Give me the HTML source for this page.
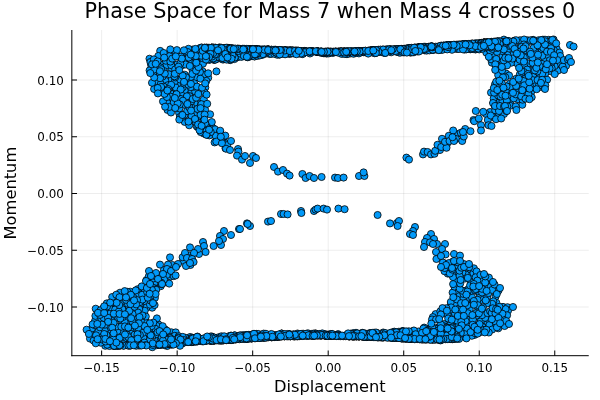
<!DOCTYPE html>
<html lang="en"><head><meta charset="utf-8"><title>Phase Space for Mass 7 when Mass 4 crosses 0</title>
<style>html,body{margin:0;padding:0;background:#fff;overflow:hidden}svg{display:block;will-change:transform;opacity:0.999}text{font-family:"DejaVu Sans","Liberation Sans",sans-serif;fill:#000}.t{font-size:11.90px}.g{font-size:16.28px}.h{font-size:20.75px}</style></head><body>
<svg width="600" height="400" viewBox="0 0 600 400">
<rect width="600" height="400" fill="#fff"/>
<g stroke="#000" stroke-opacity="0.1" stroke-width="0.7" fill="none"><line x1="101.64" y1="30.00" x2="101.64" y2="355.70"/><line x1="177.16" y1="30.00" x2="177.16" y2="355.70"/><line x1="252.68" y1="30.00" x2="252.68" y2="355.70"/><line x1="328.20" y1="30.00" x2="328.20" y2="355.70"/><line x1="403.72" y1="30.00" x2="403.72" y2="355.70"/><line x1="479.24" y1="30.00" x2="479.24" y2="355.70"/><line x1="554.76" y1="30.00" x2="554.76" y2="355.70"/><line x1="71.83" y1="307.00" x2="588.75" y2="307.00"/><line x1="71.83" y1="250.25" x2="588.75" y2="250.25"/><line x1="71.83" y1="193.50" x2="588.75" y2="193.50"/><line x1="71.83" y1="136.75" x2="588.75" y2="136.75"/><line x1="71.83" y1="80.00" x2="588.75" y2="80.00"/></g>
<g stroke="#000" stroke-width="1" fill="none"><line x1="71.83" y1="30.00" x2="71.83" y2="356.20"/><line x1="71.33" y1="355.70" x2="588.75" y2="355.70"/><line x1="101.64" y1="355.70" x2="101.64" y2="350.50"/><line x1="177.16" y1="355.70" x2="177.16" y2="350.50"/><line x1="252.68" y1="355.70" x2="252.68" y2="350.50"/><line x1="328.20" y1="355.70" x2="328.20" y2="350.50"/><line x1="403.72" y1="355.70" x2="403.72" y2="350.50"/><line x1="479.24" y1="355.70" x2="479.24" y2="350.50"/><line x1="554.76" y1="355.70" x2="554.76" y2="350.50"/><line x1="71.83" y1="307.00" x2="77.03" y2="307.00"/><line x1="71.83" y1="250.25" x2="77.03" y2="250.25"/><line x1="71.83" y1="193.50" x2="77.03" y2="193.50"/><line x1="71.83" y1="136.75" x2="77.03" y2="136.75"/><line x1="71.83" y1="80.00" x2="77.03" y2="80.00"/></g>
<g class="m" fill="#009AFA" stroke="#000" stroke-width="0.8">
<circle cx="451.9" cy="265.3" r="3.55"/>
<circle cx="380.0" cy="337.4" r="3.55"/>
<circle cx="327.1" cy="334.8" r="3.55"/>
<circle cx="215.3" cy="59.1" r="3.55"/>
<circle cx="454.4" cy="327.2" r="3.55"/>
<circle cx="366.9" cy="336.6" r="3.55"/>
<circle cx="208.0" cy="338.6" r="3.55"/>
<circle cx="451.0" cy="304.4" r="3.55"/>
<circle cx="553.3" cy="40.2" r="3.55"/>
<circle cx="438.4" cy="329.0" r="3.55"/>
<circle cx="389.9" cy="49.4" r="3.55"/>
<circle cx="218.7" cy="47.7" r="3.55"/>
<circle cx="252.0" cy="51.3" r="3.55"/>
<circle cx="492.3" cy="323.0" r="3.55"/>
<circle cx="238.7" cy="48.7" r="3.55"/>
<circle cx="309.4" cy="334.5" r="3.55"/>
<circle cx="274.2" cy="336.6" r="3.55"/>
<circle cx="319.9" cy="52.4" r="3.55"/>
<circle cx="229.7" cy="51.9" r="3.55"/>
<circle cx="359.3" cy="336.5" r="3.55"/>
<circle cx="205.5" cy="54.1" r="3.55"/>
<circle cx="455.4" cy="48.4" r="3.55"/>
<circle cx="458.9" cy="264.1" r="3.55"/>
<circle cx="461.2" cy="336.7" r="3.55"/>
<circle cx="338.4" cy="335.6" r="3.55"/>
<circle cx="130.0" cy="342.4" r="3.55"/>
<circle cx="141.9" cy="289.6" r="3.55"/>
<circle cx="483.3" cy="42.8" r="3.55"/>
<circle cx="249.4" cy="56.7" r="3.55"/>
<circle cx="286.7" cy="335.9" r="3.55"/>
<circle cx="248.7" cy="49.0" r="3.55"/>
<circle cx="423.5" cy="332.0" r="3.55"/>
<circle cx="408.4" cy="48.8" r="3.55"/>
<circle cx="464.8" cy="278.6" r="3.55"/>
<circle cx="525.4" cy="40.6" r="3.55"/>
<circle cx="175.9" cy="337.2" r="3.55"/>
<circle cx="220.2" cy="47.8" r="3.55"/>
<circle cx="175.8" cy="90.2" r="3.55"/>
<circle cx="146.5" cy="280.1" r="3.55"/>
<circle cx="297.5" cy="333.5" r="3.55"/>
<circle cx="214.3" cy="59.8" r="3.55"/>
<circle cx="402.0" cy="49.3" r="3.55"/>
<circle cx="353.1" cy="336.5" r="3.55"/>
<circle cx="258.4" cy="51.6" r="3.55"/>
<circle cx="403.2" cy="338.5" r="3.55"/>
<circle cx="446.1" cy="337.1" r="3.55"/>
<circle cx="491.9" cy="62.7" r="3.55"/>
<circle cx="125.6" cy="310.1" r="3.55"/>
<circle cx="344.3" cy="51.6" r="3.55"/>
<circle cx="421.9" cy="339.2" r="3.55"/>
<circle cx="232.3" cy="49.8" r="3.55"/>
<circle cx="231.7" cy="48.6" r="3.55"/>
<circle cx="468.4" cy="47.3" r="3.55"/>
<circle cx="385.3" cy="52.9" r="3.55"/>
<circle cx="494.1" cy="41.7" r="3.55"/>
<circle cx="455.8" cy="292.7" r="3.55"/>
<circle cx="486.3" cy="52.6" r="3.55"/>
<circle cx="187.5" cy="113.4" r="3.55"/>
<circle cx="370.5" cy="333.3" r="3.55"/>
<circle cx="196.3" cy="341.1" r="3.55"/>
<circle cx="144.3" cy="297.9" r="3.55"/>
<circle cx="528.5" cy="63.6" r="3.55"/>
<circle cx="339.9" cy="335.7" r="3.55"/>
<circle cx="138.9" cy="343.6" r="3.55"/>
<circle cx="414.9" cy="338.6" r="3.55"/>
<circle cx="226.2" cy="48.3" r="3.55"/>
<circle cx="479.3" cy="317.6" r="3.55"/>
<circle cx="163.5" cy="343.6" r="3.55"/>
<circle cx="472.5" cy="45.0" r="3.55"/>
<circle cx="251.3" cy="338.5" r="3.55"/>
<circle cx="236.0" cy="48.9" r="3.55"/>
<circle cx="258.9" cy="54.4" r="3.55"/>
<circle cx="275.3" cy="50.6" r="3.55"/>
<circle cx="480.1" cy="300.3" r="3.55"/>
<circle cx="191.3" cy="90.9" r="3.55"/>
<circle cx="211.8" cy="54.4" r="3.55"/>
<circle cx="171.5" cy="79.7" r="3.55"/>
<circle cx="146.3" cy="334.9" r="3.55"/>
<circle cx="402.9" cy="331.3" r="3.55"/>
<circle cx="355.5" cy="334.6" r="3.55"/>
<circle cx="407.2" cy="338.5" r="3.55"/>
<circle cx="221.1" cy="340.2" r="3.55"/>
<circle cx="298.6" cy="50.9" r="3.55"/>
<circle cx="330.8" cy="334.0" r="3.55"/>
<circle cx="223.0" cy="49.6" r="3.55"/>
<circle cx="462.6" cy="44.2" r="3.55"/>
<circle cx="204.1" cy="341.1" r="3.55"/>
<circle cx="527.7" cy="40.3" r="3.55"/>
<circle cx="474.9" cy="49.1" r="3.55"/>
<circle cx="405.1" cy="50.3" r="3.55"/>
<circle cx="443.5" cy="333.1" r="3.55"/>
<circle cx="362.3" cy="51.1" r="3.55"/>
<circle cx="265.2" cy="337.1" r="3.55"/>
<circle cx="438.6" cy="329.8" r="3.55"/>
<circle cx="242.8" cy="338.8" r="3.55"/>
<circle cx="289.4" cy="334.3" r="3.55"/>
<circle cx="213.9" cy="59.8" r="3.55"/>
<circle cx="402.4" cy="331.2" r="3.55"/>
<circle cx="316.2" cy="51.8" r="3.55"/>
<circle cx="264.3" cy="49.9" r="3.55"/>
<circle cx="401.6" cy="48.9" r="3.55"/>
<circle cx="182.6" cy="339.0" r="3.55"/>
<circle cx="470.2" cy="46.1" r="3.55"/>
<circle cx="273.1" cy="51.3" r="3.55"/>
<circle cx="321.8" cy="52.9" r="3.55"/>
<circle cx="205.5" cy="340.6" r="3.55"/>
<circle cx="171.0" cy="338.3" r="3.55"/>
<circle cx="477.3" cy="45.4" r="3.55"/>
<circle cx="511.2" cy="44.0" r="3.55"/>
<circle cx="227.5" cy="48.0" r="3.55"/>
<circle cx="187.6" cy="342.0" r="3.55"/>
<circle cx="451.9" cy="335.8" r="3.55"/>
<circle cx="184.7" cy="90.2" r="3.55"/>
<circle cx="487.0" cy="321.3" r="3.55"/>
<circle cx="163.4" cy="337.6" r="3.55"/>
<circle cx="285.2" cy="53.8" r="3.55"/>
<circle cx="409.2" cy="338.5" r="3.55"/>
<circle cx="383.4" cy="337.1" r="3.55"/>
<circle cx="419.3" cy="48.7" r="3.55"/>
<circle cx="318.3" cy="51.6" r="3.55"/>
<circle cx="471.4" cy="43.6" r="3.55"/>
<circle cx="218.2" cy="340.2" r="3.55"/>
<circle cx="289.4" cy="50.3" r="3.55"/>
<circle cx="498.5" cy="290.5" r="3.55"/>
<circle cx="159.0" cy="341.6" r="3.55"/>
<circle cx="270.5" cy="51.5" r="3.55"/>
<circle cx="414.5" cy="49.3" r="3.55"/>
<circle cx="346.5" cy="52.0" r="3.55"/>
<circle cx="194.9" cy="105.5" r="3.55"/>
<circle cx="449.7" cy="328.3" r="3.55"/>
<circle cx="223.3" cy="51.4" r="3.55"/>
<circle cx="122.4" cy="331.3" r="3.55"/>
<circle cx="296.5" cy="335.2" r="3.55"/>
<circle cx="458.6" cy="265.8" r="3.55"/>
<circle cx="417.2" cy="48.3" r="3.55"/>
<circle cx="177.5" cy="343.2" r="3.55"/>
<circle cx="156.0" cy="73.7" r="3.55"/>
<circle cx="373.3" cy="50.1" r="3.55"/>
<circle cx="465.3" cy="44.4" r="3.55"/>
<circle cx="453.5" cy="338.0" r="3.55"/>
<circle cx="265.5" cy="51.7" r="3.55"/>
<circle cx="216.2" cy="338.9" r="3.55"/>
<circle cx="382.6" cy="49.8" r="3.55"/>
<circle cx="171.2" cy="342.7" r="3.55"/>
<circle cx="355.1" cy="52.2" r="3.55"/>
<circle cx="498.3" cy="328.3" r="3.55"/>
<circle cx="378.8" cy="336.5" r="3.55"/>
<circle cx="402.5" cy="338.4" r="3.55"/>
<circle cx="329.2" cy="335.8" r="3.55"/>
<circle cx="480.7" cy="43.1" r="3.55"/>
<circle cx="164.6" cy="344.0" r="3.55"/>
<circle cx="211.1" cy="48.1" r="3.55"/>
<circle cx="164.8" cy="282.4" r="3.55"/>
<circle cx="236.3" cy="339.1" r="3.55"/>
<circle cx="231.9" cy="50.3" r="3.55"/>
<circle cx="457.3" cy="45.9" r="3.55"/>
<circle cx="316.4" cy="51.8" r="3.55"/>
<circle cx="383.5" cy="50.1" r="3.55"/>
<circle cx="518.0" cy="99.2" r="3.55"/>
<circle cx="346.2" cy="336.0" r="3.55"/>
<circle cx="548.8" cy="39.8" r="3.55"/>
<circle cx="133.3" cy="312.1" r="3.55"/>
<circle cx="294.6" cy="335.7" r="3.55"/>
<circle cx="448.6" cy="46.1" r="3.55"/>
<circle cx="117.2" cy="345.8" r="3.55"/>
<circle cx="442.3" cy="47.4" r="3.55"/>
<circle cx="539.3" cy="47.8" r="3.55"/>
<circle cx="332.8" cy="53.0" r="3.55"/>
<circle cx="544.5" cy="60.3" r="3.55"/>
<circle cx="224.6" cy="57.0" r="3.55"/>
<circle cx="203.8" cy="99.5" r="3.55"/>
<circle cx="449.7" cy="334.6" r="3.55"/>
<circle cx="168.9" cy="341.6" r="3.55"/>
<circle cx="560.0" cy="63.5" r="3.55"/>
<circle cx="468.3" cy="289.1" r="3.55"/>
<circle cx="144.7" cy="339.8" r="3.55"/>
<circle cx="401.3" cy="335.1" r="3.55"/>
<circle cx="138.5" cy="292.3" r="3.55"/>
<circle cx="430.7" cy="330.2" r="3.55"/>
<circle cx="445.1" cy="331.4" r="3.55"/>
<circle cx="403.2" cy="52.2" r="3.55"/>
<circle cx="376.6" cy="336.5" r="3.55"/>
<circle cx="278.5" cy="50.3" r="3.55"/>
<circle cx="443.0" cy="330.4" r="3.55"/>
<circle cx="160.9" cy="341.1" r="3.55"/>
<circle cx="407.5" cy="333.4" r="3.55"/>
<circle cx="218.0" cy="338.9" r="3.55"/>
<circle cx="520.8" cy="81.5" r="3.55"/>
<circle cx="169.4" cy="336.1" r="3.55"/>
<circle cx="498.3" cy="43.8" r="3.55"/>
<circle cx="531.2" cy="91.8" r="3.55"/>
<circle cx="348.4" cy="336.3" r="3.55"/>
<circle cx="436.0" cy="48.3" r="3.55"/>
<circle cx="110.8" cy="330.2" r="3.55"/>
<circle cx="484.3" cy="42.8" r="3.55"/>
<circle cx="251.8" cy="52.4" r="3.55"/>
<circle cx="200.1" cy="55.0" r="3.55"/>
<circle cx="459.5" cy="296.1" r="3.55"/>
<circle cx="214.2" cy="340.8" r="3.55"/>
<circle cx="325.8" cy="51.6" r="3.55"/>
<circle cx="435.0" cy="334.2" r="3.55"/>
<circle cx="384.8" cy="50.1" r="3.55"/>
<circle cx="465.8" cy="45.7" r="3.55"/>
<circle cx="222.5" cy="340.5" r="3.55"/>
<circle cx="450.2" cy="312.0" r="3.55"/>
<circle cx="493.8" cy="43.4" r="3.55"/>
<circle cx="249.2" cy="338.6" r="3.55"/>
<circle cx="368.1" cy="50.8" r="3.55"/>
<circle cx="406.7" cy="331.9" r="3.55"/>
<circle cx="468.8" cy="46.7" r="3.55"/>
<circle cx="465.0" cy="316.8" r="3.55"/>
<circle cx="209.6" cy="48.1" r="3.55"/>
<circle cx="449.0" cy="338.8" r="3.55"/>
<circle cx="282.7" cy="50.1" r="3.55"/>
<circle cx="446.7" cy="45.5" r="3.55"/>
<circle cx="202.5" cy="71.2" r="3.55"/>
<circle cx="325.5" cy="51.9" r="3.55"/>
<circle cx="287.3" cy="50.7" r="3.55"/>
<circle cx="276.1" cy="52.2" r="3.55"/>
<circle cx="454.0" cy="315.4" r="3.55"/>
<circle cx="242.0" cy="55.0" r="3.55"/>
<circle cx="415.2" cy="338.5" r="3.55"/>
<circle cx="298.5" cy="52.4" r="3.55"/>
<circle cx="274.9" cy="53.2" r="3.55"/>
<circle cx="399.7" cy="333.8" r="3.55"/>
<circle cx="315.1" cy="333.5" r="3.55"/>
<circle cx="261.8" cy="337.7" r="3.55"/>
<circle cx="216.7" cy="55.3" r="3.55"/>
<circle cx="275.2" cy="49.7" r="3.55"/>
<circle cx="433.8" cy="47.5" r="3.55"/>
<circle cx="451.2" cy="338.9" r="3.55"/>
<circle cx="519.8" cy="40.8" r="3.55"/>
<circle cx="451.5" cy="339.0" r="3.55"/>
<circle cx="370.2" cy="50.7" r="3.55"/>
<circle cx="189.8" cy="339.3" r="3.55"/>
<circle cx="468.7" cy="304.2" r="3.55"/>
<circle cx="232.0" cy="339.3" r="3.55"/>
<circle cx="334.7" cy="335.5" r="3.55"/>
<circle cx="176.7" cy="340.5" r="3.55"/>
<circle cx="474.6" cy="334.9" r="3.55"/>
<circle cx="402.9" cy="337.9" r="3.55"/>
<circle cx="304.8" cy="50.9" r="3.55"/>
<circle cx="374.4" cy="335.7" r="3.55"/>
<circle cx="406.4" cy="48.8" r="3.55"/>
<circle cx="480.4" cy="43.2" r="3.55"/>
<circle cx="175.4" cy="341.4" r="3.55"/>
<circle cx="505.6" cy="43.8" r="3.55"/>
<circle cx="476.9" cy="43.4" r="3.55"/>
<circle cx="455.5" cy="303.1" r="3.55"/>
<circle cx="322.0" cy="335.1" r="3.55"/>
<circle cx="480.8" cy="321.1" r="3.55"/>
<circle cx="344.5" cy="51.7" r="3.55"/>
<circle cx="201.0" cy="51.3" r="3.55"/>
<circle cx="365.2" cy="50.9" r="3.55"/>
<circle cx="377.1" cy="334.3" r="3.55"/>
<circle cx="148.0" cy="340.7" r="3.55"/>
<circle cx="481.6" cy="297.1" r="3.55"/>
<circle cx="396.4" cy="337.7" r="3.55"/>
<circle cx="167.5" cy="109.9" r="3.55"/>
<circle cx="419.0" cy="332.6" r="3.55"/>
<circle cx="273.3" cy="51.2" r="3.55"/>
<circle cx="480.7" cy="43.1" r="3.55"/>
<circle cx="166.5" cy="334.8" r="3.55"/>
<circle cx="285.1" cy="50.2" r="3.55"/>
<circle cx="522.3" cy="104.8" r="3.55"/>
<circle cx="363.1" cy="336.6" r="3.55"/>
<circle cx="476.9" cy="315.5" r="3.55"/>
<circle cx="106.1" cy="313.8" r="3.55"/>
<circle cx="192.7" cy="338.3" r="3.55"/>
<circle cx="227.9" cy="58.5" r="3.55"/>
<circle cx="356.0" cy="332.8" r="3.55"/>
<circle cx="189.9" cy="81.8" r="3.55"/>
<circle cx="366.3" cy="336.8" r="3.55"/>
<circle cx="240.1" cy="48.9" r="3.55"/>
<circle cx="218.3" cy="51.4" r="3.55"/>
<circle cx="506.0" cy="41.3" r="3.55"/>
<circle cx="250.2" cy="49.1" r="3.55"/>
<circle cx="272.5" cy="335.2" r="3.55"/>
<circle cx="450.4" cy="45.4" r="3.55"/>
<circle cx="402.8" cy="331.1" r="3.55"/>
<circle cx="471.6" cy="45.7" r="3.55"/>
<circle cx="483.8" cy="42.8" r="3.55"/>
<circle cx="363.9" cy="336.4" r="3.55"/>
<circle cx="270.7" cy="50.1" r="3.55"/>
<circle cx="301.8" cy="334.4" r="3.55"/>
<circle cx="162.8" cy="344.2" r="3.55"/>
<circle cx="217.4" cy="338.2" r="3.55"/>
<circle cx="203.3" cy="106.8" r="3.55"/>
<circle cx="250.1" cy="53.8" r="3.55"/>
<circle cx="304.4" cy="52.6" r="3.55"/>
<circle cx="115.6" cy="336.6" r="3.55"/>
<circle cx="203.6" cy="129.3" r="3.55"/>
<circle cx="256.5" cy="49.2" r="3.55"/>
<circle cx="396.0" cy="49.4" r="3.55"/>
<circle cx="424.7" cy="50.4" r="3.55"/>
<circle cx="94.3" cy="332.9" r="3.55"/>
<circle cx="538.7" cy="40.2" r="3.55"/>
<circle cx="457.3" cy="46.5" r="3.55"/>
<circle cx="332.0" cy="335.9" r="3.55"/>
<circle cx="221.2" cy="58.7" r="3.55"/>
<circle cx="149.2" cy="281.0" r="3.55"/>
<circle cx="319.6" cy="335.4" r="3.55"/>
<circle cx="398.8" cy="337.7" r="3.55"/>
<circle cx="431.3" cy="48.1" r="3.55"/>
<circle cx="478.7" cy="274.4" r="3.55"/>
<circle cx="383.1" cy="337.2" r="3.55"/>
<circle cx="205.0" cy="52.2" r="3.55"/>
<circle cx="387.7" cy="337.1" r="3.55"/>
<circle cx="105.3" cy="345.8" r="3.55"/>
<circle cx="513.5" cy="41.2" r="3.55"/>
<circle cx="340.4" cy="51.5" r="3.55"/>
<circle cx="497.7" cy="41.9" r="3.55"/>
<circle cx="229.8" cy="336.6" r="3.55"/>
<circle cx="216.5" cy="59.1" r="3.55"/>
<circle cx="307.9" cy="333.3" r="3.55"/>
<circle cx="153.2" cy="293.3" r="3.55"/>
<circle cx="419.7" cy="47.1" r="3.55"/>
<circle cx="268.8" cy="49.8" r="3.55"/>
<circle cx="431.4" cy="334.0" r="3.55"/>
<circle cx="430.1" cy="339.5" r="3.55"/>
<circle cx="455.3" cy="334.4" r="3.55"/>
<circle cx="127.7" cy="320.9" r="3.55"/>
<circle cx="230.4" cy="60.1" r="3.55"/>
<circle cx="251.2" cy="338.3" r="3.55"/>
<circle cx="158.1" cy="344.6" r="3.55"/>
<circle cx="496.9" cy="102.8" r="3.55"/>
<circle cx="372.2" cy="336.7" r="3.55"/>
<circle cx="523.3" cy="90.9" r="3.55"/>
<circle cx="434.4" cy="339.1" r="3.55"/>
<circle cx="473.0" cy="323.3" r="3.55"/>
<circle cx="196.8" cy="126.5" r="3.55"/>
<circle cx="332.4" cy="52.0" r="3.55"/>
<circle cx="185.5" cy="341.5" r="3.55"/>
<circle cx="112.5" cy="317.7" r="3.55"/>
<circle cx="470.4" cy="49.3" r="3.55"/>
<circle cx="192.7" cy="341.9" r="3.55"/>
<circle cx="449.3" cy="329.0" r="3.55"/>
<circle cx="422.5" cy="339.1" r="3.55"/>
<circle cx="234.5" cy="53.1" r="3.55"/>
<circle cx="445.7" cy="48.4" r="3.55"/>
<circle cx="244.2" cy="50.2" r="3.55"/>
<circle cx="503.0" cy="306.9" r="3.55"/>
<circle cx="118.1" cy="315.1" r="3.55"/>
<circle cx="226.9" cy="48.2" r="3.55"/>
<circle cx="227.2" cy="47.9" r="3.55"/>
<circle cx="163.3" cy="343.8" r="3.55"/>
<circle cx="218.9" cy="340.2" r="3.55"/>
<circle cx="206.4" cy="49.3" r="3.55"/>
<circle cx="228.7" cy="337.7" r="3.55"/>
<circle cx="327.2" cy="335.6" r="3.55"/>
<circle cx="185.9" cy="55.5" r="3.55"/>
<circle cx="481.3" cy="43.0" r="3.55"/>
<circle cx="108.8" cy="326.9" r="3.55"/>
<circle cx="541.3" cy="87.0" r="3.55"/>
<circle cx="180.8" cy="93.8" r="3.55"/>
<circle cx="444.2" cy="331.2" r="3.55"/>
<circle cx="383.5" cy="337.2" r="3.55"/>
<circle cx="479.3" cy="49.4" r="3.55"/>
<circle cx="296.5" cy="335.8" r="3.55"/>
<circle cx="257.3" cy="337.6" r="3.55"/>
<circle cx="350.2" cy="53.5" r="3.55"/>
<circle cx="211.5" cy="56.5" r="3.55"/>
<circle cx="447.3" cy="334.4" r="3.55"/>
<circle cx="254.6" cy="56.3" r="3.55"/>
<circle cx="215.5" cy="54.6" r="3.55"/>
<circle cx="444.1" cy="324.1" r="3.55"/>
<circle cx="157.0" cy="285.9" r="3.55"/>
<circle cx="363.3" cy="51.0" r="3.55"/>
<circle cx="514.5" cy="40.6" r="3.55"/>
<circle cx="173.8" cy="105.1" r="3.55"/>
<circle cx="262.1" cy="337.3" r="3.55"/>
<circle cx="290.3" cy="50.4" r="3.55"/>
<circle cx="173.0" cy="339.6" r="3.55"/>
<circle cx="201.2" cy="339.3" r="3.55"/>
<circle cx="426.2" cy="330.3" r="3.55"/>
<circle cx="405.6" cy="338.7" r="3.55"/>
<circle cx="535.9" cy="41.8" r="3.55"/>
<circle cx="445.5" cy="48.8" r="3.55"/>
<circle cx="169.4" cy="74.2" r="3.55"/>
<circle cx="533.3" cy="39.9" r="3.55"/>
<circle cx="100.2" cy="337.2" r="3.55"/>
<circle cx="227.6" cy="48.1" r="3.55"/>
<circle cx="233.9" cy="48.8" r="3.55"/>
<circle cx="139.0" cy="329.0" r="3.55"/>
<circle cx="466.7" cy="44.4" r="3.55"/>
<circle cx="141.0" cy="310.2" r="3.55"/>
<circle cx="164.0" cy="344.3" r="3.55"/>
<circle cx="233.5" cy="338.5" r="3.55"/>
<circle cx="250.3" cy="335.2" r="3.55"/>
<circle cx="225.8" cy="49.3" r="3.55"/>
<circle cx="171.1" cy="67.8" r="3.55"/>
<circle cx="496.3" cy="302.7" r="3.55"/>
<circle cx="302.1" cy="336.1" r="3.55"/>
<circle cx="297.8" cy="336.3" r="3.55"/>
<circle cx="398.4" cy="337.8" r="3.55"/>
<circle cx="444.7" cy="338.6" r="3.55"/>
<circle cx="550.9" cy="71.3" r="3.55"/>
<circle cx="185.7" cy="58.7" r="3.55"/>
<circle cx="112.6" cy="321.2" r="3.55"/>
<circle cx="394.1" cy="332.2" r="3.55"/>
<circle cx="414.9" cy="47.6" r="3.55"/>
<circle cx="432.9" cy="330.5" r="3.55"/>
<circle cx="367.6" cy="334.3" r="3.55"/>
<circle cx="422.3" cy="338.2" r="3.55"/>
<circle cx="432.4" cy="339.6" r="3.55"/>
<circle cx="476.2" cy="44.0" r="3.55"/>
<circle cx="524.5" cy="63.9" r="3.55"/>
<circle cx="518.3" cy="40.9" r="3.55"/>
<circle cx="271.7" cy="49.8" r="3.55"/>
<circle cx="349.2" cy="336.4" r="3.55"/>
<circle cx="363.3" cy="51.4" r="3.55"/>
<circle cx="208.2" cy="77.8" r="3.55"/>
<circle cx="327.7" cy="335.8" r="3.55"/>
<circle cx="428.8" cy="328.7" r="3.55"/>
<circle cx="251.5" cy="49.2" r="3.55"/>
<circle cx="93.5" cy="327.0" r="3.55"/>
<circle cx="439.5" cy="335.1" r="3.55"/>
<circle cx="493.7" cy="102.6" r="3.55"/>
<circle cx="223.6" cy="51.1" r="3.55"/>
<circle cx="212.5" cy="48.2" r="3.55"/>
<circle cx="231.7" cy="57.8" r="3.55"/>
<circle cx="140.6" cy="344.6" r="3.55"/>
<circle cx="314.0" cy="335.7" r="3.55"/>
<circle cx="437.1" cy="49.7" r="3.55"/>
<circle cx="435.9" cy="329.3" r="3.55"/>
<circle cx="437.1" cy="338.0" r="3.55"/>
<circle cx="145.2" cy="303.7" r="3.55"/>
<circle cx="364.6" cy="336.5" r="3.55"/>
<circle cx="261.5" cy="54.4" r="3.55"/>
<circle cx="383.8" cy="337.0" r="3.55"/>
<circle cx="254.5" cy="337.9" r="3.55"/>
<circle cx="163.5" cy="344.1" r="3.55"/>
<circle cx="171.3" cy="338.7" r="3.55"/>
<circle cx="205.6" cy="48.1" r="3.55"/>
<circle cx="201.2" cy="116.7" r="3.55"/>
<circle cx="168.7" cy="341.9" r="3.55"/>
<circle cx="347.9" cy="51.3" r="3.55"/>
<circle cx="268.0" cy="51.4" r="3.55"/>
<circle cx="266.6" cy="335.0" r="3.55"/>
<circle cx="184.6" cy="342.3" r="3.55"/>
<circle cx="248.7" cy="337.2" r="3.55"/>
<circle cx="446.3" cy="328.5" r="3.55"/>
<circle cx="277.1" cy="336.4" r="3.55"/>
<circle cx="176.7" cy="339.2" r="3.55"/>
<circle cx="381.7" cy="335.0" r="3.55"/>
<circle cx="439.8" cy="330.6" r="3.55"/>
<circle cx="289.0" cy="51.0" r="3.55"/>
<circle cx="454.0" cy="333.5" r="3.55"/>
<circle cx="479.6" cy="293.9" r="3.55"/>
<circle cx="264.0" cy="334.6" r="3.55"/>
<circle cx="198.4" cy="338.3" r="3.55"/>
<circle cx="190.1" cy="337.0" r="3.55"/>
<circle cx="137.7" cy="289.2" r="3.55"/>
<circle cx="483.3" cy="277.6" r="3.55"/>
<circle cx="200.5" cy="50.2" r="3.55"/>
<circle cx="526.2" cy="56.2" r="3.55"/>
<circle cx="212.9" cy="52.4" r="3.55"/>
<circle cx="463.7" cy="44.3" r="3.55"/>
<circle cx="234.3" cy="339.1" r="3.55"/>
<circle cx="442.4" cy="46.3" r="3.55"/>
<circle cx="285.3" cy="50.6" r="3.55"/>
<circle cx="400.2" cy="336.6" r="3.55"/>
<circle cx="411.7" cy="49.2" r="3.55"/>
<circle cx="460.3" cy="45.1" r="3.55"/>
<circle cx="224.1" cy="47.9" r="3.55"/>
<circle cx="207.2" cy="57.5" r="3.55"/>
<circle cx="440.4" cy="339.1" r="3.55"/>
<circle cx="313.0" cy="51.4" r="3.55"/>
<circle cx="539.8" cy="52.8" r="3.55"/>
<circle cx="435.0" cy="337.4" r="3.55"/>
<circle cx="229.7" cy="52.3" r="3.55"/>
<circle cx="182.8" cy="87.3" r="3.55"/>
<circle cx="218.2" cy="132.4" r="3.55"/>
<circle cx="118.3" cy="318.5" r="3.55"/>
<circle cx="225.5" cy="148.3" r="3.55"/>
<circle cx="211.6" cy="126.5" r="3.55"/>
<circle cx="261.4" cy="52.5" r="3.55"/>
<circle cx="286.7" cy="335.4" r="3.55"/>
<circle cx="418.9" cy="47.8" r="3.55"/>
<circle cx="358.6" cy="336.4" r="3.55"/>
<circle cx="153.6" cy="345.0" r="3.55"/>
<circle cx="437.8" cy="331.5" r="3.55"/>
<circle cx="237.2" cy="51.6" r="3.55"/>
<circle cx="177.9" cy="87.3" r="3.55"/>
<circle cx="374.4" cy="50.3" r="3.55"/>
<circle cx="191.7" cy="63.1" r="3.55"/>
<circle cx="429.0" cy="331.3" r="3.55"/>
<circle cx="368.5" cy="52.1" r="3.55"/>
<circle cx="428.9" cy="46.7" r="3.55"/>
<circle cx="508.8" cy="41.2" r="3.55"/>
<circle cx="455.6" cy="268.7" r="3.55"/>
<circle cx="481.6" cy="48.2" r="3.55"/>
<circle cx="491.0" cy="92.6" r="3.55"/>
<circle cx="374.6" cy="53.2" r="3.55"/>
<circle cx="481.1" cy="43.3" r="3.55"/>
<circle cx="547.9" cy="55.1" r="3.55"/>
<circle cx="526.4" cy="51.6" r="3.55"/>
<circle cx="331.9" cy="335.8" r="3.55"/>
<circle cx="267.8" cy="49.5" r="3.55"/>
<circle cx="412.2" cy="48.2" r="3.55"/>
<circle cx="459.4" cy="44.5" r="3.55"/>
<circle cx="217.3" cy="56.5" r="3.55"/>
<circle cx="293.5" cy="50.8" r="3.55"/>
<circle cx="242.1" cy="55.2" r="3.55"/>
<circle cx="129.4" cy="317.0" r="3.55"/>
<circle cx="212.3" cy="47.8" r="3.55"/>
<circle cx="363.1" cy="336.8" r="3.55"/>
<circle cx="220.3" cy="337.5" r="3.55"/>
<circle cx="465.6" cy="308.2" r="3.55"/>
<circle cx="222.3" cy="48.2" r="3.55"/>
<circle cx="276.8" cy="50.1" r="3.55"/>
<circle cx="240.2" cy="338.3" r="3.55"/>
<circle cx="225.1" cy="48.0" r="3.55"/>
<circle cx="133.1" cy="328.8" r="3.55"/>
<circle cx="336.8" cy="336.1" r="3.55"/>
<circle cx="343.4" cy="52.0" r="3.55"/>
<circle cx="215.3" cy="59.6" r="3.55"/>
<circle cx="123.1" cy="340.4" r="3.55"/>
<circle cx="467.8" cy="325.2" r="3.55"/>
<circle cx="401.9" cy="52.1" r="3.55"/>
<circle cx="457.0" cy="49.0" r="3.55"/>
<circle cx="130.8" cy="330.4" r="3.55"/>
<circle cx="182.2" cy="65.2" r="3.55"/>
<circle cx="304.1" cy="52.4" r="3.55"/>
<circle cx="312.6" cy="51.3" r="3.55"/>
<circle cx="424.4" cy="47.4" r="3.55"/>
<circle cx="462.1" cy="329.3" r="3.55"/>
<circle cx="450.8" cy="302.0" r="3.55"/>
<circle cx="448.3" cy="336.0" r="3.55"/>
<circle cx="485.0" cy="45.1" r="3.55"/>
<circle cx="248.3" cy="338.1" r="3.55"/>
<circle cx="477.7" cy="307.2" r="3.55"/>
<circle cx="213.1" cy="134.5" r="3.55"/>
<circle cx="220.4" cy="48.4" r="3.55"/>
<circle cx="495.5" cy="47.3" r="3.55"/>
<circle cx="213.2" cy="128.2" r="3.55"/>
<circle cx="286.4" cy="336.2" r="3.55"/>
<circle cx="356.8" cy="336.3" r="3.55"/>
<circle cx="193.7" cy="56.4" r="3.55"/>
<circle cx="479.2" cy="44.5" r="3.55"/>
<circle cx="468.2" cy="320.2" r="3.55"/>
<circle cx="197.1" cy="61.5" r="3.55"/>
<circle cx="220.6" cy="340.4" r="3.55"/>
<circle cx="427.0" cy="46.9" r="3.55"/>
<circle cx="438.5" cy="327.7" r="3.55"/>
<circle cx="159.0" cy="344.3" r="3.55"/>
<circle cx="366.8" cy="51.3" r="3.55"/>
<circle cx="338.1" cy="334.1" r="3.55"/>
<circle cx="349.4" cy="336.4" r="3.55"/>
<circle cx="179.0" cy="83.2" r="3.55"/>
<circle cx="293.5" cy="336.4" r="3.55"/>
<circle cx="216.3" cy="340.2" r="3.55"/>
<circle cx="540.3" cy="70.7" r="3.55"/>
<circle cx="139.1" cy="319.7" r="3.55"/>
<circle cx="247.1" cy="338.5" r="3.55"/>
<circle cx="338.9" cy="51.5" r="3.55"/>
<circle cx="280.7" cy="51.2" r="3.55"/>
<circle cx="135.1" cy="316.0" r="3.55"/>
<circle cx="410.9" cy="338.6" r="3.55"/>
<circle cx="393.9" cy="49.8" r="3.55"/>
<circle cx="201.2" cy="341.0" r="3.55"/>
<circle cx="207.0" cy="126.5" r="3.55"/>
<circle cx="239.6" cy="339.2" r="3.55"/>
<circle cx="297.6" cy="335.6" r="3.55"/>
<circle cx="122.1" cy="321.5" r="3.55"/>
<circle cx="167.7" cy="341.7" r="3.55"/>
<circle cx="437.1" cy="335.5" r="3.55"/>
<circle cx="447.8" cy="273.6" r="3.55"/>
<circle cx="161.7" cy="341.9" r="3.55"/>
<circle cx="423.7" cy="335.3" r="3.55"/>
<circle cx="407.1" cy="338.4" r="3.55"/>
<circle cx="461.6" cy="300.8" r="3.55"/>
<circle cx="247.7" cy="49.0" r="3.55"/>
<circle cx="205.2" cy="56.8" r="3.55"/>
<circle cx="229.8" cy="50.5" r="3.55"/>
<circle cx="174.5" cy="341.1" r="3.55"/>
<circle cx="207.5" cy="339.2" r="3.55"/>
<circle cx="470.0" cy="275.6" r="3.55"/>
<circle cx="444.5" cy="338.1" r="3.55"/>
<circle cx="305.8" cy="335.1" r="3.55"/>
<circle cx="347.3" cy="54.0" r="3.55"/>
<circle cx="553.5" cy="40.1" r="3.55"/>
<circle cx="159.7" cy="73.3" r="3.55"/>
<circle cx="470.0" cy="45.4" r="3.55"/>
<circle cx="137.1" cy="295.0" r="3.55"/>
<circle cx="238.6" cy="51.6" r="3.55"/>
<circle cx="298.9" cy="53.1" r="3.55"/>
<circle cx="338.9" cy="335.6" r="3.55"/>
<circle cx="497.5" cy="44.7" r="3.55"/>
<circle cx="487.9" cy="318.8" r="3.55"/>
<circle cx="456.8" cy="333.0" r="3.55"/>
<circle cx="252.5" cy="49.5" r="3.55"/>
<circle cx="208.6" cy="54.0" r="3.55"/>
<circle cx="99.7" cy="319.0" r="3.55"/>
<circle cx="267.9" cy="336.9" r="3.55"/>
<circle cx="495.6" cy="296.4" r="3.55"/>
<circle cx="503.9" cy="39.6" r="3.55"/>
<circle cx="210.2" cy="51.7" r="3.55"/>
<circle cx="496.9" cy="288.3" r="3.55"/>
<circle cx="407.8" cy="333.6" r="3.55"/>
<circle cx="130.1" cy="342.5" r="3.55"/>
<circle cx="309.9" cy="335.6" r="3.55"/>
<circle cx="424.3" cy="47.2" r="3.55"/>
<circle cx="525.6" cy="50.0" r="3.55"/>
<circle cx="405.3" cy="51.2" r="3.55"/>
<circle cx="338.4" cy="52.1" r="3.55"/>
<circle cx="178.5" cy="343.1" r="3.55"/>
<circle cx="112.3" cy="305.6" r="3.55"/>
<circle cx="437.2" cy="339.2" r="3.55"/>
<circle cx="556.7" cy="48.9" r="3.55"/>
<circle cx="366.1" cy="336.4" r="3.55"/>
<circle cx="363.8" cy="52.3" r="3.55"/>
<circle cx="362.3" cy="51.4" r="3.55"/>
<circle cx="265.4" cy="53.4" r="3.55"/>
<circle cx="206.2" cy="48.9" r="3.55"/>
<circle cx="167.7" cy="341.9" r="3.55"/>
<circle cx="100.9" cy="328.5" r="3.55"/>
<circle cx="215.0" cy="129.3" r="3.55"/>
<circle cx="163.3" cy="64.5" r="3.55"/>
<circle cx="128.7" cy="345.4" r="3.55"/>
<circle cx="203.8" cy="133.5" r="3.55"/>
<circle cx="168.9" cy="343.4" r="3.55"/>
<circle cx="485.1" cy="317.8" r="3.55"/>
<circle cx="543.3" cy="48.1" r="3.55"/>
<circle cx="363.4" cy="51.3" r="3.55"/>
<circle cx="450.9" cy="336.7" r="3.55"/>
<circle cx="308.0" cy="335.3" r="3.55"/>
<circle cx="495.8" cy="47.1" r="3.55"/>
<circle cx="345.0" cy="52.7" r="3.55"/>
<circle cx="487.1" cy="297.2" r="3.55"/>
<circle cx="127.1" cy="329.7" r="3.55"/>
<circle cx="213.2" cy="47.7" r="3.55"/>
<circle cx="499.3" cy="46.7" r="3.55"/>
<circle cx="515.3" cy="52.1" r="3.55"/>
<circle cx="497.4" cy="107.0" r="3.55"/>
<circle cx="374.0" cy="50.9" r="3.55"/>
<circle cx="261.5" cy="337.3" r="3.55"/>
<circle cx="95.2" cy="330.6" r="3.55"/>
<circle cx="311.3" cy="335.5" r="3.55"/>
<circle cx="511.8" cy="55.3" r="3.55"/>
<circle cx="328.3" cy="335.6" r="3.55"/>
<circle cx="289.2" cy="53.4" r="3.55"/>
<circle cx="458.8" cy="321.7" r="3.55"/>
<circle cx="414.1" cy="331.6" r="3.55"/>
<circle cx="418.1" cy="47.4" r="3.55"/>
<circle cx="193.6" cy="341.3" r="3.55"/>
<circle cx="198.9" cy="69.7" r="3.55"/>
<circle cx="209.4" cy="135.4" r="3.55"/>
<circle cx="219.8" cy="48.1" r="3.55"/>
<circle cx="304.0" cy="335.4" r="3.55"/>
<circle cx="351.2" cy="51.6" r="3.55"/>
<circle cx="333.5" cy="51.9" r="3.55"/>
<circle cx="179.0" cy="338.2" r="3.55"/>
<circle cx="152.2" cy="307.7" r="3.55"/>
<circle cx="388.5" cy="334.6" r="3.55"/>
<circle cx="126.8" cy="345.2" r="3.55"/>
<circle cx="557.9" cy="70.6" r="3.55"/>
<circle cx="493.8" cy="44.5" r="3.55"/>
<circle cx="423.5" cy="47.4" r="3.55"/>
<circle cx="424.1" cy="47.1" r="3.55"/>
<circle cx="185.5" cy="64.5" r="3.55"/>
<circle cx="239.5" cy="48.9" r="3.55"/>
<circle cx="426.7" cy="50.6" r="3.55"/>
<circle cx="160.2" cy="50.9" r="3.55"/>
<circle cx="205.2" cy="50.7" r="3.55"/>
<circle cx="455.3" cy="326.9" r="3.55"/>
<circle cx="276.1" cy="336.9" r="3.55"/>
<circle cx="411.0" cy="52.5" r="3.55"/>
<circle cx="196.1" cy="67.4" r="3.55"/>
<circle cx="223.0" cy="340.0" r="3.55"/>
<circle cx="422.9" cy="47.3" r="3.55"/>
<circle cx="532.9" cy="40.5" r="3.55"/>
<circle cx="475.0" cy="43.8" r="3.55"/>
<circle cx="149.5" cy="58.7" r="3.55"/>
<circle cx="221.9" cy="51.5" r="3.55"/>
<circle cx="323.4" cy="334.6" r="3.55"/>
<circle cx="391.2" cy="52.3" r="3.55"/>
<circle cx="146.6" cy="307.4" r="3.55"/>
<circle cx="184.3" cy="104.7" r="3.55"/>
<circle cx="330.9" cy="51.8" r="3.55"/>
<circle cx="196.5" cy="338.5" r="3.55"/>
<circle cx="448.5" cy="45.7" r="3.55"/>
<circle cx="118.0" cy="299.4" r="3.55"/>
<circle cx="209.6" cy="59.6" r="3.55"/>
<circle cx="507.4" cy="92.7" r="3.55"/>
<circle cx="407.4" cy="49.5" r="3.55"/>
<circle cx="305.5" cy="51.4" r="3.55"/>
<circle cx="109.6" cy="336.6" r="3.55"/>
<circle cx="405.9" cy="49.0" r="3.55"/>
<circle cx="443.4" cy="45.7" r="3.55"/>
<circle cx="257.3" cy="337.7" r="3.55"/>
<circle cx="440.6" cy="339.2" r="3.55"/>
<circle cx="326.0" cy="335.6" r="3.55"/>
<circle cx="502.5" cy="101.3" r="3.55"/>
<circle cx="164.4" cy="336.7" r="3.55"/>
<circle cx="193.2" cy="79.3" r="3.55"/>
<circle cx="488.8" cy="47.0" r="3.55"/>
<circle cx="378.6" cy="49.9" r="3.55"/>
<circle cx="517.1" cy="88.2" r="3.55"/>
<circle cx="228.1" cy="58.6" r="3.55"/>
<circle cx="324.9" cy="51.8" r="3.55"/>
<circle cx="471.8" cy="335.8" r="3.55"/>
<circle cx="480.9" cy="43.4" r="3.55"/>
<circle cx="281.3" cy="334.4" r="3.55"/>
<circle cx="116.5" cy="335.5" r="3.55"/>
<circle cx="187.0" cy="338.6" r="3.55"/>
<circle cx="326.7" cy="53.6" r="3.55"/>
<circle cx="464.2" cy="47.8" r="3.55"/>
<circle cx="242.7" cy="49.3" r="3.55"/>
<circle cx="431.0" cy="46.8" r="3.55"/>
<circle cx="476.1" cy="313.1" r="3.55"/>
<circle cx="390.3" cy="334.0" r="3.55"/>
<circle cx="471.2" cy="48.9" r="3.55"/>
<circle cx="206.1" cy="56.2" r="3.55"/>
<circle cx="131.9" cy="344.5" r="3.55"/>
<circle cx="200.7" cy="341.0" r="3.55"/>
<circle cx="344.3" cy="51.9" r="3.55"/>
<circle cx="447.6" cy="337.3" r="3.55"/>
<circle cx="466.6" cy="49.2" r="3.55"/>
<circle cx="408.0" cy="51.3" r="3.55"/>
<circle cx="355.6" cy="335.3" r="3.55"/>
<circle cx="438.8" cy="333.4" r="3.55"/>
<circle cx="446.8" cy="339.0" r="3.55"/>
<circle cx="184.7" cy="121.9" r="3.55"/>
<circle cx="131.2" cy="333.9" r="3.55"/>
<circle cx="253.2" cy="337.6" r="3.55"/>
<circle cx="109.6" cy="307.8" r="3.55"/>
<circle cx="508.4" cy="49.0" r="3.55"/>
<circle cx="109.4" cy="314.0" r="3.55"/>
<circle cx="205.2" cy="59.7" r="3.55"/>
<circle cx="444.7" cy="330.5" r="3.55"/>
<circle cx="423.1" cy="332.8" r="3.55"/>
<circle cx="309.7" cy="51.2" r="3.55"/>
<circle cx="318.7" cy="335.4" r="3.55"/>
<circle cx="522.5" cy="99.7" r="3.55"/>
<circle cx="217.2" cy="48.2" r="3.55"/>
<circle cx="419.9" cy="339.0" r="3.55"/>
<circle cx="235.5" cy="339.3" r="3.55"/>
<circle cx="325.4" cy="334.4" r="3.55"/>
<circle cx="273.8" cy="50.3" r="3.55"/>
<circle cx="244.8" cy="339.0" r="3.55"/>
<circle cx="449.3" cy="329.4" r="3.55"/>
<circle cx="227.5" cy="339.7" r="3.55"/>
<circle cx="203.3" cy="50.3" r="3.55"/>
<circle cx="533.5" cy="61.7" r="3.55"/>
<circle cx="493.3" cy="301.3" r="3.55"/>
<circle cx="302.7" cy="53.6" r="3.55"/>
<circle cx="527.1" cy="42.5" r="3.55"/>
<circle cx="281.8" cy="335.8" r="3.55"/>
<circle cx="298.3" cy="50.9" r="3.55"/>
<circle cx="210.2" cy="51.0" r="3.55"/>
<circle cx="399.9" cy="337.0" r="3.55"/>
<circle cx="231.2" cy="51.8" r="3.55"/>
<circle cx="475.1" cy="43.4" r="3.55"/>
<circle cx="255.0" cy="49.1" r="3.55"/>
<circle cx="359.1" cy="51.2" r="3.55"/>
<circle cx="156.1" cy="83.3" r="3.55"/>
<circle cx="322.9" cy="335.0" r="3.55"/>
<circle cx="426.2" cy="332.2" r="3.55"/>
<circle cx="90.2" cy="331.9" r="3.55"/>
<circle cx="171.6" cy="343.5" r="3.55"/>
<circle cx="438.1" cy="339.0" r="3.55"/>
<circle cx="158.9" cy="339.3" r="3.55"/>
<circle cx="477.5" cy="299.8" r="3.55"/>
<circle cx="390.4" cy="337.3" r="3.55"/>
<circle cx="252.5" cy="56.0" r="3.55"/>
<circle cx="203.6" cy="74.7" r="3.55"/>
<circle cx="377.5" cy="337.2" r="3.55"/>
<circle cx="204.1" cy="341.0" r="3.55"/>
<circle cx="398.6" cy="334.3" r="3.55"/>
<circle cx="256.0" cy="50.1" r="3.55"/>
<circle cx="240.3" cy="49.2" r="3.55"/>
<circle cx="205.5" cy="55.4" r="3.55"/>
<circle cx="304.0" cy="335.1" r="3.55"/>
<circle cx="208.5" cy="52.5" r="3.55"/>
<circle cx="406.5" cy="48.8" r="3.55"/>
<circle cx="394.0" cy="337.7" r="3.55"/>
<circle cx="138.7" cy="345.4" r="3.55"/>
<circle cx="494.5" cy="57.3" r="3.55"/>
<circle cx="177.3" cy="64.4" r="3.55"/>
<circle cx="189.2" cy="125.3" r="3.55"/>
<circle cx="191.9" cy="119.4" r="3.55"/>
<circle cx="148.0" cy="284.5" r="3.55"/>
<circle cx="498.9" cy="45.8" r="3.55"/>
<circle cx="290.8" cy="336.2" r="3.55"/>
<circle cx="484.7" cy="42.6" r="3.55"/>
<circle cx="447.7" cy="338.6" r="3.55"/>
<circle cx="234.3" cy="52.5" r="3.55"/>
<circle cx="361.0" cy="335.7" r="3.55"/>
<circle cx="413.8" cy="49.7" r="3.55"/>
<circle cx="177.5" cy="343.1" r="3.55"/>
<circle cx="222.8" cy="337.2" r="3.55"/>
<circle cx="365.2" cy="333.5" r="3.55"/>
<circle cx="239.2" cy="52.5" r="3.55"/>
<circle cx="293.7" cy="334.5" r="3.55"/>
<circle cx="331.2" cy="335.9" r="3.55"/>
<circle cx="217.3" cy="52.0" r="3.55"/>
<circle cx="134.6" cy="334.7" r="3.55"/>
<circle cx="431.4" cy="327.0" r="3.55"/>
<circle cx="197.5" cy="102.8" r="3.55"/>
<circle cx="256.3" cy="333.9" r="3.55"/>
<circle cx="153.0" cy="286.0" r="3.55"/>
<circle cx="339.7" cy="335.8" r="3.55"/>
<circle cx="174.0" cy="337.7" r="3.55"/>
<circle cx="463.9" cy="44.3" r="3.55"/>
<circle cx="378.2" cy="337.3" r="3.55"/>
<circle cx="189.4" cy="96.1" r="3.55"/>
<circle cx="194.9" cy="341.1" r="3.55"/>
<circle cx="538.4" cy="76.6" r="3.55"/>
<circle cx="523.8" cy="80.7" r="3.55"/>
<circle cx="327.4" cy="335.2" r="3.55"/>
<circle cx="448.8" cy="332.3" r="3.55"/>
<circle cx="456.6" cy="332.6" r="3.55"/>
<circle cx="218.4" cy="55.4" r="3.55"/>
<circle cx="440.3" cy="339.5" r="3.55"/>
<circle cx="451.3" cy="331.0" r="3.55"/>
<circle cx="171.4" cy="332.3" r="3.55"/>
<circle cx="423.9" cy="338.4" r="3.55"/>
<circle cx="479.8" cy="332.3" r="3.55"/>
<circle cx="469.7" cy="309.2" r="3.55"/>
<circle cx="170.7" cy="339.1" r="3.55"/>
<circle cx="566.1" cy="65.8" r="3.55"/>
<circle cx="130.1" cy="301.3" r="3.55"/>
<circle cx="209.7" cy="58.4" r="3.55"/>
<circle cx="322.3" cy="333.4" r="3.55"/>
<circle cx="170.5" cy="276.5" r="3.55"/>
<circle cx="410.2" cy="52.5" r="3.55"/>
<circle cx="270.3" cy="49.9" r="3.55"/>
<circle cx="279.1" cy="50.0" r="3.55"/>
<circle cx="452.5" cy="332.7" r="3.55"/>
<circle cx="296.7" cy="50.6" r="3.55"/>
<circle cx="325.0" cy="335.6" r="3.55"/>
<circle cx="252.9" cy="51.2" r="3.55"/>
<circle cx="374.0" cy="337.2" r="3.55"/>
<circle cx="346.8" cy="54.1" r="3.55"/>
<circle cx="306.6" cy="335.5" r="3.55"/>
<circle cx="257.4" cy="335.0" r="3.55"/>
<circle cx="426.9" cy="333.7" r="3.55"/>
<circle cx="244.6" cy="50.3" r="3.55"/>
<circle cx="431.2" cy="46.4" r="3.55"/>
<circle cx="277.7" cy="336.9" r="3.55"/>
<circle cx="383.7" cy="337.1" r="3.55"/>
<circle cx="231.5" cy="337.3" r="3.55"/>
<circle cx="445.6" cy="339.2" r="3.55"/>
<circle cx="544.0" cy="76.0" r="3.55"/>
<circle cx="395.6" cy="337.8" r="3.55"/>
<circle cx="223.0" cy="59.6" r="3.55"/>
<circle cx="212.9" cy="53.0" r="3.55"/>
<circle cx="451.1" cy="307.4" r="3.55"/>
<circle cx="349.0" cy="336.1" r="3.55"/>
<circle cx="182.8" cy="338.7" r="3.55"/>
<circle cx="386.1" cy="337.2" r="3.55"/>
<circle cx="140.0" cy="304.1" r="3.55"/>
<circle cx="215.2" cy="47.7" r="3.55"/>
<circle cx="243.7" cy="49.6" r="3.55"/>
<circle cx="204.8" cy="47.8" r="3.55"/>
<circle cx="424.0" cy="339.4" r="3.55"/>
<circle cx="533.1" cy="86.1" r="3.55"/>
<circle cx="455.7" cy="281.2" r="3.55"/>
<circle cx="167.7" cy="341.4" r="3.55"/>
<circle cx="170.6" cy="93.5" r="3.55"/>
<circle cx="413.9" cy="52.3" r="3.55"/>
<circle cx="421.4" cy="333.3" r="3.55"/>
<circle cx="228.8" cy="50.9" r="3.55"/>
<circle cx="500.4" cy="91.9" r="3.55"/>
<circle cx="297.5" cy="336.1" r="3.55"/>
<circle cx="120.9" cy="341.6" r="3.55"/>
<circle cx="252.5" cy="338.1" r="3.55"/>
<circle cx="399.6" cy="337.7" r="3.55"/>
<circle cx="491.4" cy="41.8" r="3.55"/>
<circle cx="536.3" cy="83.8" r="3.55"/>
<circle cx="277.2" cy="50.2" r="3.55"/>
<circle cx="174.9" cy="81.3" r="3.55"/>
<circle cx="483.6" cy="42.6" r="3.55"/>
<circle cx="151.7" cy="330.9" r="3.55"/>
<circle cx="145.7" cy="321.6" r="3.55"/>
<circle cx="266.2" cy="336.7" r="3.55"/>
<circle cx="318.1" cy="335.5" r="3.55"/>
<circle cx="482.1" cy="315.1" r="3.55"/>
<circle cx="395.0" cy="337.6" r="3.55"/>
<circle cx="341.4" cy="51.5" r="3.55"/>
<circle cx="507.0" cy="103.7" r="3.55"/>
<circle cx="482.6" cy="48.7" r="3.55"/>
<circle cx="402.9" cy="338.0" r="3.55"/>
<circle cx="309.2" cy="335.6" r="3.55"/>
<circle cx="328.1" cy="334.6" r="3.55"/>
<circle cx="374.1" cy="50.4" r="3.55"/>
<circle cx="203.4" cy="48.6" r="3.55"/>
<circle cx="371.4" cy="335.0" r="3.55"/>
<circle cx="375.9" cy="336.9" r="3.55"/>
<circle cx="533.2" cy="41.4" r="3.55"/>
<circle cx="489.6" cy="281.2" r="3.55"/>
<circle cx="390.9" cy="337.2" r="3.55"/>
<circle cx="513.6" cy="90.9" r="3.55"/>
<circle cx="491.1" cy="59.3" r="3.55"/>
<circle cx="218.9" cy="47.9" r="3.55"/>
<circle cx="493.7" cy="98.4" r="3.55"/>
<circle cx="229.3" cy="59.8" r="3.55"/>
<circle cx="213.1" cy="47.9" r="3.55"/>
<circle cx="401.5" cy="338.4" r="3.55"/>
<circle cx="429.4" cy="50.4" r="3.55"/>
<circle cx="368.0" cy="51.0" r="3.55"/>
<circle cx="288.7" cy="52.1" r="3.55"/>
<circle cx="509.4" cy="97.0" r="3.55"/>
<circle cx="365.2" cy="51.1" r="3.55"/>
<circle cx="430.0" cy="46.9" r="3.55"/>
<circle cx="228.1" cy="338.1" r="3.55"/>
<circle cx="194.5" cy="102.8" r="3.55"/>
<circle cx="397.4" cy="337.5" r="3.55"/>
<circle cx="242.4" cy="53.7" r="3.55"/>
<circle cx="525.3" cy="74.6" r="3.55"/>
<circle cx="180.9" cy="56.6" r="3.55"/>
<circle cx="112.6" cy="302.6" r="3.55"/>
<circle cx="176.8" cy="342.8" r="3.55"/>
<circle cx="158.5" cy="340.7" r="3.55"/>
<circle cx="207.1" cy="340.3" r="3.55"/>
<circle cx="212.0" cy="340.4" r="3.55"/>
<circle cx="415.4" cy="48.0" r="3.55"/>
<circle cx="141.7" cy="286.4" r="3.55"/>
<circle cx="482.3" cy="43.2" r="3.55"/>
<circle cx="344.3" cy="51.4" r="3.55"/>
<circle cx="343.6" cy="336.2" r="3.55"/>
<circle cx="421.6" cy="47.6" r="3.55"/>
<circle cx="301.2" cy="333.9" r="3.55"/>
<circle cx="553.9" cy="50.2" r="3.55"/>
<circle cx="330.7" cy="51.7" r="3.55"/>
<circle cx="353.7" cy="336.5" r="3.55"/>
<circle cx="263.9" cy="337.6" r="3.55"/>
<circle cx="459.1" cy="45.5" r="3.55"/>
<circle cx="482.0" cy="280.8" r="3.55"/>
<circle cx="202.9" cy="49.7" r="3.55"/>
<circle cx="446.3" cy="45.8" r="3.55"/>
<circle cx="421.3" cy="339.2" r="3.55"/>
<circle cx="460.9" cy="44.8" r="3.55"/>
<circle cx="258.5" cy="334.0" r="3.55"/>
<circle cx="389.8" cy="51.3" r="3.55"/>
<circle cx="464.6" cy="49.6" r="3.55"/>
<circle cx="244.3" cy="49.2" r="3.55"/>
<circle cx="416.2" cy="336.8" r="3.55"/>
<circle cx="260.7" cy="337.3" r="3.55"/>
<circle cx="248.0" cy="338.3" r="3.55"/>
<circle cx="271.7" cy="336.6" r="3.55"/>
<circle cx="136.5" cy="328.0" r="3.55"/>
<circle cx="254.2" cy="334.1" r="3.55"/>
<circle cx="215.4" cy="47.9" r="3.55"/>
<circle cx="498.1" cy="95.5" r="3.55"/>
<circle cx="394.1" cy="335.4" r="3.55"/>
<circle cx="324.6" cy="334.7" r="3.55"/>
<circle cx="346.0" cy="51.8" r="3.55"/>
<circle cx="312.5" cy="335.5" r="3.55"/>
<circle cx="297.4" cy="336.0" r="3.55"/>
<circle cx="438.0" cy="327.5" r="3.55"/>
<circle cx="210.1" cy="114.3" r="3.55"/>
<circle cx="109.5" cy="346.0" r="3.55"/>
<circle cx="351.7" cy="51.7" r="3.55"/>
<circle cx="249.6" cy="49.3" r="3.55"/>
<circle cx="403.8" cy="50.1" r="3.55"/>
<circle cx="191.0" cy="106.4" r="3.55"/>
<circle cx="517.2" cy="49.0" r="3.55"/>
<circle cx="235.8" cy="52.9" r="3.55"/>
<circle cx="394.2" cy="331.9" r="3.55"/>
<circle cx="188.3" cy="341.9" r="3.55"/>
<circle cx="493.4" cy="49.0" r="3.55"/>
<circle cx="536.1" cy="72.0" r="3.55"/>
<circle cx="335.8" cy="51.9" r="3.55"/>
<circle cx="165.5" cy="343.9" r="3.55"/>
<circle cx="217.7" cy="340.3" r="3.55"/>
<circle cx="165.5" cy="344.0" r="3.55"/>
<circle cx="425.3" cy="46.9" r="3.55"/>
<circle cx="452.6" cy="339.1" r="3.55"/>
<circle cx="311.6" cy="51.6" r="3.55"/>
<circle cx="398.1" cy="51.8" r="3.55"/>
<circle cx="248.4" cy="49.5" r="3.55"/>
<circle cx="223.2" cy="140.0" r="3.55"/>
<circle cx="335.9" cy="51.5" r="3.55"/>
<circle cx="484.5" cy="42.6" r="3.55"/>
<circle cx="516.3" cy="78.7" r="3.55"/>
<circle cx="278.4" cy="335.7" r="3.55"/>
<circle cx="489.4" cy="325.0" r="3.55"/>
<circle cx="323.6" cy="53.2" r="3.55"/>
<circle cx="126.9" cy="334.5" r="3.55"/>
<circle cx="313.1" cy="335.7" r="3.55"/>
<circle cx="229.5" cy="338.4" r="3.55"/>
<circle cx="348.3" cy="336.0" r="3.55"/>
<circle cx="245.8" cy="55.4" r="3.55"/>
<circle cx="398.9" cy="335.5" r="3.55"/>
<circle cx="160.7" cy="286.2" r="3.55"/>
<circle cx="291.0" cy="51.8" r="3.55"/>
<circle cx="442.7" cy="328.6" r="3.55"/>
<circle cx="201.4" cy="104.2" r="3.55"/>
<circle cx="227.1" cy="338.2" r="3.55"/>
<circle cx="543.2" cy="39.8" r="3.55"/>
<circle cx="438.7" cy="335.8" r="3.55"/>
<circle cx="436.8" cy="330.6" r="3.55"/>
<circle cx="492.3" cy="303.9" r="3.55"/>
<circle cx="470.8" cy="329.4" r="3.55"/>
<circle cx="330.8" cy="52.3" r="3.55"/>
<circle cx="444.0" cy="333.4" r="3.55"/>
<circle cx="435.4" cy="338.9" r="3.55"/>
<circle cx="300.4" cy="51.4" r="3.55"/>
<circle cx="394.4" cy="337.9" r="3.55"/>
<circle cx="315.7" cy="333.5" r="3.55"/>
<circle cx="355.1" cy="51.8" r="3.55"/>
<circle cx="255.7" cy="49.6" r="3.55"/>
<circle cx="406.4" cy="338.1" r="3.55"/>
<circle cx="159.0" cy="339.5" r="3.55"/>
<circle cx="164.7" cy="343.6" r="3.55"/>
<circle cx="374.6" cy="51.0" r="3.55"/>
<circle cx="400.2" cy="50.8" r="3.55"/>
<circle cx="183.7" cy="342.3" r="3.55"/>
<circle cx="440.5" cy="340.4" r="3.55"/>
<circle cx="403.9" cy="49.6" r="3.55"/>
<circle cx="173.1" cy="343.0" r="3.55"/>
<circle cx="198.4" cy="114.4" r="3.55"/>
<circle cx="467.1" cy="328.6" r="3.55"/>
<circle cx="459.6" cy="317.4" r="3.55"/>
<circle cx="469.3" cy="49.0" r="3.55"/>
<circle cx="501.4" cy="310.0" r="3.55"/>
<circle cx="158.4" cy="324.4" r="3.55"/>
<circle cx="423.2" cy="47.3" r="3.55"/>
<circle cx="344.1" cy="51.7" r="3.55"/>
<circle cx="224.1" cy="54.1" r="3.55"/>
<circle cx="322.5" cy="51.9" r="3.55"/>
<circle cx="303.2" cy="53.4" r="3.55"/>
<circle cx="487.4" cy="42.7" r="3.55"/>
<circle cx="372.8" cy="334.8" r="3.55"/>
<circle cx="253.2" cy="337.9" r="3.55"/>
<circle cx="264.8" cy="52.1" r="3.55"/>
<circle cx="184.8" cy="74.7" r="3.55"/>
<circle cx="410.6" cy="51.8" r="3.55"/>
<circle cx="545.2" cy="73.7" r="3.55"/>
<circle cx="117.4" cy="331.0" r="3.55"/>
<circle cx="205.8" cy="340.9" r="3.55"/>
<circle cx="377.5" cy="337.1" r="3.55"/>
<circle cx="398.2" cy="49.7" r="3.55"/>
<circle cx="300.8" cy="51.0" r="3.55"/>
<circle cx="353.2" cy="333.1" r="3.55"/>
<circle cx="182.7" cy="116.8" r="3.55"/>
<circle cx="298.6" cy="335.9" r="3.55"/>
<circle cx="412.6" cy="338.0" r="3.55"/>
<circle cx="465.1" cy="334.3" r="3.55"/>
<circle cx="299.2" cy="336.2" r="3.55"/>
<circle cx="237.4" cy="49.1" r="3.55"/>
<circle cx="240.2" cy="49.3" r="3.55"/>
<circle cx="194.2" cy="52.5" r="3.55"/>
<circle cx="205.3" cy="87.5" r="3.55"/>
<circle cx="264.5" cy="337.2" r="3.55"/>
<circle cx="198.4" cy="127.6" r="3.55"/>
<circle cx="153.4" cy="345.2" r="3.55"/>
<circle cx="516.1" cy="62.1" r="3.55"/>
<circle cx="409.8" cy="48.4" r="3.55"/>
<circle cx="290.1" cy="335.9" r="3.55"/>
<circle cx="144.7" cy="310.8" r="3.55"/>
<circle cx="236.2" cy="55.8" r="3.55"/>
<circle cx="443.5" cy="45.9" r="3.55"/>
<circle cx="289.6" cy="54.0" r="3.55"/>
<circle cx="505.8" cy="90.4" r="3.55"/>
<circle cx="507.5" cy="307.2" r="3.55"/>
<circle cx="247.5" cy="338.8" r="3.55"/>
<circle cx="434.1" cy="328.6" r="3.55"/>
<circle cx="443.6" cy="263.6" r="3.55"/>
<circle cx="275.6" cy="335.4" r="3.55"/>
<circle cx="202.0" cy="59.2" r="3.55"/>
<circle cx="195.9" cy="77.2" r="3.55"/>
<circle cx="195.2" cy="91.4" r="3.55"/>
<circle cx="435.0" cy="331.1" r="3.55"/>
<circle cx="226.4" cy="340.1" r="3.55"/>
<circle cx="414.1" cy="335.3" r="3.55"/>
<circle cx="542.2" cy="73.8" r="3.55"/>
<circle cx="179.1" cy="112.9" r="3.55"/>
<circle cx="194.1" cy="114.8" r="3.55"/>
<circle cx="130.2" cy="291.7" r="3.55"/>
<circle cx="420.1" cy="49.8" r="3.55"/>
<circle cx="430.3" cy="334.3" r="3.55"/>
<circle cx="417.8" cy="332.8" r="3.55"/>
<circle cx="156.9" cy="81.2" r="3.55"/>
<circle cx="272.7" cy="335.2" r="3.55"/>
<circle cx="411.3" cy="49.5" r="3.55"/>
<circle cx="381.1" cy="337.3" r="3.55"/>
<circle cx="228.3" cy="339.5" r="3.55"/>
<circle cx="404.6" cy="48.8" r="3.55"/>
<circle cx="457.0" cy="317.9" r="3.55"/>
<circle cx="547.1" cy="79.7" r="3.55"/>
<circle cx="367.2" cy="336.8" r="3.55"/>
<circle cx="213.8" cy="340.1" r="3.55"/>
<circle cx="451.9" cy="331.9" r="3.55"/>
<circle cx="249.3" cy="51.4" r="3.55"/>
<circle cx="112.7" cy="337.1" r="3.55"/>
<circle cx="229.7" cy="51.5" r="3.55"/>
<circle cx="186.4" cy="339.0" r="3.55"/>
<circle cx="398.9" cy="52.4" r="3.55"/>
<circle cx="107.2" cy="344.7" r="3.55"/>
<circle cx="450.2" cy="339.1" r="3.55"/>
<circle cx="387.1" cy="50.0" r="3.55"/>
<circle cx="452.6" cy="47.2" r="3.55"/>
<circle cx="211.5" cy="47.8" r="3.55"/>
<circle cx="200.7" cy="48.1" r="3.55"/>
<circle cx="127.3" cy="291.8" r="3.55"/>
<circle cx="249.1" cy="337.8" r="3.55"/>
<circle cx="151.1" cy="64.9" r="3.55"/>
<circle cx="195.3" cy="62.1" r="3.55"/>
<circle cx="177.3" cy="343.0" r="3.55"/>
<circle cx="164.1" cy="344.0" r="3.55"/>
<circle cx="248.2" cy="335.6" r="3.55"/>
<circle cx="251.0" cy="338.0" r="3.55"/>
<circle cx="161.6" cy="344.6" r="3.55"/>
<circle cx="346.1" cy="51.7" r="3.55"/>
<circle cx="421.2" cy="338.0" r="3.55"/>
<circle cx="139.2" cy="309.1" r="3.55"/>
<circle cx="372.1" cy="52.4" r="3.55"/>
<circle cx="90.0" cy="338.6" r="3.55"/>
<circle cx="542.4" cy="39.8" r="3.55"/>
<circle cx="432.8" cy="332.1" r="3.55"/>
<circle cx="483.6" cy="45.1" r="3.55"/>
<circle cx="174.9" cy="339.0" r="3.55"/>
<circle cx="170.6" cy="337.2" r="3.55"/>
<circle cx="175.7" cy="332.4" r="3.55"/>
<circle cx="217.8" cy="54.0" r="3.55"/>
<circle cx="93.6" cy="340.6" r="3.55"/>
<circle cx="170.7" cy="336.8" r="3.55"/>
<circle cx="468.2" cy="269.2" r="3.55"/>
<circle cx="244.3" cy="49.0" r="3.55"/>
<circle cx="207.8" cy="339.8" r="3.55"/>
<circle cx="114.0" cy="346.1" r="3.55"/>
<circle cx="219.3" cy="50.6" r="3.55"/>
<circle cx="259.2" cy="52.5" r="3.55"/>
<circle cx="395.1" cy="337.8" r="3.55"/>
<circle cx="436.5" cy="339.1" r="3.55"/>
<circle cx="520.2" cy="40.3" r="3.55"/>
<circle cx="469.8" cy="44.3" r="3.55"/>
<circle cx="200.7" cy="132.1" r="3.55"/>
<circle cx="184.7" cy="114.8" r="3.55"/>
<circle cx="95.7" cy="308.7" r="3.55"/>
<circle cx="346.7" cy="52.0" r="3.55"/>
<circle cx="467.8" cy="297.9" r="3.55"/>
<circle cx="360.6" cy="51.5" r="3.55"/>
<circle cx="480.9" cy="43.9" r="3.55"/>
<circle cx="463.1" cy="299.4" r="3.55"/>
<circle cx="290.5" cy="336.1" r="3.55"/>
<circle cx="254.4" cy="54.1" r="3.55"/>
<circle cx="471.9" cy="297.2" r="3.55"/>
<circle cx="126.2" cy="317.4" r="3.55"/>
<circle cx="220.4" cy="47.9" r="3.55"/>
<circle cx="470.9" cy="282.4" r="3.55"/>
<circle cx="406.8" cy="50.0" r="3.55"/>
<circle cx="356.6" cy="336.1" r="3.55"/>
<circle cx="208.8" cy="48.0" r="3.55"/>
<circle cx="524.6" cy="91.3" r="3.55"/>
<circle cx="339.2" cy="335.6" r="3.55"/>
<circle cx="279.4" cy="54.6" r="3.55"/>
<circle cx="194.0" cy="86.7" r="3.55"/>
<circle cx="412.5" cy="48.2" r="3.55"/>
<circle cx="288.2" cy="336.3" r="3.55"/>
<circle cx="461.0" cy="47.2" r="3.55"/>
<circle cx="495.0" cy="84.4" r="3.55"/>
<circle cx="285.4" cy="50.4" r="3.55"/>
<circle cx="212.3" cy="338.9" r="3.55"/>
<circle cx="171.0" cy="112.5" r="3.55"/>
<circle cx="506.1" cy="73.6" r="3.55"/>
<circle cx="211.3" cy="47.9" r="3.55"/>
<circle cx="463.8" cy="44.2" r="3.55"/>
<circle cx="400.1" cy="333.4" r="3.55"/>
<circle cx="214.5" cy="52.2" r="3.55"/>
<circle cx="214.1" cy="340.4" r="3.55"/>
<circle cx="339.9" cy="336.1" r="3.55"/>
<circle cx="277.8" cy="336.4" r="3.55"/>
<circle cx="268.5" cy="337.2" r="3.55"/>
<circle cx="263.6" cy="337.8" r="3.55"/>
<circle cx="356.3" cy="336.1" r="3.55"/>
<circle cx="401.3" cy="49.8" r="3.55"/>
<circle cx="165.3" cy="80.8" r="3.55"/>
<circle cx="435.6" cy="332.0" r="3.55"/>
<circle cx="104.6" cy="330.6" r="3.55"/>
<circle cx="418.4" cy="338.9" r="3.55"/>
<circle cx="383.2" cy="332.5" r="3.55"/>
<circle cx="256.8" cy="49.1" r="3.55"/>
<circle cx="158.0" cy="278.9" r="3.55"/>
<circle cx="191.3" cy="101.3" r="3.55"/>
<circle cx="422.4" cy="338.8" r="3.55"/>
<circle cx="497.9" cy="41.6" r="3.55"/>
<circle cx="280.3" cy="335.1" r="3.55"/>
<circle cx="404.9" cy="49.1" r="3.55"/>
<circle cx="448.8" cy="45.1" r="3.55"/>
<circle cx="416.5" cy="338.6" r="3.55"/>
<circle cx="514.2" cy="58.5" r="3.55"/>
<circle cx="365.0" cy="51.9" r="3.55"/>
<circle cx="218.3" cy="50.8" r="3.55"/>
<circle cx="500.4" cy="43.7" r="3.55"/>
<circle cx="534.4" cy="65.0" r="3.55"/>
<circle cx="489.5" cy="49.5" r="3.55"/>
<circle cx="324.3" cy="53.2" r="3.55"/>
<circle cx="420.2" cy="335.0" r="3.55"/>
<circle cx="487.0" cy="303.4" r="3.55"/>
<circle cx="268.2" cy="49.5" r="3.55"/>
<circle cx="190.8" cy="87.1" r="3.55"/>
<circle cx="200.6" cy="114.8" r="3.55"/>
<circle cx="230.7" cy="340.0" r="3.55"/>
<circle cx="165.0" cy="329.4" r="3.55"/>
<circle cx="149.6" cy="70.4" r="3.55"/>
<circle cx="295.2" cy="336.1" r="3.55"/>
<circle cx="421.7" cy="331.2" r="3.55"/>
<circle cx="384.0" cy="337.3" r="3.55"/>
<circle cx="210.6" cy="340.8" r="3.55"/>
<circle cx="509.1" cy="75.5" r="3.55"/>
<circle cx="281.1" cy="335.5" r="3.55"/>
<circle cx="371.4" cy="50.3" r="3.55"/>
<circle cx="140.4" cy="326.0" r="3.55"/>
<circle cx="233.0" cy="339.1" r="3.55"/>
<circle cx="247.3" cy="338.3" r="3.55"/>
<circle cx="237.9" cy="50.9" r="3.55"/>
<circle cx="349.9" cy="336.0" r="3.55"/>
<circle cx="444.5" cy="47.9" r="3.55"/>
<circle cx="256.7" cy="337.7" r="3.55"/>
<circle cx="180.8" cy="342.6" r="3.55"/>
<circle cx="258.8" cy="54.0" r="3.55"/>
<circle cx="159.8" cy="329.8" r="3.55"/>
<circle cx="219.6" cy="138.6" r="3.55"/>
<circle cx="432.1" cy="339.5" r="3.55"/>
<circle cx="463.8" cy="312.2" r="3.55"/>
<circle cx="418.7" cy="47.5" r="3.55"/>
<circle cx="256.0" cy="337.9" r="3.55"/>
<circle cx="435.8" cy="334.2" r="3.55"/>
<circle cx="356.7" cy="336.1" r="3.55"/>
<circle cx="177.9" cy="340.8" r="3.55"/>
<circle cx="508.1" cy="310.6" r="3.55"/>
<circle cx="437.0" cy="339.2" r="3.55"/>
<circle cx="402.0" cy="50.4" r="3.55"/>
<circle cx="204.0" cy="50.9" r="3.55"/>
<circle cx="284.1" cy="336.1" r="3.55"/>
<circle cx="156.5" cy="325.8" r="3.55"/>
<circle cx="324.8" cy="52.8" r="3.55"/>
<circle cx="192.5" cy="49.6" r="3.55"/>
<circle cx="499.7" cy="41.6" r="3.55"/>
<circle cx="342.1" cy="52.0" r="3.55"/>
<circle cx="426.0" cy="47.2" r="3.55"/>
<circle cx="215.5" cy="48.1" r="3.55"/>
<circle cx="287.6" cy="336.2" r="3.55"/>
<circle cx="394.2" cy="331.7" r="3.55"/>
<circle cx="366.7" cy="337.0" r="3.55"/>
<circle cx="494.8" cy="317.1" r="3.55"/>
<circle cx="370.7" cy="50.9" r="3.55"/>
<circle cx="123.0" cy="304.5" r="3.55"/>
<circle cx="275.9" cy="49.9" r="3.55"/>
<circle cx="463.8" cy="290.9" r="3.55"/>
<circle cx="266.9" cy="49.9" r="3.55"/>
<circle cx="414.0" cy="50.4" r="3.55"/>
<circle cx="338.4" cy="336.0" r="3.55"/>
<circle cx="313.4" cy="333.6" r="3.55"/>
<circle cx="472.9" cy="302.8" r="3.55"/>
<circle cx="482.5" cy="327.0" r="3.55"/>
<circle cx="235.8" cy="339.4" r="3.55"/>
<circle cx="200.4" cy="58.4" r="3.55"/>
<circle cx="343.1" cy="51.5" r="3.55"/>
<circle cx="418.5" cy="338.1" r="3.55"/>
<circle cx="239.3" cy="337.6" r="3.55"/>
<circle cx="231.0" cy="338.9" r="3.55"/>
<circle cx="402.0" cy="336.4" r="3.55"/>
<circle cx="114.6" cy="345.8" r="3.55"/>
<circle cx="204.5" cy="92.4" r="3.55"/>
<circle cx="175.4" cy="53.1" r="3.55"/>
<circle cx="135.7" cy="290.4" r="3.55"/>
<circle cx="184.0" cy="83.7" r="3.55"/>
<circle cx="191.2" cy="342.1" r="3.55"/>
<circle cx="533.3" cy="74.4" r="3.55"/>
<circle cx="156.2" cy="289.8" r="3.55"/>
<circle cx="376.5" cy="337.0" r="3.55"/>
<circle cx="478.9" cy="313.4" r="3.55"/>
<circle cx="504.6" cy="326.0" r="3.55"/>
<circle cx="201.3" cy="51.9" r="3.55"/>
<circle cx="431.1" cy="46.4" r="3.55"/>
<circle cx="217.3" cy="48.3" r="3.55"/>
<circle cx="435.6" cy="314.1" r="3.55"/>
<circle cx="187.6" cy="340.0" r="3.55"/>
<circle cx="372.4" cy="50.2" r="3.55"/>
<circle cx="444.5" cy="326.4" r="3.55"/>
<circle cx="297.4" cy="50.7" r="3.55"/>
<circle cx="409.3" cy="338.6" r="3.55"/>
<circle cx="208.1" cy="52.2" r="3.55"/>
<circle cx="281.6" cy="336.5" r="3.55"/>
<circle cx="281.8" cy="333.6" r="3.55"/>
<circle cx="248.2" cy="51.0" r="3.55"/>
<circle cx="303.1" cy="333.7" r="3.55"/>
<circle cx="237.8" cy="48.8" r="3.55"/>
<circle cx="446.5" cy="335.4" r="3.55"/>
<circle cx="400.8" cy="338.1" r="3.55"/>
<circle cx="268.9" cy="49.7" r="3.55"/>
<circle cx="297.0" cy="52.0" r="3.55"/>
<circle cx="454.3" cy="44.8" r="3.55"/>
<circle cx="284.4" cy="336.4" r="3.55"/>
<circle cx="531.7" cy="97.2" r="3.55"/>
<circle cx="369.6" cy="51.0" r="3.55"/>
<circle cx="465.6" cy="321.1" r="3.55"/>
<circle cx="126.7" cy="295.4" r="3.55"/>
<circle cx="199.4" cy="340.9" r="3.55"/>
<circle cx="415.5" cy="338.6" r="3.55"/>
<circle cx="442.9" cy="46.4" r="3.55"/>
<circle cx="136.1" cy="319.0" r="3.55"/>
<circle cx="395.6" cy="49.5" r="3.55"/>
<circle cx="277.2" cy="336.3" r="3.55"/>
<circle cx="360.7" cy="51.7" r="3.55"/>
<circle cx="312.4" cy="51.3" r="3.55"/>
<circle cx="201.6" cy="47.6" r="3.55"/>
<circle cx="458.6" cy="325.5" r="3.55"/>
<circle cx="204.0" cy="61.2" r="3.55"/>
<circle cx="480.4" cy="47.4" r="3.55"/>
<circle cx="398.9" cy="331.7" r="3.55"/>
<circle cx="353.7" cy="334.0" r="3.55"/>
<circle cx="259.5" cy="49.7" r="3.55"/>
<circle cx="213.0" cy="51.0" r="3.55"/>
<circle cx="465.4" cy="45.6" r="3.55"/>
<circle cx="194.7" cy="341.6" r="3.55"/>
<circle cx="446.3" cy="45.8" r="3.55"/>
<circle cx="294.5" cy="335.9" r="3.55"/>
<circle cx="443.5" cy="337.6" r="3.55"/>
<circle cx="539.0" cy="85.4" r="3.55"/>
<circle cx="199.9" cy="72.0" r="3.55"/>
<circle cx="241.7" cy="55.2" r="3.55"/>
<circle cx="457.2" cy="338.7" r="3.55"/>
<circle cx="195.8" cy="121.9" r="3.55"/>
<circle cx="211.8" cy="122.1" r="3.55"/>
<circle cx="298.3" cy="334.1" r="3.55"/>
<circle cx="156.5" cy="345.2" r="3.55"/>
<circle cx="456.9" cy="333.3" r="3.55"/>
<circle cx="317.3" cy="51.8" r="3.55"/>
<circle cx="321.3" cy="335.5" r="3.55"/>
<circle cx="197.4" cy="108.9" r="3.55"/>
<circle cx="317.6" cy="51.6" r="3.55"/>
<circle cx="259.9" cy="50.7" r="3.55"/>
<circle cx="169.5" cy="99.6" r="3.55"/>
<circle cx="176.7" cy="336.8" r="3.55"/>
<circle cx="150.4" cy="62.0" r="3.55"/>
<circle cx="523.2" cy="95.5" r="3.55"/>
<circle cx="127.7" cy="345.3" r="3.55"/>
<circle cx="483.0" cy="307.3" r="3.55"/>
<circle cx="329.9" cy="335.4" r="3.55"/>
<circle cx="211.4" cy="340.7" r="3.55"/>
<circle cx="440.3" cy="331.2" r="3.55"/>
<circle cx="252.4" cy="50.9" r="3.55"/>
<circle cx="296.5" cy="52.0" r="3.55"/>
<circle cx="329.0" cy="335.3" r="3.55"/>
<circle cx="417.2" cy="339.1" r="3.55"/>
<circle cx="188.5" cy="84.7" r="3.55"/>
<circle cx="268.4" cy="50.3" r="3.55"/>
<circle cx="203.4" cy="56.9" r="3.55"/>
<circle cx="432.9" cy="317.1" r="3.55"/>
<circle cx="460.8" cy="333.0" r="3.55"/>
<circle cx="215.4" cy="56.4" r="3.55"/>
<circle cx="330.1" cy="52.3" r="3.55"/>
<circle cx="554.6" cy="66.1" r="3.55"/>
<circle cx="121.1" cy="301.7" r="3.55"/>
<circle cx="409.3" cy="338.9" r="3.55"/>
<circle cx="275.1" cy="53.1" r="3.55"/>
<circle cx="166.1" cy="65.7" r="3.55"/>
<circle cx="481.4" cy="42.9" r="3.55"/>
<circle cx="387.1" cy="49.4" r="3.55"/>
<circle cx="447.6" cy="339.1" r="3.55"/>
<circle cx="285.9" cy="50.2" r="3.55"/>
<circle cx="388.9" cy="337.5" r="3.55"/>
<circle cx="192.1" cy="337.7" r="3.55"/>
<circle cx="282.8" cy="52.3" r="3.55"/>
<circle cx="424.1" cy="47.4" r="3.55"/>
<circle cx="120.0" cy="292.7" r="3.55"/>
<circle cx="419.7" cy="337.0" r="3.55"/>
<circle cx="473.4" cy="273.1" r="3.55"/>
<circle cx="172.8" cy="337.8" r="3.55"/>
<circle cx="245.5" cy="50.3" r="3.55"/>
<circle cx="290.4" cy="336.3" r="3.55"/>
<circle cx="373.3" cy="337.0" r="3.55"/>
<circle cx="150.0" cy="304.7" r="3.55"/>
<circle cx="154.3" cy="333.3" r="3.55"/>
<circle cx="477.7" cy="291.3" r="3.55"/>
<circle cx="488.5" cy="286.0" r="3.55"/>
<circle cx="383.9" cy="49.6" r="3.55"/>
<circle cx="226.8" cy="339.8" r="3.55"/>
<circle cx="310.1" cy="334.7" r="3.55"/>
<circle cx="116.8" cy="326.4" r="3.55"/>
<circle cx="405.8" cy="50.1" r="3.55"/>
<circle cx="313.1" cy="335.7" r="3.55"/>
<circle cx="425.8" cy="337.0" r="3.55"/>
<circle cx="348.0" cy="51.9" r="3.55"/>
<circle cx="499.4" cy="60.7" r="3.55"/>
<circle cx="280.1" cy="52.7" r="3.55"/>
<circle cx="211.9" cy="47.7" r="3.55"/>
<circle cx="181.9" cy="342.5" r="3.55"/>
<circle cx="241.8" cy="338.7" r="3.55"/>
<circle cx="486.1" cy="43.8" r="3.55"/>
<circle cx="403.1" cy="48.9" r="3.55"/>
<circle cx="223.6" cy="52.3" r="3.55"/>
<circle cx="265.9" cy="53.5" r="3.55"/>
<circle cx="95.0" cy="321.0" r="3.55"/>
<circle cx="171.2" cy="65.2" r="3.55"/>
<circle cx="138.0" cy="312.5" r="3.55"/>
<circle cx="217.5" cy="48.2" r="3.55"/>
<circle cx="442.8" cy="338.9" r="3.55"/>
<circle cx="496.8" cy="45.1" r="3.55"/>
<circle cx="422.8" cy="339.3" r="3.55"/>
<circle cx="266.9" cy="337.4" r="3.55"/>
<circle cx="408.1" cy="336.1" r="3.55"/>
<circle cx="244.2" cy="336.5" r="3.55"/>
<circle cx="495.3" cy="321.3" r="3.55"/>
<circle cx="169.2" cy="283.6" r="3.55"/>
<circle cx="174.8" cy="339.1" r="3.55"/>
<circle cx="255.3" cy="50.3" r="3.55"/>
<circle cx="158.3" cy="56.0" r="3.55"/>
<circle cx="403.3" cy="338.2" r="3.55"/>
<circle cx="197.6" cy="341.2" r="3.55"/>
<circle cx="215.4" cy="338.1" r="3.55"/>
<circle cx="465.8" cy="267.9" r="3.55"/>
<circle cx="377.0" cy="333.0" r="3.55"/>
<circle cx="535.6" cy="52.7" r="3.55"/>
<circle cx="118.3" cy="345.6" r="3.55"/>
<circle cx="307.0" cy="335.5" r="3.55"/>
<circle cx="369.9" cy="333.0" r="3.55"/>
<circle cx="149.7" cy="343.8" r="3.55"/>
<circle cx="261.1" cy="51.1" r="3.55"/>
<circle cx="398.6" cy="333.0" r="3.55"/>
<circle cx="169.8" cy="337.4" r="3.55"/>
<circle cx="206.2" cy="47.7" r="3.55"/>
<circle cx="262.2" cy="335.4" r="3.55"/>
<circle cx="340.1" cy="336.1" r="3.55"/>
<circle cx="358.0" cy="336.0" r="3.55"/>
<circle cx="323.6" cy="52.6" r="3.55"/>
<circle cx="519.9" cy="74.3" r="3.55"/>
<circle cx="444.9" cy="339.1" r="3.55"/>
<circle cx="434.6" cy="328.5" r="3.55"/>
<circle cx="479.1" cy="43.3" r="3.55"/>
<circle cx="213.0" cy="339.6" r="3.55"/>
<circle cx="245.7" cy="335.3" r="3.55"/>
<circle cx="448.9" cy="316.5" r="3.55"/>
<circle cx="421.0" cy="331.6" r="3.55"/>
<circle cx="246.2" cy="53.3" r="3.55"/>
<circle cx="287.0" cy="53.4" r="3.55"/>
<circle cx="438.7" cy="335.5" r="3.55"/>
<circle cx="352.3" cy="336.2" r="3.55"/>
<circle cx="141.5" cy="329.2" r="3.55"/>
<circle cx="417.1" cy="338.5" r="3.55"/>
<circle cx="331.1" cy="51.7" r="3.55"/>
<circle cx="201.0" cy="58.6" r="3.55"/>
<circle cx="405.5" cy="338.5" r="3.55"/>
<circle cx="409.0" cy="48.6" r="3.55"/>
<circle cx="457.2" cy="320.6" r="3.55"/>
<circle cx="319.5" cy="334.6" r="3.55"/>
<circle cx="105.5" cy="320.1" r="3.55"/>
<circle cx="411.9" cy="336.3" r="3.55"/>
<circle cx="532.7" cy="80.1" r="3.55"/>
<circle cx="424.7" cy="331.1" r="3.55"/>
<circle cx="491.9" cy="46.3" r="3.55"/>
<circle cx="473.9" cy="268.3" r="3.55"/>
<circle cx="371.4" cy="50.4" r="3.55"/>
<circle cx="204.5" cy="47.9" r="3.55"/>
<circle cx="466.7" cy="49.2" r="3.55"/>
<circle cx="267.9" cy="336.9" r="3.55"/>
<circle cx="386.1" cy="337.0" r="3.55"/>
<circle cx="154.6" cy="305.0" r="3.55"/>
<circle cx="259.2" cy="337.5" r="3.55"/>
<circle cx="264.0" cy="49.8" r="3.55"/>
<circle cx="562.6" cy="66.6" r="3.55"/>
<circle cx="205.1" cy="109.7" r="3.55"/>
<circle cx="447.8" cy="330.9" r="3.55"/>
<circle cx="275.8" cy="335.3" r="3.55"/>
<circle cx="213.7" cy="340.4" r="3.55"/>
<circle cx="136.2" cy="345.8" r="3.55"/>
<circle cx="373.1" cy="50.5" r="3.55"/>
<circle cx="333.8" cy="335.5" r="3.55"/>
<circle cx="369.9" cy="336.7" r="3.55"/>
<circle cx="352.1" cy="336.3" r="3.55"/>
<circle cx="246.8" cy="335.0" r="3.55"/>
<circle cx="468.5" cy="44.4" r="3.55"/>
<circle cx="486.7" cy="47.3" r="3.55"/>
<circle cx="173.4" cy="341.2" r="3.55"/>
<circle cx="162.7" cy="339.3" r="3.55"/>
<circle cx="459.5" cy="308.2" r="3.55"/>
<circle cx="148.0" cy="332.9" r="3.55"/>
<circle cx="205.8" cy="52.6" r="3.55"/>
<circle cx="447.6" cy="332.4" r="3.55"/>
<circle cx="103.7" cy="317.9" r="3.55"/>
<circle cx="553.5" cy="39.5" r="3.55"/>
<circle cx="423.8" cy="47.0" r="3.55"/>
<circle cx="403.6" cy="49.0" r="3.55"/>
<circle cx="269.6" cy="54.0" r="3.55"/>
<circle cx="489.8" cy="44.0" r="3.55"/>
<circle cx="416.2" cy="338.9" r="3.55"/>
<circle cx="470.4" cy="291.2" r="3.55"/>
<circle cx="241.5" cy="56.0" r="3.55"/>
<circle cx="413.2" cy="331.0" r="3.55"/>
<circle cx="202.2" cy="51.8" r="3.55"/>
<circle cx="113.6" cy="322.9" r="3.55"/>
<circle cx="174.8" cy="335.8" r="3.55"/>
<circle cx="214.6" cy="142.4" r="3.55"/>
<circle cx="364.8" cy="51.2" r="3.55"/>
<circle cx="124.6" cy="322.0" r="3.55"/>
<circle cx="123.6" cy="345.5" r="3.55"/>
<circle cx="447.4" cy="332.9" r="3.55"/>
<circle cx="297.5" cy="52.4" r="3.55"/>
<circle cx="345.1" cy="52.0" r="3.55"/>
<circle cx="474.7" cy="44.0" r="3.55"/>
<circle cx="364.4" cy="335.6" r="3.55"/>
<circle cx="475.7" cy="49.4" r="3.55"/>
<circle cx="220.6" cy="49.9" r="3.55"/>
<circle cx="426.3" cy="336.7" r="3.55"/>
<circle cx="448.2" cy="268.0" r="3.55"/>
<circle cx="419.7" cy="334.2" r="3.55"/>
<circle cx="370.0" cy="333.9" r="3.55"/>
<circle cx="232.6" cy="339.3" r="3.55"/>
<circle cx="236.1" cy="54.6" r="3.55"/>
<circle cx="530.2" cy="71.0" r="3.55"/>
<circle cx="336.1" cy="335.4" r="3.55"/>
<circle cx="317.8" cy="51.5" r="3.55"/>
<circle cx="440.3" cy="311.4" r="3.55"/>
<circle cx="416.3" cy="47.7" r="3.55"/>
<circle cx="210.8" cy="50.6" r="3.55"/>
<circle cx="248.8" cy="336.3" r="3.55"/>
<circle cx="289.5" cy="334.1" r="3.55"/>
<circle cx="174.3" cy="342.9" r="3.55"/>
<circle cx="243.3" cy="335.1" r="3.55"/>
<circle cx="466.4" cy="338.4" r="3.55"/>
<circle cx="232.3" cy="339.9" r="3.55"/>
<circle cx="551.0" cy="63.6" r="3.55"/>
<circle cx="120.1" cy="307.9" r="3.55"/>
<circle cx="98.2" cy="331.5" r="3.55"/>
<circle cx="153.8" cy="59.4" r="3.55"/>
<circle cx="417.7" cy="51.4" r="3.55"/>
<circle cx="162.6" cy="76.5" r="3.55"/>
<circle cx="427.2" cy="337.7" r="3.55"/>
<circle cx="549.9" cy="60.3" r="3.55"/>
<circle cx="438.3" cy="334.0" r="3.55"/>
<circle cx="452.6" cy="292.6" r="3.55"/>
<circle cx="463.5" cy="294.0" r="3.55"/>
<circle cx="453.3" cy="330.7" r="3.55"/>
<circle cx="382.6" cy="49.8" r="3.55"/>
<circle cx="167.2" cy="102.7" r="3.55"/>
<circle cx="230.2" cy="49.1" r="3.55"/>
<circle cx="371.0" cy="50.7" r="3.55"/>
<circle cx="228.6" cy="339.8" r="3.55"/>
<circle cx="352.5" cy="335.5" r="3.55"/>
<circle cx="321.4" cy="51.6" r="3.55"/>
<circle cx="243.4" cy="48.9" r="3.55"/>
<circle cx="264.5" cy="50.1" r="3.55"/>
<circle cx="157.6" cy="61.4" r="3.55"/>
<circle cx="373.7" cy="336.8" r="3.55"/>
<circle cx="498.0" cy="87.7" r="3.55"/>
<circle cx="467.3" cy="44.3" r="3.55"/>
<circle cx="221.3" cy="47.7" r="3.55"/>
<circle cx="398.3" cy="332.7" r="3.55"/>
<circle cx="342.9" cy="336.1" r="3.55"/>
<circle cx="203.4" cy="338.7" r="3.55"/>
<circle cx="502.2" cy="41.7" r="3.55"/>
<circle cx="414.1" cy="47.9" r="3.55"/>
<circle cx="507.5" cy="55.1" r="3.55"/>
<circle cx="461.3" cy="321.6" r="3.55"/>
<circle cx="223.6" cy="340.1" r="3.55"/>
<circle cx="191.0" cy="76.9" r="3.55"/>
<circle cx="191.6" cy="116.1" r="3.55"/>
<circle cx="428.2" cy="47.0" r="3.55"/>
<circle cx="251.8" cy="337.9" r="3.55"/>
<circle cx="414.1" cy="337.8" r="3.55"/>
<circle cx="356.0" cy="51.3" r="3.55"/>
<circle cx="139.7" cy="302.2" r="3.55"/>
<circle cx="439.0" cy="334.4" r="3.55"/>
<circle cx="456.8" cy="299.4" r="3.55"/>
<circle cx="143.3" cy="337.5" r="3.55"/>
<circle cx="487.1" cy="43.0" r="3.55"/>
<circle cx="151.9" cy="289.8" r="3.55"/>
<circle cx="320.0" cy="335.1" r="3.55"/>
<circle cx="201.4" cy="48.1" r="3.55"/>
<circle cx="161.3" cy="340.2" r="3.55"/>
<circle cx="276.0" cy="50.3" r="3.55"/>
<circle cx="509.9" cy="83.7" r="3.55"/>
<circle cx="138.4" cy="327.9" r="3.55"/>
<circle cx="524.1" cy="39.5" r="3.55"/>
<circle cx="179.5" cy="342.7" r="3.55"/>
<circle cx="228.8" cy="53.0" r="3.55"/>
<circle cx="430.1" cy="333.2" r="3.55"/>
<circle cx="106.5" cy="335.0" r="3.55"/>
<circle cx="510.2" cy="86.8" r="3.55"/>
<circle cx="454.8" cy="332.3" r="3.55"/>
<circle cx="218.5" cy="337.3" r="3.55"/>
<circle cx="122.3" cy="309.2" r="3.55"/>
<circle cx="160.5" cy="343.9" r="3.55"/>
<circle cx="380.3" cy="50.1" r="3.55"/>
<circle cx="432.1" cy="330.0" r="3.55"/>
<circle cx="206.2" cy="47.8" r="3.55"/>
<circle cx="391.4" cy="337.2" r="3.55"/>
<circle cx="142.8" cy="332.9" r="3.55"/>
<circle cx="192.4" cy="341.8" r="3.55"/>
<circle cx="513.7" cy="45.1" r="3.55"/>
<circle cx="203.7" cy="120.7" r="3.55"/>
<circle cx="462.2" cy="290.7" r="3.55"/>
<circle cx="502.5" cy="56.2" r="3.55"/>
<circle cx="359.3" cy="334.1" r="3.55"/>
<circle cx="487.7" cy="44.0" r="3.55"/>
<circle cx="220.0" cy="131.9" r="3.55"/>
<circle cx="396.5" cy="50.1" r="3.55"/>
<circle cx="214.0" cy="53.1" r="3.55"/>
<circle cx="391.9" cy="337.6" r="3.55"/>
<circle cx="202.2" cy="341.3" r="3.55"/>
<circle cx="528.4" cy="94.3" r="3.55"/>
<circle cx="391.5" cy="332.6" r="3.55"/>
<circle cx="289.6" cy="53.0" r="3.55"/>
<circle cx="365.2" cy="50.9" r="3.55"/>
<circle cx="279.4" cy="336.6" r="3.55"/>
<circle cx="270.7" cy="336.8" r="3.55"/>
<circle cx="159.5" cy="339.8" r="3.55"/>
<circle cx="333.2" cy="51.7" r="3.55"/>
<circle cx="274.6" cy="50.1" r="3.55"/>
<circle cx="441.2" cy="339.2" r="3.55"/>
<circle cx="320.4" cy="334.6" r="3.55"/>
<circle cx="487.5" cy="313.1" r="3.55"/>
<circle cx="542.3" cy="55.8" r="3.55"/>
<circle cx="246.5" cy="338.2" r="3.55"/>
<circle cx="272.4" cy="50.2" r="3.55"/>
<circle cx="537.3" cy="71.5" r="3.55"/>
<circle cx="409.4" cy="336.4" r="3.55"/>
<circle cx="213.5" cy="47.7" r="3.55"/>
<circle cx="170.4" cy="343.7" r="3.55"/>
<circle cx="180.1" cy="79.5" r="3.55"/>
<circle cx="287.5" cy="50.7" r="3.55"/>
<circle cx="291.0" cy="50.5" r="3.55"/>
<circle cx="174.6" cy="343.2" r="3.55"/>
<circle cx="489.8" cy="45.0" r="3.55"/>
<circle cx="165.8" cy="60.7" r="3.55"/>
<circle cx="472.2" cy="47.8" r="3.55"/>
<circle cx="332.2" cy="335.8" r="3.55"/>
<circle cx="461.7" cy="325.3" r="3.55"/>
<circle cx="455.4" cy="273.1" r="3.55"/>
<circle cx="532.7" cy="62.9" r="3.55"/>
<circle cx="493.4" cy="44.7" r="3.55"/>
<circle cx="429.9" cy="334.0" r="3.55"/>
<circle cx="278.6" cy="336.5" r="3.55"/>
<circle cx="426.0" cy="334.7" r="3.55"/>
<circle cx="273.6" cy="336.9" r="3.55"/>
<circle cx="383.7" cy="333.1" r="3.55"/>
<circle cx="448.0" cy="331.4" r="3.55"/>
<circle cx="467.8" cy="313.2" r="3.55"/>
<circle cx="527.1" cy="69.6" r="3.55"/>
<circle cx="288.4" cy="50.6" r="3.55"/>
<circle cx="180.0" cy="117.0" r="3.55"/>
<circle cx="128.7" cy="306.3" r="3.55"/>
<circle cx="430.3" cy="337.8" r="3.55"/>
<circle cx="362.6" cy="335.0" r="3.55"/>
<circle cx="158.0" cy="344.4" r="3.55"/>
<circle cx="373.2" cy="336.9" r="3.55"/>
<circle cx="457.9" cy="44.6" r="3.55"/>
<circle cx="505.6" cy="309.1" r="3.55"/>
<circle cx="374.0" cy="335.2" r="3.55"/>
<circle cx="447.0" cy="336.2" r="3.55"/>
<circle cx="482.9" cy="43.2" r="3.55"/>
<circle cx="153.2" cy="72.6" r="3.55"/>
<circle cx="493.2" cy="54.3" r="3.55"/>
<circle cx="312.6" cy="335.7" r="3.55"/>
<circle cx="255.0" cy="338.2" r="3.55"/>
<circle cx="418.5" cy="331.5" r="3.55"/>
<circle cx="391.2" cy="337.6" r="3.55"/>
<circle cx="475.3" cy="43.9" r="3.55"/>
<circle cx="211.7" cy="47.7" r="3.55"/>
<circle cx="246.0" cy="49.0" r="3.55"/>
<circle cx="269.7" cy="51.2" r="3.55"/>
<circle cx="318.1" cy="52.1" r="3.55"/>
<circle cx="435.0" cy="339.5" r="3.55"/>
<circle cx="423.1" cy="338.7" r="3.55"/>
<circle cx="341.8" cy="51.5" r="3.55"/>
<circle cx="223.7" cy="340.3" r="3.55"/>
<circle cx="117.2" cy="345.8" r="3.55"/>
<circle cx="222.0" cy="57.8" r="3.55"/>
<circle cx="417.2" cy="51.0" r="3.55"/>
<circle cx="242.6" cy="52.5" r="3.55"/>
<circle cx="480.2" cy="43.9" r="3.55"/>
<circle cx="192.5" cy="70.0" r="3.55"/>
<circle cx="231.0" cy="339.6" r="3.55"/>
<circle cx="345.5" cy="335.3" r="3.55"/>
<circle cx="206.6" cy="94.6" r="3.55"/>
<circle cx="396.7" cy="50.2" r="3.55"/>
<circle cx="162.5" cy="340.3" r="3.55"/>
<circle cx="510.9" cy="46.6" r="3.55"/>
<circle cx="389.3" cy="336.3" r="3.55"/>
<circle cx="494.9" cy="44.4" r="3.55"/>
<circle cx="281.5" cy="333.6" r="3.55"/>
<circle cx="112.2" cy="327.7" r="3.55"/>
<circle cx="430.3" cy="332.3" r="3.55"/>
<circle cx="440.9" cy="46.2" r="3.55"/>
<circle cx="551.7" cy="68.3" r="3.55"/>
<circle cx="454.6" cy="338.6" r="3.55"/>
<circle cx="259.5" cy="337.1" r="3.55"/>
<circle cx="455.5" cy="338.8" r="3.55"/>
<circle cx="152.3" cy="347.2" r="3.55"/>
<circle cx="414.3" cy="47.9" r="3.55"/>
<circle cx="398.1" cy="49.3" r="3.55"/>
<circle cx="169.3" cy="341.3" r="3.55"/>
<circle cx="432.3" cy="337.3" r="3.55"/>
<circle cx="188.1" cy="342.1" r="3.55"/>
<circle cx="164.0" cy="275.2" r="3.55"/>
<circle cx="319.1" cy="51.9" r="3.55"/>
<circle cx="349.3" cy="335.8" r="3.55"/>
<circle cx="385.6" cy="334.7" r="3.55"/>
<circle cx="447.6" cy="314.9" r="3.55"/>
<circle cx="500.5" cy="96.5" r="3.55"/>
<circle cx="476.6" cy="271.4" r="3.55"/>
<circle cx="226.6" cy="48.2" r="3.55"/>
<circle cx="490.5" cy="51.4" r="3.55"/>
<circle cx="475.6" cy="277.3" r="3.55"/>
<circle cx="422.4" cy="47.4" r="3.55"/>
<circle cx="186.9" cy="96.3" r="3.55"/>
<circle cx="202.2" cy="57.1" r="3.55"/>
<circle cx="213.9" cy="52.5" r="3.55"/>
<circle cx="181.2" cy="340.5" r="3.55"/>
<circle cx="490.8" cy="286.6" r="3.55"/>
<circle cx="103.0" cy="308.5" r="3.55"/>
<circle cx="92.0" cy="328.4" r="3.55"/>
<circle cx="389.3" cy="337.1" r="3.55"/>
<circle cx="447.9" cy="45.2" r="3.55"/>
<circle cx="484.0" cy="329.9" r="3.55"/>
<circle cx="349.9" cy="336.0" r="3.55"/>
<circle cx="169.1" cy="55.1" r="3.55"/>
<circle cx="171.5" cy="340.3" r="3.55"/>
<circle cx="183.4" cy="338.1" r="3.55"/>
<circle cx="209.9" cy="339.7" r="3.55"/>
<circle cx="498.2" cy="42.2" r="3.55"/>
<circle cx="271.5" cy="336.7" r="3.55"/>
<circle cx="282.6" cy="336.0" r="3.55"/>
<circle cx="501.6" cy="62.6" r="3.55"/>
<circle cx="281.5" cy="333.6" r="3.55"/>
<circle cx="365.3" cy="336.7" r="3.55"/>
<circle cx="272.0" cy="336.9" r="3.55"/>
<circle cx="170.8" cy="96.7" r="3.55"/>
<circle cx="299.3" cy="53.6" r="3.55"/>
<circle cx="382.0" cy="50.6" r="3.55"/>
<circle cx="488.8" cy="56.8" r="3.55"/>
<circle cx="386.7" cy="336.8" r="3.55"/>
<circle cx="274.2" cy="337.1" r="3.55"/>
<circle cx="279.9" cy="336.4" r="3.55"/>
<circle cx="424.3" cy="338.7" r="3.55"/>
<circle cx="158.8" cy="91.3" r="3.55"/>
<circle cx="475.1" cy="333.2" r="3.55"/>
<circle cx="533.6" cy="47.9" r="3.55"/>
<circle cx="523.7" cy="72.0" r="3.55"/>
<circle cx="516.1" cy="40.2" r="3.55"/>
<circle cx="200.5" cy="108.1" r="3.55"/>
<circle cx="224.8" cy="142.9" r="3.55"/>
<circle cx="390.4" cy="334.2" r="3.55"/>
<circle cx="205.4" cy="49.6" r="3.55"/>
<circle cx="128.6" cy="296.4" r="3.55"/>
<circle cx="159.2" cy="340.9" r="3.55"/>
<circle cx="496.2" cy="81.7" r="3.55"/>
<circle cx="412.6" cy="52.2" r="3.55"/>
<circle cx="365.1" cy="336.6" r="3.55"/>
<circle cx="422.9" cy="339.4" r="3.55"/>
<circle cx="183.8" cy="342.3" r="3.55"/>
<circle cx="467.6" cy="291.4" r="3.55"/>
<circle cx="204.0" cy="340.7" r="3.55"/>
<circle cx="292.1" cy="50.5" r="3.55"/>
<circle cx="163.0" cy="101.4" r="3.55"/>
<circle cx="449.6" cy="330.8" r="3.55"/>
<circle cx="492.2" cy="329.5" r="3.55"/>
<circle cx="210.4" cy="338.9" r="3.55"/>
<circle cx="432.0" cy="319.5" r="3.55"/>
<circle cx="397.5" cy="49.5" r="3.55"/>
<circle cx="233.4" cy="48.9" r="3.55"/>
<circle cx="394.1" cy="49.7" r="3.55"/>
<circle cx="277.3" cy="54.8" r="3.55"/>
<circle cx="173.9" cy="342.4" r="3.55"/>
<circle cx="436.1" cy="319.4" r="3.55"/>
<circle cx="377.0" cy="337.0" r="3.55"/>
<circle cx="445.4" cy="339.0" r="3.55"/>
<circle cx="207.8" cy="128.6" r="3.55"/>
<circle cx="339.0" cy="52.0" r="3.55"/>
<circle cx="191.8" cy="341.7" r="3.55"/>
<circle cx="382.0" cy="337.4" r="3.55"/>
<circle cx="294.6" cy="50.8" r="3.55"/>
<circle cx="271.5" cy="337.3" r="3.55"/>
<circle cx="259.4" cy="49.3" r="3.55"/>
<circle cx="402.6" cy="50.7" r="3.55"/>
<circle cx="272.3" cy="336.6" r="3.55"/>
<circle cx="454.4" cy="286.6" r="3.55"/>
<circle cx="254.4" cy="49.7" r="3.55"/>
<circle cx="378.1" cy="49.9" r="3.55"/>
<circle cx="308.4" cy="51.4" r="3.55"/>
<circle cx="424.1" cy="338.9" r="3.55"/>
<circle cx="326.7" cy="335.3" r="3.55"/>
<circle cx="169.4" cy="56.1" r="3.55"/>
<circle cx="364.2" cy="336.4" r="3.55"/>
<circle cx="112.2" cy="297.0" r="3.55"/>
<circle cx="403.9" cy="338.3" r="3.55"/>
<circle cx="559.5" cy="52.6" r="3.55"/>
<circle cx="250.9" cy="49.2" r="3.55"/>
<circle cx="300.3" cy="335.8" r="3.55"/>
<circle cx="277.0" cy="335.3" r="3.55"/>
<circle cx="545.0" cy="39.7" r="3.55"/>
<circle cx="320.6" cy="335.2" r="3.55"/>
<circle cx="326.4" cy="334.9" r="3.55"/>
<circle cx="427.1" cy="332.2" r="3.55"/>
<circle cx="228.4" cy="57.8" r="3.55"/>
<circle cx="259.8" cy="52.8" r="3.55"/>
<circle cx="375.8" cy="52.9" r="3.55"/>
<circle cx="473.0" cy="45.1" r="3.55"/>
<circle cx="226.8" cy="58.0" r="3.55"/>
<circle cx="256.1" cy="337.1" r="3.55"/>
<circle cx="523.8" cy="57.3" r="3.55"/>
<circle cx="493.2" cy="44.3" r="3.55"/>
<circle cx="394.1" cy="49.8" r="3.55"/>
<circle cx="400.2" cy="49.0" r="3.55"/>
<circle cx="210.0" cy="340.8" r="3.55"/>
<circle cx="424.7" cy="328.4" r="3.55"/>
<circle cx="135.0" cy="339.3" r="3.55"/>
<circle cx="212.2" cy="48.4" r="3.55"/>
<circle cx="204.5" cy="51.2" r="3.55"/>
<circle cx="432.9" cy="339.1" r="3.55"/>
<circle cx="390.6" cy="49.3" r="3.55"/>
<circle cx="206.3" cy="80.9" r="3.55"/>
<circle cx="237.2" cy="57.4" r="3.55"/>
<circle cx="317.2" cy="335.2" r="3.55"/>
<circle cx="469.9" cy="45.6" r="3.55"/>
<circle cx="527.9" cy="74.0" r="3.55"/>
<circle cx="86.6" cy="329.7" r="3.55"/>
<circle cx="263.3" cy="335.9" r="3.55"/>
<circle cx="352.4" cy="334.7" r="3.55"/>
<circle cx="255.9" cy="49.4" r="3.55"/>
<circle cx="239.0" cy="54.2" r="3.55"/>
<circle cx="243.8" cy="336.0" r="3.55"/>
<circle cx="133.4" cy="297.7" r="3.55"/>
<circle cx="433.4" cy="334.3" r="3.55"/>
<circle cx="437.3" cy="334.0" r="3.55"/>
<circle cx="209.7" cy="59.7" r="3.55"/>
<circle cx="450.5" cy="48.2" r="3.55"/>
<circle cx="214.9" cy="47.8" r="3.55"/>
<circle cx="171.5" cy="344.8" r="3.55"/>
<circle cx="290.6" cy="335.0" r="3.55"/>
<circle cx="226.6" cy="340.1" r="3.55"/>
<circle cx="158.3" cy="344.4" r="3.55"/>
<circle cx="259.2" cy="337.9" r="3.55"/>
<circle cx="156.9" cy="318.4" r="3.55"/>
<circle cx="350.6" cy="51.5" r="3.55"/>
<circle cx="363.6" cy="51.0" r="3.55"/>
<circle cx="120.0" cy="345.3" r="3.55"/>
<circle cx="254.5" cy="56.5" r="3.55"/>
<circle cx="222.2" cy="138.7" r="3.55"/>
<circle cx="353.5" cy="53.8" r="3.55"/>
<circle cx="354.3" cy="336.3" r="3.55"/>
<circle cx="262.2" cy="54.9" r="3.55"/>
<circle cx="424.1" cy="334.5" r="3.55"/>
<circle cx="429.3" cy="330.0" r="3.55"/>
<circle cx="477.7" cy="305.1" r="3.55"/>
<circle cx="285.8" cy="50.8" r="3.55"/>
<circle cx="163.9" cy="71.0" r="3.55"/>
<circle cx="451.7" cy="332.9" r="3.55"/>
<circle cx="460.6" cy="309.7" r="3.55"/>
<circle cx="268.8" cy="49.5" r="3.55"/>
<circle cx="166.1" cy="343.5" r="3.55"/>
<circle cx="450.2" cy="324.9" r="3.55"/>
<circle cx="253.5" cy="54.0" r="3.55"/>
<circle cx="360.2" cy="51.2" r="3.55"/>
<circle cx="154.1" cy="89.0" r="3.55"/>
<circle cx="454.5" cy="45.3" r="3.55"/>
<circle cx="381.0" cy="49.8" r="3.55"/>
<circle cx="254.4" cy="49.7" r="3.55"/>
<circle cx="488.5" cy="293.1" r="3.55"/>
<circle cx="166.9" cy="274.9" r="3.55"/>
<circle cx="405.1" cy="49.1" r="3.55"/>
<circle cx="402.3" cy="338.0" r="3.55"/>
<circle cx="176.1" cy="343.2" r="3.55"/>
<circle cx="328.7" cy="51.5" r="3.55"/>
<circle cx="328.0" cy="51.9" r="3.55"/>
<circle cx="243.6" cy="52.3" r="3.55"/>
<circle cx="517.2" cy="91.0" r="3.55"/>
<circle cx="371.5" cy="334.0" r="3.55"/>
<circle cx="152.9" cy="335.3" r="3.55"/>
<circle cx="383.7" cy="50.1" r="3.55"/>
<circle cx="485.7" cy="300.4" r="3.55"/>
<circle cx="505.1" cy="41.5" r="3.55"/>
<circle cx="187.1" cy="111.1" r="3.55"/>
<circle cx="213.8" cy="340.3" r="3.55"/>
<circle cx="551.0" cy="49.4" r="3.55"/>
<circle cx="451.0" cy="330.7" r="3.55"/>
<circle cx="372.1" cy="50.4" r="3.55"/>
<circle cx="244.8" cy="338.7" r="3.55"/>
<circle cx="369.5" cy="50.8" r="3.55"/>
<circle cx="470.1" cy="285.4" r="3.55"/>
<circle cx="431.6" cy="327.8" r="3.55"/>
<circle cx="256.0" cy="335.6" r="3.55"/>
<circle cx="262.0" cy="334.7" r="3.55"/>
<circle cx="491.6" cy="42.1" r="3.55"/>
<circle cx="472.7" cy="43.7" r="3.55"/>
<circle cx="207.5" cy="52.5" r="3.55"/>
<circle cx="438.3" cy="46.5" r="3.55"/>
<circle cx="321.1" cy="51.7" r="3.55"/>
<circle cx="455.3" cy="309.6" r="3.55"/>
<circle cx="330.7" cy="334.3" r="3.55"/>
<circle cx="201.4" cy="57.3" r="3.55"/>
<circle cx="448.2" cy="328.2" r="3.55"/>
<circle cx="206.0" cy="125.8" r="3.55"/>
<circle cx="439.7" cy="337.1" r="3.55"/>
<circle cx="153.1" cy="283.2" r="3.55"/>
<circle cx="444.9" cy="45.4" r="3.55"/>
<circle cx="159.5" cy="275.4" r="3.55"/>
<circle cx="221.5" cy="140.8" r="3.55"/>
<circle cx="353.1" cy="51.5" r="3.55"/>
<circle cx="244.9" cy="49.4" r="3.55"/>
<circle cx="329.0" cy="335.5" r="3.55"/>
<circle cx="119.6" cy="345.8" r="3.55"/>
<circle cx="453.0" cy="47.4" r="3.55"/>
<circle cx="442.6" cy="339.1" r="3.55"/>
<circle cx="173.7" cy="276.1" r="3.55"/>
<circle cx="175.2" cy="69.4" r="3.55"/>
<circle cx="385.3" cy="337.1" r="3.55"/>
<circle cx="510.2" cy="101.4" r="3.55"/>
<circle cx="257.0" cy="49.6" r="3.55"/>
<circle cx="422.7" cy="47.2" r="3.55"/>
<circle cx="251.8" cy="338.4" r="3.55"/>
<circle cx="382.3" cy="337.4" r="3.55"/>
<circle cx="167.2" cy="346.0" r="3.55"/>
<circle cx="248.5" cy="54.1" r="3.55"/>
<circle cx="463.4" cy="44.5" r="3.55"/>
<circle cx="408.0" cy="333.3" r="3.55"/>
<circle cx="287.4" cy="334.0" r="3.55"/>
<circle cx="457.1" cy="45.1" r="3.55"/>
<circle cx="537.6" cy="80.1" r="3.55"/>
<circle cx="160.8" cy="84.0" r="3.55"/>
<circle cx="257.4" cy="337.9" r="3.55"/>
<circle cx="235.3" cy="339.1" r="3.55"/>
<circle cx="450.4" cy="338.7" r="3.55"/>
<circle cx="207.8" cy="59.6" r="3.55"/>
<circle cx="433.1" cy="47.5" r="3.55"/>
<circle cx="359.8" cy="336.0" r="3.55"/>
<circle cx="441.3" cy="329.8" r="3.55"/>
<circle cx="211.6" cy="340.6" r="3.55"/>
<circle cx="452.9" cy="47.5" r="3.55"/>
<circle cx="230.7" cy="52.3" r="3.55"/>
<circle cx="116.3" cy="294.7" r="3.55"/>
<circle cx="142.1" cy="294.8" r="3.55"/>
<circle cx="188.5" cy="121.6" r="3.55"/>
<circle cx="451.0" cy="338.1" r="3.55"/>
<circle cx="200.3" cy="340.9" r="3.55"/>
<circle cx="245.8" cy="55.3" r="3.55"/>
<circle cx="330.3" cy="335.7" r="3.55"/>
<circle cx="407.1" cy="338.2" r="3.55"/>
<circle cx="462.0" cy="44.6" r="3.55"/>
<circle cx="338.5" cy="51.6" r="3.55"/>
<circle cx="240.9" cy="335.4" r="3.55"/>
<circle cx="211.9" cy="336.5" r="3.55"/>
<circle cx="549.5" cy="68.4" r="3.55"/>
<circle cx="541.9" cy="63.9" r="3.55"/>
<circle cx="523.9" cy="44.5" r="3.55"/>
<circle cx="245.7" cy="335.4" r="3.55"/>
<circle cx="487.5" cy="42.5" r="3.55"/>
<circle cx="192.3" cy="73.9" r="3.55"/>
<circle cx="178.5" cy="98.6" r="3.55"/>
<circle cx="511.4" cy="62.7" r="3.55"/>
<circle cx="123.3" cy="344.2" r="3.55"/>
<circle cx="132.6" cy="314.1" r="3.55"/>
<circle cx="167.9" cy="344.0" r="3.55"/>
<circle cx="194.2" cy="83.3" r="3.55"/>
<circle cx="453.2" cy="334.3" r="3.55"/>
<circle cx="154.4" cy="69.4" r="3.55"/>
<circle cx="225.7" cy="340.0" r="3.55"/>
<circle cx="469.4" cy="44.0" r="3.55"/>
<circle cx="212.3" cy="47.7" r="3.55"/>
<circle cx="180.9" cy="99.0" r="3.55"/>
<circle cx="303.0" cy="51.2" r="3.55"/>
<circle cx="162.5" cy="339.3" r="3.55"/>
<circle cx="390.8" cy="333.5" r="3.55"/>
<circle cx="178.6" cy="343.4" r="3.55"/>
<circle cx="373.1" cy="334.4" r="3.55"/>
<circle cx="530.0" cy="51.6" r="3.55"/>
<circle cx="104.2" cy="334.0" r="3.55"/>
<circle cx="179.4" cy="108.4" r="3.55"/>
<circle cx="302.5" cy="54.1" r="3.55"/>
<circle cx="383.1" cy="337.1" r="3.55"/>
<circle cx="116.6" cy="306.6" r="3.55"/>
<circle cx="104.7" cy="309.3" r="3.55"/>
<circle cx="195.2" cy="340.0" r="3.55"/>
<circle cx="365.6" cy="336.7" r="3.55"/>
<circle cx="424.2" cy="327.6" r="3.55"/>
<circle cx="100.7" cy="342.7" r="3.55"/>
<circle cx="506.5" cy="86.4" r="3.55"/>
<circle cx="211.7" cy="53.3" r="3.55"/>
<circle cx="368.5" cy="50.6" r="3.55"/>
<circle cx="507.1" cy="315.3" r="3.55"/>
<circle cx="151.2" cy="275.0" r="3.55"/>
<circle cx="312.5" cy="51.2" r="3.55"/>
<circle cx="446.8" cy="332.9" r="3.55"/>
<circle cx="337.7" cy="335.0" r="3.55"/>
<circle cx="497.1" cy="47.1" r="3.55"/>
<circle cx="263.4" cy="50.4" r="3.55"/>
<circle cx="327.4" cy="51.8" r="3.55"/>
<circle cx="550.4" cy="45.7" r="3.55"/>
<circle cx="455.2" cy="45.2" r="3.55"/>
<circle cx="234.4" cy="335.4" r="3.55"/>
<circle cx="227.9" cy="52.0" r="3.55"/>
<circle cx="371.4" cy="336.9" r="3.55"/>
<circle cx="175.2" cy="77.4" r="3.55"/>
<circle cx="449.6" cy="338.5" r="3.55"/>
<circle cx="314.3" cy="335.3" r="3.55"/>
<circle cx="328.4" cy="52.9" r="3.55"/>
<circle cx="432.5" cy="332.2" r="3.55"/>
<circle cx="442.1" cy="49.5" r="3.55"/>
<circle cx="297.7" cy="335.9" r="3.55"/>
<circle cx="492.2" cy="289.9" r="3.55"/>
<circle cx="246.6" cy="56.8" r="3.55"/>
<circle cx="188.5" cy="48.8" r="3.55"/>
<circle cx="488.8" cy="332.5" r="3.55"/>
<circle cx="439.3" cy="333.6" r="3.55"/>
<circle cx="178.8" cy="336.2" r="3.55"/>
<circle cx="445.7" cy="338.3" r="3.55"/>
<circle cx="281.1" cy="335.9" r="3.55"/>
<circle cx="230.9" cy="335.6" r="3.55"/>
<circle cx="354.6" cy="336.4" r="3.55"/>
<circle cx="446.4" cy="308.2" r="3.55"/>
<circle cx="350.9" cy="51.3" r="3.55"/>
<circle cx="164.0" cy="279.5" r="3.55"/>
<circle cx="477.1" cy="43.6" r="3.55"/>
<circle cx="228.4" cy="58.9" r="3.55"/>
<circle cx="415.2" cy="50.3" r="3.55"/>
<circle cx="456.2" cy="333.6" r="3.55"/>
<circle cx="326.5" cy="52.5" r="3.55"/>
<circle cx="355.7" cy="53.0" r="3.55"/>
<circle cx="179.6" cy="342.8" r="3.55"/>
<circle cx="268.2" cy="337.1" r="3.55"/>
<circle cx="521.3" cy="71.1" r="3.55"/>
<circle cx="490.1" cy="311.2" r="3.55"/>
<circle cx="472.9" cy="44.0" r="3.55"/>
<circle cx="412.3" cy="48.2" r="3.55"/>
<circle cx="423.9" cy="332.9" r="3.55"/>
<circle cx="300.4" cy="51.3" r="3.55"/>
<circle cx="353.3" cy="336.3" r="3.55"/>
<circle cx="359.3" cy="51.1" r="3.55"/>
<circle cx="466.4" cy="294.7" r="3.55"/>
<circle cx="233.5" cy="53.7" r="3.55"/>
<circle cx="441.6" cy="336.6" r="3.55"/>
<circle cx="249.8" cy="51.8" r="3.55"/>
<circle cx="160.0" cy="78.2" r="3.55"/>
<circle cx="424.4" cy="47.4" r="3.55"/>
<circle cx="280.5" cy="335.3" r="3.55"/>
<circle cx="148.6" cy="325.7" r="3.55"/>
<circle cx="426.4" cy="339.3" r="3.55"/>
<circle cx="356.8" cy="51.7" r="3.55"/>
<circle cx="465.8" cy="274.5" r="3.55"/>
<circle cx="244.7" cy="51.2" r="3.55"/>
<circle cx="169.4" cy="343.8" r="3.55"/>
<circle cx="207.8" cy="54.5" r="3.55"/>
<circle cx="221.7" cy="340.4" r="3.55"/>
<circle cx="397.9" cy="49.4" r="3.55"/>
<circle cx="218.3" cy="136.3" r="3.55"/>
<circle cx="263.7" cy="333.6" r="3.55"/>
<circle cx="392.9" cy="337.8" r="3.55"/>
<circle cx="371.2" cy="336.8" r="3.55"/>
<circle cx="200.3" cy="47.9" r="3.55"/>
<circle cx="456.2" cy="44.7" r="3.55"/>
<circle cx="494.1" cy="92.7" r="3.55"/>
<circle cx="208.2" cy="73.3" r="3.55"/>
<circle cx="409.2" cy="48.1" r="3.55"/>
<circle cx="235.2" cy="338.5" r="3.55"/>
<circle cx="506.9" cy="100.9" r="3.55"/>
<circle cx="196.1" cy="70.6" r="3.55"/>
<circle cx="255.4" cy="54.3" r="3.55"/>
<circle cx="300.2" cy="335.7" r="3.55"/>
<circle cx="498.6" cy="71.4" r="3.55"/>
<circle cx="361.6" cy="336.3" r="3.55"/>
<circle cx="407.7" cy="48.8" r="3.55"/>
<circle cx="430.0" cy="47.8" r="3.55"/>
<circle cx="370.1" cy="50.6" r="3.55"/>
<circle cx="221.3" cy="339.9" r="3.55"/>
<circle cx="345.7" cy="336.2" r="3.55"/>
<circle cx="293.7" cy="335.2" r="3.55"/>
<circle cx="275.3" cy="50.3" r="3.55"/>
<circle cx="245.5" cy="338.9" r="3.55"/>
<circle cx="494.6" cy="43.4" r="3.55"/>
<circle cx="211.2" cy="47.9" r="3.55"/>
<circle cx="383.2" cy="51.0" r="3.55"/>
<circle cx="171.0" cy="343.3" r="3.55"/>
<circle cx="495.6" cy="41.6" r="3.55"/>
<circle cx="208.4" cy="338.9" r="3.55"/>
<circle cx="164.7" cy="345.2" r="3.55"/>
<circle cx="418.6" cy="47.6" r="3.55"/>
<circle cx="520.4" cy="87.0" r="3.55"/>
<circle cx="381.0" cy="336.9" r="3.55"/>
<circle cx="207.1" cy="47.7" r="3.55"/>
<circle cx="452.4" cy="339.1" r="3.55"/>
<circle cx="171.6" cy="342.9" r="3.55"/>
<circle cx="328.8" cy="53.4" r="3.55"/>
<circle cx="383.4" cy="51.7" r="3.55"/>
<circle cx="147.2" cy="292.2" r="3.55"/>
<circle cx="170.4" cy="61.6" r="3.55"/>
<circle cx="474.3" cy="48.2" r="3.55"/>
<circle cx="398.3" cy="49.1" r="3.55"/>
<circle cx="442.2" cy="46.3" r="3.55"/>
<circle cx="254.2" cy="335.4" r="3.55"/>
<circle cx="213.3" cy="337.2" r="3.55"/>
<circle cx="507.0" cy="65.4" r="3.55"/>
<circle cx="424.7" cy="333.4" r="3.55"/>
<circle cx="475.2" cy="49.3" r="3.55"/>
<circle cx="505.3" cy="77.2" r="3.55"/>
<circle cx="154.9" cy="297.9" r="3.55"/>
<circle cx="215.7" cy="135.9" r="3.55"/>
<circle cx="219.8" cy="47.8" r="3.55"/>
<circle cx="377.5" cy="336.9" r="3.55"/>
<circle cx="158.1" cy="334.8" r="3.55"/>
<circle cx="149.9" cy="340.1" r="3.55"/>
<circle cx="251.9" cy="49.6" r="3.55"/>
<circle cx="337.0" cy="52.1" r="3.55"/>
<circle cx="139.9" cy="335.0" r="3.55"/>
<circle cx="398.2" cy="337.5" r="3.55"/>
<circle cx="510.1" cy="105.8" r="3.55"/>
<circle cx="181.6" cy="342.4" r="3.55"/>
<circle cx="386.9" cy="50.8" r="3.55"/>
<circle cx="465.9" cy="44.0" r="3.55"/>
<circle cx="320.7" cy="335.2" r="3.55"/>
<circle cx="279.1" cy="53.7" r="3.55"/>
<circle cx="202.9" cy="63.7" r="3.55"/>
<circle cx="330.5" cy="335.7" r="3.55"/>
<circle cx="95.8" cy="343.3" r="3.55"/>
<circle cx="167.9" cy="85.2" r="3.55"/>
<circle cx="498.2" cy="75.1" r="3.55"/>
<circle cx="218.6" cy="51.8" r="3.55"/>
<circle cx="405.6" cy="333.6" r="3.55"/>
<circle cx="473.3" cy="49.1" r="3.55"/>
<circle cx="394.4" cy="337.9" r="3.55"/>
<circle cx="491.7" cy="313.0" r="3.55"/>
<circle cx="436.3" cy="332.8" r="3.55"/>
<circle cx="453.3" cy="297.2" r="3.55"/>
<circle cx="311.8" cy="333.9" r="3.55"/>
<circle cx="536.6" cy="89.2" r="3.55"/>
<circle cx="259.8" cy="337.9" r="3.55"/>
<circle cx="517.6" cy="63.8" r="3.55"/>
<circle cx="378.8" cy="51.9" r="3.55"/>
<circle cx="478.3" cy="48.6" r="3.55"/>
<circle cx="175.9" cy="87.6" r="3.55"/>
<circle cx="99.8" cy="327.3" r="3.55"/>
<circle cx="271.9" cy="337.3" r="3.55"/>
<circle cx="408.3" cy="48.4" r="3.55"/>
<circle cx="303.7" cy="51.5" r="3.55"/>
<circle cx="482.1" cy="292.5" r="3.55"/>
<circle cx="200.4" cy="78.7" r="3.55"/>
<circle cx="328.5" cy="51.7" r="3.55"/>
<circle cx="418.3" cy="338.8" r="3.55"/>
<circle cx="142.5" cy="299.6" r="3.55"/>
<circle cx="228.5" cy="48.0" r="3.55"/>
<circle cx="494.0" cy="46.5" r="3.55"/>
<circle cx="271.6" cy="50.5" r="3.55"/>
<circle cx="170.0" cy="343.7" r="3.55"/>
<circle cx="487.1" cy="42.3" r="3.55"/>
<circle cx="171.2" cy="84.8" r="3.55"/>
<circle cx="296.1" cy="335.5" r="3.55"/>
<circle cx="349.2" cy="336.1" r="3.55"/>
<circle cx="246.9" cy="338.3" r="3.55"/>
<circle cx="377.3" cy="50.2" r="3.55"/>
<circle cx="435.3" cy="334.8" r="3.55"/>
<circle cx="192.6" cy="340.4" r="3.55"/>
<circle cx="365.2" cy="51.0" r="3.55"/>
<circle cx="174.5" cy="76.3" r="3.55"/>
<circle cx="340.2" cy="336.1" r="3.55"/>
<circle cx="219.1" cy="48.0" r="3.55"/>
<circle cx="452.2" cy="327.4" r="3.55"/>
<circle cx="430.8" cy="331.2" r="3.55"/>
<circle cx="340.3" cy="336.1" r="3.55"/>
<circle cx="513.4" cy="41.5" r="3.55"/>
<circle cx="220.7" cy="51.2" r="3.55"/>
<circle cx="295.2" cy="50.7" r="3.55"/>
<circle cx="516.1" cy="86.0" r="3.55"/>
<circle cx="213.3" cy="340.2" r="3.55"/>
<circle cx="164.8" cy="73.6" r="3.55"/>
<circle cx="352.3" cy="51.3" r="3.55"/>
<circle cx="483.7" cy="42.8" r="3.55"/>
<circle cx="205.8" cy="58.5" r="3.55"/>
<circle cx="337.9" cy="51.8" r="3.55"/>
<circle cx="444.5" cy="271.2" r="3.55"/>
<circle cx="453.0" cy="338.5" r="3.55"/>
<circle cx="123.6" cy="345.8" r="3.55"/>
<circle cx="430.3" cy="329.6" r="3.55"/>
<circle cx="385.5" cy="333.1" r="3.55"/>
<circle cx="262.1" cy="49.4" r="3.55"/>
<circle cx="467.4" cy="44.2" r="3.55"/>
<circle cx="197.0" cy="86.6" r="3.55"/>
<circle cx="375.6" cy="333.3" r="3.55"/>
<circle cx="152.9" cy="345.0" r="3.55"/>
<circle cx="243.9" cy="336.3" r="3.55"/>
<circle cx="160.1" cy="344.1" r="3.55"/>
<circle cx="202.1" cy="87.7" r="3.55"/>
<circle cx="170.3" cy="338.1" r="3.55"/>
<circle cx="275.0" cy="337.0" r="3.55"/>
<circle cx="104.9" cy="324.7" r="3.55"/>
<circle cx="340.5" cy="51.4" r="3.55"/>
<circle cx="400.1" cy="52.7" r="3.55"/>
<circle cx="413.8" cy="338.7" r="3.55"/>
<circle cx="108.0" cy="317.8" r="3.55"/>
<circle cx="155.1" cy="328.6" r="3.55"/>
<circle cx="447.6" cy="334.8" r="3.55"/>
<circle cx="436.4" cy="331.5" r="3.55"/>
<circle cx="452.7" cy="261.7" r="3.55"/>
<circle cx="391.0" cy="49.6" r="3.55"/>
<circle cx="545.1" cy="41.3" r="3.55"/>
<circle cx="464.0" cy="264.1" r="3.55"/>
<circle cx="112.5" cy="343.0" r="3.55"/>
<circle cx="281.1" cy="50.5" r="3.55"/>
<circle cx="486.3" cy="329.7" r="3.55"/>
<circle cx="129.4" cy="310.7" r="3.55"/>
<circle cx="227.7" cy="52.5" r="3.55"/>
<circle cx="484.3" cy="45.0" r="3.55"/>
<circle cx="560.2" cy="56.0" r="3.55"/>
<circle cx="294.7" cy="336.3" r="3.55"/>
<circle cx="130.8" cy="294.8" r="3.55"/>
<circle cx="497.1" cy="43.4" r="3.55"/>
<circle cx="213.2" cy="339.5" r="3.55"/>
<circle cx="416.1" cy="338.4" r="3.55"/>
<circle cx="539.6" cy="66.1" r="3.55"/>
<circle cx="150.6" cy="300.6" r="3.55"/>
<circle cx="493.9" cy="42.1" r="3.55"/>
<circle cx="121.3" cy="326.7" r="3.55"/>
<circle cx="551.4" cy="40.6" r="3.55"/>
<circle cx="496.4" cy="49.0" r="3.55"/>
<circle cx="343.3" cy="51.8" r="3.55"/>
<circle cx="433.0" cy="339.4" r="3.55"/>
<circle cx="214.7" cy="48.1" r="3.55"/>
<circle cx="439.7" cy="339.6" r="3.55"/>
<circle cx="464.8" cy="44.1" r="3.55"/>
<circle cx="351.3" cy="334.1" r="3.55"/>
<circle cx="524.2" cy="85.3" r="3.55"/>
<circle cx="456.5" cy="46.4" r="3.55"/>
<circle cx="183.4" cy="342.7" r="3.55"/>
<circle cx="233.4" cy="339.5" r="3.55"/>
<circle cx="459.1" cy="338.9" r="3.55"/>
<circle cx="207.9" cy="55.9" r="3.55"/>
<circle cx="442.5" cy="308.1" r="3.55"/>
<circle cx="459.0" cy="49.0" r="3.55"/>
<circle cx="182.1" cy="342.3" r="3.55"/>
<circle cx="355.5" cy="51.8" r="3.55"/>
<circle cx="454.8" cy="338.7" r="3.55"/>
<circle cx="391.7" cy="337.3" r="3.55"/>
<circle cx="271.0" cy="336.9" r="3.55"/>
<circle cx="161.2" cy="339.7" r="3.55"/>
<circle cx="241.4" cy="337.5" r="3.55"/>
<circle cx="472.6" cy="43.6" r="3.55"/>
<circle cx="410.4" cy="338.9" r="3.55"/>
<circle cx="324.5" cy="335.5" r="3.55"/>
<circle cx="448.2" cy="318.5" r="3.55"/>
<circle cx="276.0" cy="53.1" r="3.55"/>
<circle cx="291.3" cy="53.3" r="3.55"/>
<circle cx="449.3" cy="45.5" r="3.55"/>
<circle cx="441.5" cy="47.4" r="3.55"/>
<circle cx="140.9" cy="320.6" r="3.55"/>
<circle cx="229.3" cy="48.2" r="3.55"/>
<circle cx="396.5" cy="51.8" r="3.55"/>
<circle cx="422.7" cy="337.2" r="3.55"/>
<circle cx="377.4" cy="52.2" r="3.55"/>
<circle cx="267.0" cy="337.3" r="3.55"/>
<circle cx="406.1" cy="48.6" r="3.55"/>
<circle cx="260.3" cy="49.9" r="3.55"/>
<circle cx="436.4" cy="47.9" r="3.55"/>
<circle cx="317.6" cy="51.6" r="3.55"/>
<circle cx="512.1" cy="45.9" r="3.55"/>
<circle cx="259.8" cy="49.8" r="3.55"/>
<circle cx="344.7" cy="51.8" r="3.55"/>
<circle cx="282.8" cy="334.7" r="3.55"/>
<circle cx="356.8" cy="51.6" r="3.55"/>
<circle cx="347.6" cy="51.7" r="3.55"/>
<circle cx="201.6" cy="339.8" r="3.55"/>
<circle cx="454.4" cy="329.9" r="3.55"/>
<circle cx="321.0" cy="335.7" r="3.55"/>
<circle cx="216.3" cy="52.7" r="3.55"/>
<circle cx="513.8" cy="98.4" r="3.55"/>
<circle cx="251.2" cy="54.0" r="3.55"/>
<circle cx="502.0" cy="51.0" r="3.55"/>
<circle cx="182.9" cy="100.7" r="3.55"/>
<circle cx="491.1" cy="46.3" r="3.55"/>
<circle cx="309.3" cy="334.9" r="3.55"/>
<circle cx="210.0" cy="48.2" r="3.55"/>
<circle cx="255.6" cy="54.9" r="3.55"/>
<circle cx="247.9" cy="338.3" r="3.55"/>
<circle cx="346.3" cy="335.7" r="3.55"/>
<circle cx="270.3" cy="334.8" r="3.55"/>
<circle cx="438.2" cy="330.4" r="3.55"/>
<circle cx="321.1" cy="52.3" r="3.55"/>
<circle cx="172.2" cy="58.6" r="3.55"/>
<circle cx="214.5" cy="340.2" r="3.55"/>
<circle cx="542.1" cy="42.3" r="3.55"/>
<circle cx="384.9" cy="50.1" r="3.55"/>
<circle cx="503.8" cy="60.4" r="3.55"/>
<circle cx="420.0" cy="338.8" r="3.55"/>
<circle cx="459.0" cy="273.7" r="3.55"/>
<circle cx="279.0" cy="336.3" r="3.55"/>
<circle cx="322.3" cy="52.3" r="3.55"/>
<circle cx="233.9" cy="339.1" r="3.55"/>
<circle cx="176.9" cy="50.1" r="3.55"/>
<circle cx="178.4" cy="337.6" r="3.55"/>
<circle cx="88.9" cy="333.9" r="3.55"/>
<circle cx="452.9" cy="338.5" r="3.55"/>
<circle cx="515.8" cy="106.4" r="3.55"/>
<circle cx="134.6" cy="306.8" r="3.55"/>
<circle cx="364.6" cy="335.6" r="3.55"/>
<circle cx="537.1" cy="57.1" r="3.55"/>
<circle cx="249.1" cy="52.9" r="3.55"/>
<circle cx="124.9" cy="326.4" r="3.55"/>
<circle cx="352.6" cy="335.9" r="3.55"/>
<circle cx="460.9" cy="44.7" r="3.55"/>
<circle cx="296.3" cy="52.0" r="3.55"/>
<circle cx="480.5" cy="274.9" r="3.55"/>
<circle cx="297.0" cy="51.2" r="3.55"/>
<circle cx="545.0" cy="44.6" r="3.55"/>
<circle cx="248.2" cy="50.5" r="3.55"/>
<circle cx="359.8" cy="51.5" r="3.55"/>
<circle cx="227.2" cy="56.3" r="3.55"/>
<circle cx="424.4" cy="47.9" r="3.55"/>
<circle cx="244.3" cy="337.4" r="3.55"/>
<circle cx="260.6" cy="53.4" r="3.55"/>
<circle cx="299.6" cy="335.6" r="3.55"/>
<circle cx="329.7" cy="51.9" r="3.55"/>
<circle cx="192.7" cy="99.0" r="3.55"/>
<circle cx="219.9" cy="52.5" r="3.55"/>
<circle cx="424.6" cy="46.8" r="3.55"/>
<circle cx="227.4" cy="48.0" r="3.55"/>
<circle cx="185.3" cy="337.8" r="3.55"/>
<circle cx="162.7" cy="326.2" r="3.55"/>
<circle cx="234.4" cy="59.1" r="3.55"/>
<circle cx="222.8" cy="49.7" r="3.55"/>
<circle cx="234.9" cy="335.4" r="3.55"/>
<circle cx="156.3" cy="281.7" r="3.55"/>
<circle cx="267.3" cy="336.3" r="3.55"/>
<circle cx="494.5" cy="105.5" r="3.55"/>
<circle cx="278.4" cy="50.6" r="3.55"/>
<circle cx="117.7" cy="344.5" r="3.55"/>
<circle cx="349.9" cy="336.3" r="3.55"/>
<circle cx="135.3" cy="343.4" r="3.55"/>
<circle cx="137.0" cy="300.1" r="3.55"/>
<circle cx="347.5" cy="335.8" r="3.55"/>
<circle cx="317.2" cy="335.4" r="3.55"/>
<circle cx="414.3" cy="49.1" r="3.55"/>
<circle cx="236.4" cy="51.4" r="3.55"/>
<circle cx="439.5" cy="337.0" r="3.55"/>
<circle cx="443.8" cy="48.4" r="3.55"/>
<circle cx="171.0" cy="343.5" r="3.55"/>
<circle cx="215.4" cy="57.5" r="3.55"/>
<circle cx="530.8" cy="40.2" r="3.55"/>
<circle cx="217.7" cy="56.7" r="3.55"/>
<circle cx="178.0" cy="342.9" r="3.55"/>
<circle cx="140.0" cy="345.5" r="3.55"/>
<circle cx="122.3" cy="297.4" r="3.55"/>
<circle cx="115.2" cy="309.5" r="3.55"/>
<circle cx="463.0" cy="44.4" r="3.55"/>
<circle cx="442.1" cy="48.1" r="3.55"/>
<circle cx="477.7" cy="333.6" r="3.55"/>
<circle cx="159.1" cy="341.4" r="3.55"/>
<circle cx="132.4" cy="321.4" r="3.55"/>
<circle cx="187.6" cy="52.0" r="3.55"/>
<circle cx="452.8" cy="331.5" r="3.55"/>
<circle cx="169.9" cy="341.9" r="3.55"/>
<circle cx="188.7" cy="57.6" r="3.55"/>
<circle cx="294.5" cy="336.3" r="3.55"/>
<circle cx="393.0" cy="337.6" r="3.55"/>
<circle cx="332.1" cy="333.9" r="3.55"/>
<circle cx="413.9" cy="330.5" r="3.55"/>
<circle cx="354.0" cy="334.7" r="3.55"/>
<circle cx="429.8" cy="334.7" r="3.55"/>
<circle cx="227.1" cy="51.3" r="3.55"/>
<circle cx="453.9" cy="45.0" r="3.55"/>
<circle cx="388.1" cy="49.9" r="3.55"/>
<circle cx="195.0" cy="119.0" r="3.55"/>
<circle cx="235.6" cy="55.8" r="3.55"/>
<circle cx="545.8" cy="69.3" r="3.55"/>
<circle cx="432.1" cy="327.5" r="3.55"/>
<circle cx="267.1" cy="49.7" r="3.55"/>
<circle cx="167.0" cy="330.7" r="3.55"/>
<circle cx="423.4" cy="328.6" r="3.55"/>
<circle cx="409.4" cy="48.4" r="3.55"/>
<circle cx="191.6" cy="339.2" r="3.55"/>
<circle cx="462.4" cy="272.5" r="3.55"/>
<circle cx="165.8" cy="338.5" r="3.55"/>
<circle cx="242.4" cy="49.3" r="3.55"/>
<circle cx="202.8" cy="58.2" r="3.55"/>
<circle cx="317.8" cy="334.2" r="3.55"/>
<circle cx="429.2" cy="339.3" r="3.55"/>
<circle cx="448.8" cy="334.0" r="3.55"/>
<circle cx="202.3" cy="341.0" r="3.55"/>
<circle cx="515.7" cy="94.3" r="3.55"/>
<circle cx="434.8" cy="332.8" r="3.55"/>
<circle cx="471.7" cy="48.9" r="3.55"/>
<circle cx="461.1" cy="303.2" r="3.55"/>
<circle cx="406.7" cy="336.7" r="3.55"/>
<circle cx="235.1" cy="52.3" r="3.55"/>
<circle cx="184.6" cy="340.7" r="3.55"/>
<circle cx="305.6" cy="51.2" r="3.55"/>
<circle cx="485.5" cy="42.6" r="3.55"/>
<circle cx="108.1" cy="321.8" r="3.55"/>
<circle cx="449.3" cy="330.9" r="3.55"/>
<circle cx="438.0" cy="339.0" r="3.55"/>
<circle cx="488.6" cy="46.3" r="3.55"/>
<circle cx="310.0" cy="52.2" r="3.55"/>
<circle cx="439.2" cy="336.2" r="3.55"/>
<circle cx="447.6" cy="334.4" r="3.55"/>
<circle cx="347.5" cy="51.4" r="3.55"/>
<circle cx="200.7" cy="340.9" r="3.55"/>
<circle cx="197.5" cy="336.6" r="3.55"/>
<circle cx="100.6" cy="310.2" r="3.55"/>
<circle cx="219.5" cy="340.6" r="3.55"/>
<circle cx="224.1" cy="48.4" r="3.55"/>
<circle cx="336.5" cy="335.7" r="3.55"/>
<circle cx="213.3" cy="58.4" r="3.55"/>
<circle cx="446.6" cy="327.3" r="3.55"/>
<circle cx="239.5" cy="53.9" r="3.55"/>
<circle cx="412.0" cy="335.4" r="3.55"/>
<circle cx="327.2" cy="52.0" r="3.55"/>
<circle cx="248.2" cy="55.3" r="3.55"/>
<circle cx="221.4" cy="336.3" r="3.55"/>
<circle cx="293.3" cy="334.4" r="3.55"/>
<circle cx="427.9" cy="339.4" r="3.55"/>
<circle cx="346.5" cy="335.9" r="3.55"/>
<circle cx="277.2" cy="336.3" r="3.55"/>
<circle cx="389.0" cy="334.9" r="3.55"/>
<circle cx="319.9" cy="333.9" r="3.55"/>
<circle cx="415.2" cy="339.1" r="3.55"/>
<circle cx="477.3" cy="280.6" r="3.55"/>
<circle cx="451.2" cy="45.0" r="3.55"/>
<circle cx="341.2" cy="51.5" r="3.55"/>
<circle cx="454.5" cy="333.8" r="3.55"/>
<circle cx="145.8" cy="316.5" r="3.55"/>
<circle cx="393.9" cy="336.3" r="3.55"/>
<circle cx="243.6" cy="337.4" r="3.55"/>
<circle cx="306.4" cy="51.5" r="3.55"/>
<circle cx="488.9" cy="277.6" r="3.55"/>
<circle cx="253.4" cy="50.2" r="3.55"/>
<circle cx="545.3" cy="85.3" r="3.55"/>
<circle cx="169.4" cy="106.9" r="3.55"/>
<circle cx="292.9" cy="335.9" r="3.55"/>
<circle cx="274.7" cy="335.8" r="3.55"/>
<circle cx="292.5" cy="50.5" r="3.55"/>
<circle cx="521.2" cy="96.3" r="3.55"/>
<circle cx="186.6" cy="341.4" r="3.55"/>
<circle cx="497.7" cy="41.4" r="3.55"/>
<circle cx="452.5" cy="338.7" r="3.55"/>
<circle cx="153.5" cy="278.4" r="3.55"/>
<circle cx="242.8" cy="48.8" r="3.55"/>
<circle cx="430.1" cy="331.8" r="3.55"/>
<circle cx="120.4" cy="345.3" r="3.55"/>
<circle cx="446.0" cy="327.7" r="3.55"/>
<circle cx="152.0" cy="82.8" r="3.55"/>
<circle cx="445.6" cy="335.2" r="3.55"/>
<circle cx="150.0" cy="296.3" r="3.55"/>
<circle cx="455.3" cy="45.4" r="3.55"/>
<circle cx="394.9" cy="49.8" r="3.55"/>
<circle cx="196.1" cy="97.7" r="3.55"/>
<circle cx="472.9" cy="319.7" r="3.55"/>
<circle cx="239.1" cy="49.9" r="3.55"/>
<circle cx="174.8" cy="73.8" r="3.55"/>
<circle cx="220.9" cy="339.9" r="3.55"/>
<circle cx="227.2" cy="145.1" r="3.55"/>
<circle cx="480.0" cy="44.3" r="3.55"/>
<circle cx="222.2" cy="338.2" r="3.55"/>
<circle cx="448.7" cy="47.6" r="3.55"/>
<circle cx="289.1" cy="50.8" r="3.55"/>
<circle cx="119.5" cy="297.2" r="3.55"/>
<circle cx="231.9" cy="48.4" r="3.55"/>
<circle cx="248.7" cy="51.5" r="3.55"/>
<circle cx="396.3" cy="49.2" r="3.55"/>
<circle cx="442.9" cy="262.5" r="3.55"/>
<circle cx="282.1" cy="53.8" r="3.55"/>
<circle cx="240.3" cy="49.4" r="3.55"/>
<circle cx="136.1" cy="304.4" r="3.55"/>
<circle cx="206.7" cy="340.5" r="3.55"/>
<circle cx="220.8" cy="340.3" r="3.55"/>
<circle cx="269.9" cy="53.1" r="3.55"/>
<circle cx="419.3" cy="47.5" r="3.55"/>
<circle cx="497.0" cy="51.9" r="3.55"/>
<circle cx="261.1" cy="336.4" r="3.55"/>
<circle cx="118.8" cy="311.6" r="3.55"/>
<circle cx="525.5" cy="98.7" r="3.55"/>
<circle cx="496.9" cy="327.3" r="3.55"/>
<circle cx="521.5" cy="46.9" r="3.55"/>
<circle cx="532.6" cy="57.6" r="3.55"/>
<circle cx="253.5" cy="335.0" r="3.55"/>
<circle cx="206.0" cy="48.2" r="3.55"/>
<circle cx="248.3" cy="50.2" r="3.55"/>
<circle cx="256.9" cy="49.5" r="3.55"/>
<circle cx="409.2" cy="338.5" r="3.55"/>
<circle cx="454.5" cy="47.9" r="3.55"/>
<circle cx="309.8" cy="335.0" r="3.55"/>
<circle cx="219.5" cy="338.5" r="3.55"/>
<circle cx="345.9" cy="51.4" r="3.55"/>
<circle cx="398.0" cy="49.3" r="3.55"/>
<circle cx="241.4" cy="56.9" r="3.55"/>
<circle cx="183.4" cy="342.7" r="3.55"/>
<circle cx="404.5" cy="335.7" r="3.55"/>
<circle cx="273.5" cy="50.0" r="3.55"/>
<circle cx="212.3" cy="340.5" r="3.55"/>
<circle cx="378.1" cy="49.8" r="3.55"/>
<circle cx="325.6" cy="335.8" r="3.55"/>
<circle cx="496.6" cy="64.6" r="3.55"/>
<circle cx="199.6" cy="130.3" r="3.55"/>
<circle cx="403.3" cy="337.6" r="3.55"/>
<circle cx="113.8" cy="313.7" r="3.55"/>
<circle cx="445.5" cy="337.8" r="3.55"/>
<circle cx="127.9" cy="303.8" r="3.55"/>
<circle cx="445.1" cy="336.4" r="3.55"/>
<circle cx="530.8" cy="53.9" r="3.55"/>
<circle cx="371.9" cy="333.1" r="3.55"/>
<circle cx="407.2" cy="48.9" r="3.55"/>
<circle cx="113.4" cy="339.1" r="3.55"/>
<circle cx="180.3" cy="63.5" r="3.55"/>
<circle cx="216.3" cy="141.6" r="3.55"/>
<circle cx="396.2" cy="332.3" r="3.55"/>
<circle cx="239.0" cy="335.7" r="3.55"/>
<circle cx="416.5" cy="338.6" r="3.55"/>
<circle cx="213.8" cy="50.1" r="3.55"/>
<circle cx="467.3" cy="305.3" r="3.55"/>
<circle cx="469.9" cy="45.9" r="3.55"/>
<circle cx="233.0" cy="337.9" r="3.55"/>
<circle cx="179.8" cy="342.8" r="3.55"/>
<circle cx="347.9" cy="52.0" r="3.55"/>
<circle cx="340.7" cy="335.9" r="3.55"/>
<circle cx="407.3" cy="48.7" r="3.55"/>
<circle cx="232.0" cy="48.2" r="3.55"/>
<circle cx="317.9" cy="51.7" r="3.55"/>
<circle cx="341.7" cy="53.9" r="3.55"/>
<circle cx="148.8" cy="329.5" r="3.55"/>
<circle cx="265.9" cy="333.8" r="3.55"/>
<circle cx="356.2" cy="336.5" r="3.55"/>
<circle cx="271.9" cy="50.0" r="3.55"/>
<circle cx="122.7" cy="317.1" r="3.55"/>
<circle cx="312.0" cy="51.9" r="3.55"/>
<circle cx="368.6" cy="336.8" r="3.55"/>
<circle cx="206.6" cy="130.9" r="3.55"/>
<circle cx="247.1" cy="337.5" r="3.55"/>
<circle cx="137.5" cy="334.2" r="3.55"/>
<circle cx="316.9" cy="51.3" r="3.55"/>
<circle cx="338.3" cy="52.7" r="3.55"/>
<circle cx="203.1" cy="341.2" r="3.55"/>
<circle cx="492.6" cy="308.3" r="3.55"/>
<circle cx="410.4" cy="48.2" r="3.55"/>
<circle cx="229.4" cy="336.1" r="3.55"/>
<circle cx="451.2" cy="46.0" r="3.55"/>
<circle cx="503.0" cy="77.3" r="3.55"/>
<circle cx="428.6" cy="333.9" r="3.55"/>
<circle cx="226.3" cy="47.7" r="3.55"/>
<circle cx="419.8" cy="339.4" r="3.55"/>
<circle cx="392.1" cy="337.9" r="3.55"/>
<circle cx="144.4" cy="342.6" r="3.55"/>
<circle cx="285.1" cy="54.3" r="3.55"/>
<circle cx="456.2" cy="45.0" r="3.55"/>
<circle cx="481.9" cy="288.8" r="3.55"/>
<circle cx="199.1" cy="50.0" r="3.55"/>
<circle cx="154.2" cy="77.5" r="3.55"/>
<circle cx="453.3" cy="45.2" r="3.55"/>
<circle cx="180.7" cy="342.3" r="3.55"/>
<circle cx="240.5" cy="53.7" r="3.55"/>
<circle cx="317.6" cy="334.9" r="3.55"/>
<circle cx="354.8" cy="51.5" r="3.55"/>
<circle cx="265.7" cy="337.4" r="3.55"/>
<circle cx="473.8" cy="284.0" r="3.55"/>
<circle cx="363.1" cy="51.3" r="3.55"/>
<circle cx="128.2" cy="337.0" r="3.55"/>
<circle cx="174.4" cy="342.5" r="3.55"/>
<circle cx="408.1" cy="48.4" r="3.55"/>
<circle cx="151.6" cy="326.1" r="3.55"/>
<circle cx="465.2" cy="303.0" r="3.55"/>
<circle cx="198.1" cy="124.5" r="3.55"/>
<circle cx="208.3" cy="54.6" r="3.55"/>
<circle cx="178.6" cy="342.5" r="3.55"/>
<circle cx="146.9" cy="288.0" r="3.55"/>
<circle cx="411.2" cy="338.6" r="3.55"/>
<circle cx="318.0" cy="51.5" r="3.55"/>
<circle cx="470.6" cy="332.1" r="3.55"/>
<circle cx="492.3" cy="42.2" r="3.55"/>
<circle cx="485.2" cy="282.5" r="3.55"/>
<circle cx="263.6" cy="337.3" r="3.55"/>
<circle cx="205.2" cy="54.6" r="3.55"/>
<circle cx="479.5" cy="324.1" r="3.55"/>
<circle cx="417.4" cy="50.6" r="3.55"/>
<circle cx="453.0" cy="277.1" r="3.55"/>
<circle cx="210.6" cy="336.5" r="3.55"/>
<circle cx="189.5" cy="107.6" r="3.55"/>
<circle cx="499.4" cy="41.2" r="3.55"/>
<circle cx="440.3" cy="49.9" r="3.55"/>
<circle cx="401.6" cy="338.4" r="3.55"/>
<circle cx="387.2" cy="334.7" r="3.55"/>
<circle cx="362.2" cy="332.8" r="3.55"/>
<circle cx="163.7" cy="53.0" r="3.55"/>
<circle cx="502.2" cy="94.7" r="3.55"/>
<circle cx="165.1" cy="106.7" r="3.55"/>
<circle cx="161.4" cy="284.3" r="3.55"/>
<circle cx="459.7" cy="288.7" r="3.55"/>
<circle cx="336.4" cy="335.7" r="3.55"/>
<circle cx="442.7" cy="49.7" r="3.55"/>
<circle cx="389.3" cy="49.5" r="3.55"/>
<circle cx="358.8" cy="336.5" r="3.55"/>
<circle cx="254.3" cy="51.0" r="3.55"/>
<circle cx="329.8" cy="52.6" r="3.55"/>
<circle cx="448.4" cy="335.3" r="3.55"/>
<circle cx="290.0" cy="335.8" r="3.55"/>
<circle cx="157.9" cy="340.9" r="3.55"/>
<circle cx="355.4" cy="334.1" r="3.55"/>
<circle cx="350.9" cy="336.1" r="3.55"/>
<circle cx="273.8" cy="50.8" r="3.55"/>
<circle cx="415.7" cy="47.8" r="3.55"/>
<circle cx="208.2" cy="53.5" r="3.55"/>
<circle cx="425.8" cy="47.0" r="3.55"/>
<circle cx="160.6" cy="340.6" r="3.55"/>
<circle cx="389.4" cy="337.2" r="3.55"/>
<circle cx="178.5" cy="66.6" r="3.55"/>
<circle cx="192.7" cy="341.4" r="3.55"/>
<circle cx="249.9" cy="55.3" r="3.55"/>
<circle cx="373.4" cy="50.4" r="3.55"/>
<circle cx="119.3" cy="305.0" r="3.55"/>
<circle cx="334.5" cy="335.5" r="3.55"/>
<circle cx="491.9" cy="319.2" r="3.55"/>
<circle cx="273.5" cy="336.6" r="3.55"/>
<circle cx="380.9" cy="50.0" r="3.55"/>
<circle cx="484.9" cy="42.5" r="3.55"/>
<circle cx="385.2" cy="49.8" r="3.55"/>
<circle cx="325.1" cy="334.4" r="3.55"/>
<circle cx="248.7" cy="336.2" r="3.55"/>
<circle cx="409.6" cy="338.5" r="3.55"/>
<circle cx="95.4" cy="315.9" r="3.55"/>
<circle cx="160.5" cy="67.5" r="3.55"/>
<circle cx="551.0" cy="48.2" r="3.55"/>
<circle cx="181.1" cy="338.1" r="3.55"/>
<circle cx="290.7" cy="50.8" r="3.55"/>
<circle cx="106.8" cy="303.4" r="3.55"/>
<circle cx="478.0" cy="45.8" r="3.55"/>
<circle cx="425.0" cy="338.9" r="3.55"/>
<circle cx="355.9" cy="335.9" r="3.55"/>
<circle cx="441.4" cy="45.8" r="3.55"/>
<circle cx="538.0" cy="54.7" r="3.55"/>
<circle cx="473.8" cy="301.0" r="3.55"/>
<circle cx="204.6" cy="114.6" r="3.55"/>
<circle cx="359.2" cy="52.4" r="3.55"/>
<circle cx="470.6" cy="45.6" r="3.55"/>
<circle cx="387.4" cy="337.7" r="3.55"/>
<circle cx="163.7" cy="86.7" r="3.55"/>
<circle cx="441.5" cy="45.8" r="3.55"/>
<circle cx="529.6" cy="88.7" r="3.55"/>
<circle cx="534.9" cy="70.4" r="3.55"/>
<circle cx="198.5" cy="67.1" r="3.55"/>
<circle cx="311.5" cy="335.2" r="3.55"/>
<circle cx="100.0" cy="314.9" r="3.55"/>
<circle cx="216.1" cy="52.1" r="3.55"/>
<circle cx="248.3" cy="336.7" r="3.55"/>
<circle cx="148.8" cy="276.4" r="3.55"/>
<circle cx="238.5" cy="51.0" r="3.55"/>
<circle cx="496.2" cy="59.0" r="3.55"/>
<circle cx="113.6" cy="333.3" r="3.55"/>
<circle cx="433.1" cy="50.1" r="3.55"/>
<circle cx="431.5" cy="331.8" r="3.55"/>
<circle cx="203.8" cy="47.9" r="3.55"/>
<circle cx="536.4" cy="67.9" r="3.55"/>
<circle cx="415.0" cy="48.0" r="3.55"/>
<circle cx="212.9" cy="338.6" r="3.55"/>
<circle cx="525.6" cy="46.2" r="3.55"/>
<circle cx="203.5" cy="338.5" r="3.55"/>
<circle cx="505.5" cy="95.7" r="3.55"/>
<circle cx="284.8" cy="334.1" r="3.55"/>
<circle cx="284.9" cy="50.5" r="3.55"/>
<circle cx="378.5" cy="336.9" r="3.55"/>
<circle cx="234.7" cy="57.6" r="3.55"/>
<circle cx="271.7" cy="336.6" r="3.55"/>
<circle cx="401.3" cy="51.0" r="3.55"/>
<circle cx="95.2" cy="325.3" r="3.55"/>
<circle cx="215.9" cy="48.2" r="3.55"/>
<circle cx="483.6" cy="42.6" r="3.55"/>
<circle cx="396.4" cy="336.4" r="3.55"/>
<circle cx="173.5" cy="342.9" r="3.55"/>
<circle cx="150.7" cy="335.3" r="3.55"/>
<circle cx="219.9" cy="47.8" r="3.55"/>
<circle cx="394.3" cy="49.5" r="3.55"/>
<circle cx="191.1" cy="110.6" r="3.55"/>
<circle cx="257.6" cy="54.9" r="3.55"/>
<circle cx="266.7" cy="49.5" r="3.55"/>
<circle cx="257.5" cy="55.9" r="3.55"/>
<circle cx="423.6" cy="334.7" r="3.55"/>
<circle cx="406.3" cy="334.3" r="3.55"/>
<circle cx="432.8" cy="49.7" r="3.55"/>
<circle cx="382.4" cy="337.3" r="3.55"/>
<circle cx="145.2" cy="345.2" r="3.55"/>
<circle cx="294.8" cy="52.8" r="3.55"/>
<circle cx="439.8" cy="46.8" r="3.55"/>
<circle cx="231.2" cy="336.3" r="3.55"/>
<circle cx="263.1" cy="50.2" r="3.55"/>
<circle cx="358.9" cy="53.4" r="3.55"/>
<circle cx="490.5" cy="47.4" r="3.55"/>
<circle cx="147.8" cy="297.7" r="3.55"/>
<circle cx="216.9" cy="54.0" r="3.55"/>
<circle cx="367.3" cy="336.4" r="3.55"/>
<circle cx="308.0" cy="52.0" r="3.55"/>
<circle cx="242.9" cy="48.9" r="3.55"/>
<circle cx="230.5" cy="55.3" r="3.55"/>
<circle cx="250.1" cy="338.1" r="3.55"/>
<circle cx="452.0" cy="49.8" r="3.55"/>
<circle cx="320.3" cy="51.9" r="3.55"/>
<circle cx="226.0" cy="148.7" r="3.55"/>
<circle cx="440.9" cy="314.5" r="3.55"/>
<circle cx="271.3" cy="53.9" r="3.55"/>
<circle cx="224.7" cy="51.1" r="3.55"/>
<circle cx="232.3" cy="339.5" r="3.55"/>
<circle cx="231.5" cy="340.0" r="3.55"/>
<circle cx="403.1" cy="49.2" r="3.55"/>
<circle cx="173.8" cy="102.3" r="3.55"/>
<circle cx="196.3" cy="62.7" r="3.55"/>
<circle cx="242.8" cy="49.3" r="3.55"/>
<circle cx="481.8" cy="43.2" r="3.55"/>
<circle cx="310.0" cy="53.5" r="3.55"/>
<circle cx="180.7" cy="89.5" r="3.55"/>
<circle cx="247.7" cy="57.3" r="3.55"/>
<circle cx="153.3" cy="322.6" r="3.55"/>
<circle cx="215.3" cy="51.6" r="3.55"/>
<circle cx="547.1" cy="51.6" r="3.55"/>
<circle cx="209.0" cy="47.7" r="3.55"/>
<circle cx="513.2" cy="82.0" r="3.55"/>
<circle cx="242.7" cy="50.3" r="3.55"/>
<circle cx="496.9" cy="41.9" r="3.55"/>
<circle cx="499.8" cy="44.0" r="3.55"/>
<circle cx="512.5" cy="58.6" r="3.55"/>
<circle cx="481.1" cy="45.4" r="3.55"/>
<circle cx="102.1" cy="339.5" r="3.55"/>
<circle cx="494.6" cy="43.7" r="3.55"/>
<circle cx="435.8" cy="46.7" r="3.55"/>
<circle cx="120.3" cy="318.5" r="3.55"/>
<circle cx="383.6" cy="52.7" r="3.55"/>
<circle cx="210.7" cy="132.1" r="3.55"/>
<circle cx="352.6" cy="336.0" r="3.55"/>
<circle cx="206.5" cy="134.6" r="3.55"/>
<circle cx="160.7" cy="344.6" r="3.55"/>
<circle cx="201.1" cy="54.9" r="3.55"/>
<circle cx="246.9" cy="53.3" r="3.55"/>
<circle cx="467.6" cy="44.3" r="3.55"/>
<circle cx="483.3" cy="44.6" r="3.55"/>
<circle cx="393.8" cy="337.7" r="3.55"/>
<circle cx="130.3" cy="345.7" r="3.55"/>
<circle cx="153.0" cy="303.1" r="3.55"/>
<circle cx="499.4" cy="306.8" r="3.55"/>
<circle cx="259.9" cy="338.0" r="3.55"/>
<circle cx="216.5" cy="340.1" r="3.55"/>
<circle cx="179.7" cy="104.4" r="3.55"/>
<circle cx="361.0" cy="51.4" r="3.55"/>
<circle cx="468.8" cy="43.9" r="3.55"/>
<circle cx="175.6" cy="342.8" r="3.55"/>
<circle cx="358.7" cy="51.6" r="3.55"/>
<circle cx="381.4" cy="52.0" r="3.55"/>
<circle cx="170.7" cy="343.6" r="3.55"/>
<circle cx="350.5" cy="333.7" r="3.55"/>
<circle cx="411.5" cy="338.7" r="3.55"/>
<circle cx="418.4" cy="47.3" r="3.55"/>
<circle cx="374.1" cy="332.7" r="3.55"/>
<circle cx="219.5" cy="47.7" r="3.55"/>
<circle cx="472.4" cy="315.1" r="3.55"/>
<circle cx="217.9" cy="49.3" r="3.55"/>
<circle cx="170.3" cy="49.4" r="3.55"/>
<circle cx="196.1" cy="340.2" r="3.55"/>
<circle cx="448.4" cy="332.3" r="3.55"/>
<circle cx="303.5" cy="335.7" r="3.55"/>
<circle cx="414.4" cy="339.2" r="3.55"/>
<circle cx="358.6" cy="51.5" r="3.55"/>
<circle cx="321.3" cy="335.3" r="3.55"/>
<circle cx="228.7" cy="49.0" r="3.55"/>
<circle cx="244.7" cy="48.9" r="3.55"/>
<circle cx="152.0" cy="64.4" r="3.55"/>
<circle cx="427.7" cy="339.0" r="3.55"/>
<circle cx="267.0" cy="49.9" r="3.55"/>
<circle cx="307.9" cy="335.5" r="3.55"/>
<circle cx="168.3" cy="89.1" r="3.55"/>
<circle cx="107.0" cy="306.5" r="3.55"/>
<circle cx="493.8" cy="88.0" r="3.55"/>
<circle cx="405.5" cy="334.0" r="3.55"/>
<circle cx="157.5" cy="332.2" r="3.55"/>
<circle cx="186.0" cy="77.3" r="3.55"/>
<circle cx="440.5" cy="45.8" r="3.55"/>
<circle cx="383.6" cy="52.2" r="3.55"/>
<circle cx="277.7" cy="50.4" r="3.55"/>
<circle cx="421.1" cy="339.2" r="3.55"/>
<circle cx="505.3" cy="57.7" r="3.55"/>
<circle cx="274.3" cy="53.8" r="3.55"/>
<circle cx="175.1" cy="340.4" r="3.55"/>
<circle cx="243.6" cy="51.1" r="3.55"/>
<circle cx="502.9" cy="319.0" r="3.55"/>
<circle cx="169.3" cy="343.5" r="3.55"/>
<circle cx="264.2" cy="49.4" r="3.55"/>
<circle cx="142.5" cy="315.5" r="3.55"/>
<circle cx="246.0" cy="336.3" r="3.55"/>
<circle cx="207.8" cy="52.3" r="3.55"/>
<circle cx="358.5" cy="51.0" r="3.55"/>
<circle cx="438.3" cy="333.3" r="3.55"/>
<circle cx="371.7" cy="333.8" r="3.55"/>
<circle cx="471.2" cy="48.6" r="3.55"/>
<circle cx="519.1" cy="67.9" r="3.55"/>
<circle cx="212.2" cy="56.5" r="3.55"/>
<circle cx="463.0" cy="49.4" r="3.55"/>
<circle cx="304.6" cy="334.4" r="3.55"/>
<circle cx="221.8" cy="49.0" r="3.55"/>
<circle cx="246.8" cy="49.5" r="3.55"/>
<circle cx="366.7" cy="51.1" r="3.55"/>
<circle cx="245.2" cy="51.4" r="3.55"/>
<circle cx="126.1" cy="299.9" r="3.55"/>
<circle cx="396.9" cy="49.4" r="3.55"/>
<circle cx="520.6" cy="51.5" r="3.55"/>
<circle cx="237.1" cy="336.9" r="3.55"/>
<circle cx="265.8" cy="49.8" r="3.55"/>
<circle cx="155.6" cy="294.0" r="3.55"/>
<circle cx="474.9" cy="290.2" r="3.55"/>
<circle cx="391.3" cy="333.8" r="3.55"/>
<circle cx="348.1" cy="333.4" r="3.55"/>
<circle cx="523.5" cy="48.5" r="3.55"/>
<circle cx="149.8" cy="323.3" r="3.55"/>
<circle cx="204.3" cy="54.7" r="3.55"/>
<circle cx="389.9" cy="49.8" r="3.55"/>
<circle cx="344.7" cy="54.0" r="3.55"/>
<circle cx="423.3" cy="46.9" r="3.55"/>
<circle cx="218.4" cy="48.6" r="3.55"/>
<circle cx="451.1" cy="338.0" r="3.55"/>
<circle cx="372.2" cy="50.6" r="3.55"/>
<circle cx="352.0" cy="336.3" r="3.55"/>
<circle cx="424.3" cy="47.7" r="3.55"/>
<circle cx="503.8" cy="49.4" r="3.55"/>
<circle cx="547.0" cy="64.2" r="3.55"/>
<circle cx="222.0" cy="52.4" r="3.55"/>
<circle cx="114.2" cy="345.8" r="3.55"/>
<circle cx="124.7" cy="291.1" r="3.55"/>
<circle cx="494.5" cy="284.5" r="3.55"/>
<circle cx="390.5" cy="332.9" r="3.55"/>
<circle cx="423.8" cy="338.6" r="3.55"/>
<circle cx="404.2" cy="51.3" r="3.55"/>
<circle cx="284.9" cy="336.1" r="3.55"/>
<circle cx="241.4" cy="338.6" r="3.55"/>
<circle cx="296.1" cy="336.3" r="3.55"/>
<circle cx="272.1" cy="335.0" r="3.55"/>
<circle cx="306.9" cy="336.0" r="3.55"/>
<circle cx="426.7" cy="331.8" r="3.55"/>
<circle cx="215.0" cy="54.4" r="3.55"/>
<circle cx="238.1" cy="339.0" r="3.55"/>
<circle cx="368.7" cy="336.6" r="3.55"/>
<circle cx="504.7" cy="107.4" r="3.55"/>
<circle cx="266.2" cy="337.0" r="3.55"/>
<circle cx="177.7" cy="103.4" r="3.55"/>
<circle cx="425.0" cy="339.5" r="3.55"/>
<circle cx="446.9" cy="45.3" r="3.55"/>
<circle cx="101.9" cy="324.6" r="3.55"/>
<circle cx="203.4" cy="341.2" r="3.55"/>
<circle cx="225.5" cy="339.9" r="3.55"/>
<circle cx="230.0" cy="58.1" r="3.55"/>
<circle cx="386.0" cy="49.6" r="3.55"/>
<circle cx="96.1" cy="335.3" r="3.55"/>
<circle cx="508.1" cy="40.9" r="3.55"/>
<circle cx="276.2" cy="50.0" r="3.55"/>
<circle cx="185.9" cy="340.3" r="3.55"/>
<circle cx="139.5" cy="317.0" r="3.55"/>
<circle cx="402.8" cy="331.7" r="3.55"/>
<circle cx="131.3" cy="340.2" r="3.55"/>
<circle cx="227.8" cy="51.4" r="3.55"/>
<circle cx="308.8" cy="335.2" r="3.55"/>
<circle cx="357.2" cy="333.4" r="3.55"/>
<circle cx="246.4" cy="48.9" r="3.55"/>
<circle cx="230.6" cy="339.8" r="3.55"/>
<circle cx="213.3" cy="53.1" r="3.55"/>
<circle cx="229.2" cy="339.8" r="3.55"/>
<circle cx="451.2" cy="330.1" r="3.55"/>
<circle cx="484.5" cy="42.8" r="3.55"/>
<circle cx="368.2" cy="53.6" r="3.55"/>
<circle cx="459.8" cy="44.8" r="3.55"/>
<circle cx="455.7" cy="335.0" r="3.55"/>
<circle cx="182.7" cy="336.9" r="3.55"/>
<circle cx="194.5" cy="340.7" r="3.55"/>
<circle cx="327.0" cy="51.6" r="3.55"/>
<circle cx="313.3" cy="335.9" r="3.55"/>
<circle cx="203.2" cy="48.3" r="3.55"/>
<circle cx="265.5" cy="335.9" r="3.55"/>
<circle cx="219.0" cy="48.0" r="3.55"/>
<circle cx="348.7" cy="51.6" r="3.55"/>
<circle cx="137.8" cy="338.6" r="3.55"/>
<circle cx="248.9" cy="334.8" r="3.55"/>
<circle cx="207.8" cy="51.3" r="3.55"/>
<circle cx="412.1" cy="337.7" r="3.55"/>
<circle cx="365.3" cy="50.7" r="3.55"/>
<circle cx="276.3" cy="52.6" r="3.55"/>
<circle cx="318.9" cy="51.7" r="3.55"/>
<circle cx="201.7" cy="47.6" r="3.55"/>
<circle cx="251.4" cy="338.2" r="3.55"/>
<circle cx="116.6" cy="302.8" r="3.55"/>
<circle cx="221.9" cy="143.2" r="3.55"/>
<circle cx="193.5" cy="338.6" r="3.55"/>
<circle cx="196.8" cy="341.6" r="3.55"/>
<circle cx="387.2" cy="50.8" r="3.55"/>
<circle cx="439.7" cy="48.5" r="3.55"/>
<circle cx="232.5" cy="55.4" r="3.55"/>
<circle cx="164.2" cy="57.6" r="3.55"/>
<circle cx="274.4" cy="51.0" r="3.55"/>
<circle cx="454.3" cy="331.8" r="3.55"/>
<circle cx="271.6" cy="49.7" r="3.55"/>
<circle cx="330.3" cy="52.0" r="3.55"/>
<circle cx="450.0" cy="332.7" r="3.55"/>
<circle cx="412.3" cy="338.7" r="3.55"/>
<circle cx="105.6" cy="341.5" r="3.55"/>
<circle cx="207.9" cy="48.2" r="3.55"/>
<circle cx="443.9" cy="339.1" r="3.55"/>
<circle cx="207.2" cy="103.8" r="3.55"/>
<circle cx="435.0" cy="336.4" r="3.55"/>
<circle cx="144.5" cy="326.1" r="3.55"/>
<circle cx="276.0" cy="52.6" r="3.55"/>
<circle cx="206.4" cy="134.8" r="3.55"/>
<circle cx="435.4" cy="339.4" r="3.55"/>
<circle cx="457.8" cy="315.9" r="3.55"/>
<circle cx="119.5" cy="313.9" r="3.55"/>
<circle cx="475.7" cy="289.1" r="3.55"/>
<circle cx="506.5" cy="41.3" r="3.55"/>
<circle cx="376.0" cy="332.5" r="3.55"/>
<circle cx="387.6" cy="49.5" r="3.55"/>
<circle cx="211.1" cy="49.2" r="3.55"/>
<circle cx="446.7" cy="335.5" r="3.55"/>
<circle cx="434.4" cy="337.7" r="3.55"/>
<circle cx="418.7" cy="47.5" r="3.55"/>
<circle cx="499.1" cy="316.0" r="3.55"/>
<circle cx="415.7" cy="334.2" r="3.55"/>
<circle cx="198.3" cy="94.0" r="3.55"/>
<circle cx="498.1" cy="47.5" r="3.55"/>
<circle cx="449.5" cy="45.2" r="3.55"/>
<circle cx="336.4" cy="335.9" r="3.55"/>
<circle cx="496.8" cy="294.0" r="3.55"/>
<circle cx="495.3" cy="64.3" r="3.55"/>
<circle cx="356.9" cy="51.7" r="3.55"/>
<circle cx="252.9" cy="334.2" r="3.55"/>
<circle cx="563.8" cy="60.1" r="3.55"/>
<circle cx="179.3" cy="119.6" r="3.55"/>
<circle cx="291.4" cy="335.6" r="3.55"/>
<circle cx="411.2" cy="338.4" r="3.55"/>
<circle cx="447.2" cy="49.4" r="3.55"/>
<circle cx="550.9" cy="52.0" r="3.55"/>
<circle cx="184.6" cy="342.2" r="3.55"/>
<circle cx="269.1" cy="49.9" r="3.55"/>
<circle cx="425.5" cy="49.0" r="3.55"/>
<circle cx="552.4" cy="39.9" r="3.55"/>
<circle cx="502.4" cy="313.7" r="3.55"/>
<circle cx="374.8" cy="50.3" r="3.55"/>
<circle cx="484.5" cy="43.9" r="3.55"/>
<circle cx="166.9" cy="97.0" r="3.55"/>
<circle cx="401.5" cy="338.1" r="3.55"/>
<circle cx="426.1" cy="339.5" r="3.55"/>
<circle cx="119.5" cy="345.2" r="3.55"/>
<circle cx="201.2" cy="55.7" r="3.55"/>
<circle cx="259.9" cy="55.4" r="3.55"/>
<circle cx="557.2" cy="60.0" r="3.55"/>
<circle cx="224.9" cy="59.1" r="3.55"/>
<circle cx="355.0" cy="336.0" r="3.55"/>
<circle cx="164.5" cy="93.9" r="3.55"/>
<circle cx="297.2" cy="336.0" r="3.55"/>
<circle cx="265.0" cy="337.7" r="3.55"/>
<circle cx="224.2" cy="336.3" r="3.55"/>
<circle cx="495.5" cy="313.3" r="3.55"/>
<circle cx="376.2" cy="50.5" r="3.55"/>
<circle cx="493.7" cy="43.6" r="3.55"/>
<circle cx="327.5" cy="51.7" r="3.55"/>
<circle cx="409.6" cy="48.5" r="3.55"/>
<circle cx="208.9" cy="337.1" r="3.55"/>
<circle cx="209.1" cy="129.7" r="3.55"/>
<circle cx="98.0" cy="312.8" r="3.55"/>
<circle cx="174.2" cy="341.7" r="3.55"/>
<circle cx="438.0" cy="339.6" r="3.55"/>
<circle cx="131.1" cy="318.2" r="3.55"/>
<circle cx="472.4" cy="48.0" r="3.55"/>
<circle cx="181.8" cy="58.6" r="3.55"/>
<circle cx="493.8" cy="41.9" r="3.55"/>
<circle cx="448.9" cy="339.1" r="3.55"/>
<circle cx="205.2" cy="123.3" r="3.55"/>
<circle cx="424.6" cy="333.5" r="3.55"/>
<circle cx="380.4" cy="49.6" r="3.55"/>
<circle cx="501.9" cy="83.5" r="3.55"/>
<circle cx="434.0" cy="339.6" r="3.55"/>
<circle cx="430.5" cy="339.7" r="3.55"/>
<circle cx="165.1" cy="339.5" r="3.55"/>
<circle cx="278.9" cy="334.4" r="3.55"/>
<circle cx="233.4" cy="49.1" r="3.55"/>
<circle cx="147.3" cy="329.9" r="3.55"/>
<circle cx="453.1" cy="284.1" r="3.55"/>
<circle cx="221.8" cy="50.6" r="3.55"/>
<circle cx="383.2" cy="49.6" r="3.55"/>
<circle cx="306.1" cy="333.8" r="3.55"/>
<circle cx="419.8" cy="47.4" r="3.55"/>
<circle cx="216.1" cy="47.9" r="3.55"/>
<circle cx="236.2" cy="337.5" r="3.55"/>
<circle cx="176.5" cy="94.2" r="3.55"/>
<circle cx="119.6" cy="337.9" r="3.55"/>
<circle cx="237.6" cy="48.9" r="3.55"/>
<circle cx="280.3" cy="50.1" r="3.55"/>
<circle cx="237.7" cy="48.8" r="3.55"/>
<circle cx="537.8" cy="62.5" r="3.55"/>
<circle cx="393.9" cy="49.5" r="3.55"/>
<circle cx="497.1" cy="41.5" r="3.55"/>
<circle cx="513.0" cy="92.8" r="3.55"/>
<circle cx="183.8" cy="340.1" r="3.55"/>
<circle cx="276.1" cy="52.6" r="3.55"/>
<circle cx="485.1" cy="46.9" r="3.55"/>
<circle cx="207.5" cy="55.9" r="3.55"/>
<circle cx="227.5" cy="55.5" r="3.55"/>
<circle cx="175.8" cy="56.4" r="3.55"/>
<circle cx="460.2" cy="283.5" r="3.55"/>
<circle cx="192.6" cy="338.6" r="3.55"/>
<circle cx="171.8" cy="343.2" r="3.55"/>
<circle cx="262.9" cy="54.1" r="3.55"/>
<circle cx="220.2" cy="130.7" r="3.55"/>
<circle cx="293.1" cy="53.4" r="3.55"/>
<circle cx="295.9" cy="50.7" r="3.55"/>
<circle cx="110.2" cy="302.6" r="3.55"/>
<circle cx="370.6" cy="333.4" r="3.55"/>
<circle cx="271.4" cy="334.0" r="3.55"/>
<circle cx="174.8" cy="98.0" r="3.55"/>
<circle cx="411.6" cy="47.8" r="3.55"/>
<circle cx="427.3" cy="330.8" r="3.55"/>
<circle cx="226.0" cy="55.0" r="3.55"/>
<circle cx="432.5" cy="47.2" r="3.55"/>
<circle cx="160.4" cy="344.6" r="3.55"/>
<circle cx="292.9" cy="50.6" r="3.55"/>
<circle cx="175.2" cy="108.0" r="3.55"/>
<circle cx="160.4" cy="343.8" r="3.55"/>
<circle cx="541.3" cy="40.1" r="3.55"/>
<circle cx="235.2" cy="48.5" r="3.55"/>
<circle cx="170.3" cy="341.7" r="3.55"/>
<circle cx="355.8" cy="51.1" r="3.55"/>
<circle cx="190.9" cy="83.9" r="3.55"/>
<circle cx="303.6" cy="335.9" r="3.55"/>
<circle cx="247.3" cy="337.0" r="3.55"/>
<circle cx="272.3" cy="336.8" r="3.55"/>
<circle cx="422.1" cy="332.9" r="3.55"/>
<circle cx="310.7" cy="51.1" r="3.55"/>
<circle cx="359.6" cy="51.6" r="3.55"/>
<circle cx="432.3" cy="46.5" r="3.55"/>
<circle cx="378.4" cy="51.7" r="3.55"/>
<circle cx="176.3" cy="342.8" r="3.55"/>
<circle cx="399.0" cy="338.1" r="3.55"/>
<circle cx="411.3" cy="338.3" r="3.55"/>
<circle cx="224.1" cy="58.4" r="3.55"/>
<circle cx="397.0" cy="335.1" r="3.55"/>
<circle cx="440.9" cy="324.5" r="3.55"/>
<circle cx="182.7" cy="75.7" r="3.55"/>
<circle cx="497.3" cy="90.0" r="3.55"/>
<circle cx="502.1" cy="107.3" r="3.55"/>
<circle cx="447.0" cy="338.9" r="3.55"/>
<circle cx="149.6" cy="293.8" r="3.55"/>
<circle cx="300.5" cy="334.1" r="3.55"/>
<circle cx="421.2" cy="339.2" r="3.55"/>
<circle cx="472.6" cy="324.8" r="3.55"/>
<circle cx="368.3" cy="51.0" r="3.55"/>
<circle cx="231.2" cy="335.8" r="3.55"/>
<circle cx="481.9" cy="308.6" r="3.55"/>
<circle cx="161.1" cy="87.0" r="3.55"/>
<circle cx="210.9" cy="47.9" r="3.55"/>
<circle cx="355.6" cy="51.9" r="3.55"/>
<circle cx="389.2" cy="49.4" r="3.55"/>
<circle cx="441.3" cy="339.0" r="3.55"/>
<circle cx="475.5" cy="46.1" r="3.55"/>
<circle cx="554.1" cy="55.2" r="3.55"/>
<circle cx="424.1" cy="48.9" r="3.55"/>
<circle cx="431.3" cy="323.6" r="3.55"/>
<circle cx="384.3" cy="335.3" r="3.55"/>
<circle cx="124.9" cy="314.3" r="3.55"/>
<circle cx="432.8" cy="46.7" r="3.55"/>
<circle cx="451.0" cy="328.3" r="3.55"/>
<circle cx="231.8" cy="339.7" r="3.55"/>
<circle cx="281.0" cy="50.3" r="3.55"/>
<circle cx="138.9" cy="323.3" r="3.55"/>
<circle cx="128.5" cy="345.6" r="3.55"/>
<circle cx="484.8" cy="332.4" r="3.55"/>
<circle cx="449.8" cy="273.5" r="3.55"/>
<circle cx="469.7" cy="45.2" r="3.55"/>
<circle cx="317.3" cy="51.3" r="3.55"/>
<circle cx="244.3" cy="49.3" r="3.55"/>
<circle cx="444.7" cy="268.0" r="3.55"/>
<circle cx="267.9" cy="49.6" r="3.55"/>
<circle cx="301.3" cy="51.3" r="3.55"/>
<circle cx="519.7" cy="59.8" r="3.55"/>
<circle cx="403.0" cy="52.3" r="3.55"/>
<circle cx="537.5" cy="45.3" r="3.55"/>
<circle cx="182.4" cy="115.0" r="3.55"/>
<circle cx="362.6" cy="336.5" r="3.55"/>
<circle cx="299.2" cy="51.2" r="3.55"/>
<circle cx="256.3" cy="49.6" r="3.55"/>
<circle cx="252.6" cy="337.9" r="3.55"/>
<circle cx="247.9" cy="338.6" r="3.55"/>
<circle cx="187.4" cy="104.0" r="3.55"/>
<circle cx="487.1" cy="42.3" r="3.55"/>
<circle cx="325.5" cy="335.5" r="3.55"/>
<circle cx="498.5" cy="317.9" r="3.55"/>
<circle cx="92.6" cy="324.3" r="3.55"/>
<circle cx="503.5" cy="87.7" r="3.55"/>
<circle cx="289.8" cy="51.1" r="3.55"/>
<circle cx="437.3" cy="339.3" r="3.55"/>
<circle cx="201.6" cy="125.8" r="3.55"/>
<circle cx="126.0" cy="297.4" r="3.55"/>
<circle cx="202.7" cy="50.8" r="3.55"/>
<circle cx="404.1" cy="335.2" r="3.55"/>
<circle cx="130.5" cy="304.1" r="3.55"/>
<circle cx="451.7" cy="319.7" r="3.55"/>
<circle cx="161.1" cy="69.2" r="3.55"/>
<circle cx="507.3" cy="106.3" r="3.55"/>
<circle cx="295.0" cy="50.8" r="3.55"/>
<circle cx="222.0" cy="340.3" r="3.55"/>
<circle cx="420.7" cy="47.3" r="3.55"/>
<circle cx="204.9" cy="47.8" r="3.55"/>
<circle cx="116.3" cy="342.6" r="3.55"/>
<circle cx="506.2" cy="321.0" r="3.55"/>
<circle cx="457.4" cy="337.1" r="3.55"/>
<circle cx="465.6" cy="44.5" r="3.55"/>
<circle cx="481.2" cy="47.0" r="3.55"/>
<circle cx="224.2" cy="50.0" r="3.55"/>
<circle cx="166.0" cy="339.8" r="3.55"/>
<circle cx="431.5" cy="46.9" r="3.55"/>
<circle cx="459.6" cy="276.0" r="3.55"/>
<circle cx="442.4" cy="339.5" r="3.55"/>
<circle cx="378.2" cy="337.3" r="3.55"/>
<circle cx="395.6" cy="51.0" r="3.55"/>
<circle cx="443.4" cy="338.9" r="3.55"/>
<circle cx="529.2" cy="82.2" r="3.55"/>
<circle cx="522.3" cy="90.2" r="3.55"/>
<circle cx="486.3" cy="42.7" r="3.55"/>
<circle cx="209.2" cy="55.9" r="3.55"/>
<circle cx="226.5" cy="59.6" r="3.55"/>
<circle cx="246.4" cy="338.4" r="3.55"/>
<circle cx="400.5" cy="335.3" r="3.55"/>
<circle cx="533.2" cy="40.6" r="3.55"/>
<circle cx="314.9" cy="335.8" r="3.55"/>
<circle cx="128.3" cy="327.6" r="3.55"/>
<circle cx="207.2" cy="336.5" r="3.55"/>
<circle cx="195.5" cy="341.3" r="3.55"/>
<circle cx="419.0" cy="51.5" r="3.55"/>
<circle cx="451.7" cy="337.0" r="3.55"/>
<circle cx="97.3" cy="323.9" r="3.55"/>
<circle cx="376.0" cy="50.1" r="3.55"/>
<circle cx="186.9" cy="341.9" r="3.55"/>
<circle cx="431.5" cy="46.6" r="3.55"/>
<circle cx="440.8" cy="333.7" r="3.55"/>
<circle cx="184.0" cy="81.9" r="3.55"/>
<circle cx="210.5" cy="53.9" r="3.55"/>
<circle cx="356.9" cy="51.3" r="3.55"/>
<circle cx="240.0" cy="335.5" r="3.55"/>
<circle cx="327.3" cy="335.6" r="3.55"/>
<circle cx="486.6" cy="290.9" r="3.55"/>
<circle cx="169.0" cy="343.2" r="3.55"/>
<circle cx="514.5" cy="48.9" r="3.55"/>
<circle cx="160.4" cy="344.7" r="3.55"/>
<circle cx="226.1" cy="339.2" r="3.55"/>
<circle cx="221.6" cy="48.1" r="3.55"/>
<circle cx="554.7" cy="74.1" r="3.55"/>
<circle cx="321.9" cy="335.0" r="3.55"/>
<circle cx="392.7" cy="49.3" r="3.55"/>
<circle cx="352.6" cy="336.1" r="3.55"/>
<circle cx="227.6" cy="57.9" r="3.55"/>
<circle cx="500.1" cy="323.3" r="3.55"/>
<circle cx="499.4" cy="80.7" r="3.55"/>
<circle cx="263.9" cy="336.5" r="3.55"/>
<circle cx="141.2" cy="345.3" r="3.55"/>
<circle cx="486.4" cy="46.2" r="3.55"/>
<circle cx="183.9" cy="50.3" r="3.55"/>
<circle cx="304.9" cy="52.3" r="3.55"/>
<circle cx="105.3" cy="338.9" r="3.55"/>
<circle cx="232.9" cy="337.9" r="3.55"/>
<circle cx="225.3" cy="135.6" r="3.55"/>
<circle cx="310.7" cy="51.5" r="3.55"/>
<circle cx="279.8" cy="54.4" r="3.55"/>
<circle cx="220.9" cy="339.3" r="3.55"/>
<circle cx="492.5" cy="48.9" r="3.55"/>
<circle cx="463.0" cy="309.6" r="3.55"/>
<circle cx="266.4" cy="336.0" r="3.55"/>
<circle cx="209.0" cy="57.1" r="3.55"/>
<circle cx="274.0" cy="49.8" r="3.55"/>
<circle cx="237.4" cy="338.6" r="3.55"/>
<circle cx="268.0" cy="51.4" r="3.55"/>
<circle cx="349.5" cy="51.4" r="3.55"/>
<circle cx="495.0" cy="41.8" r="3.55"/>
<circle cx="254.0" cy="333.8" r="3.55"/>
<circle cx="178.6" cy="338.4" r="3.55"/>
<circle cx="346.2" cy="52.4" r="3.55"/>
<circle cx="335.4" cy="51.5" r="3.55"/>
<circle cx="310.0" cy="52.0" r="3.55"/>
<circle cx="452.2" cy="331.6" r="3.55"/>
<circle cx="485.3" cy="276.4" r="3.55"/>
<circle cx="158.7" cy="344.6" r="3.55"/>
<circle cx="496.7" cy="47.9" r="3.55"/>
<circle cx="206.3" cy="57.2" r="3.55"/>
<circle cx="405.8" cy="338.6" r="3.55"/>
<circle cx="152.8" cy="343.4" r="3.55"/>
<circle cx="159.6" cy="331.1" r="3.55"/>
<circle cx="240.1" cy="337.2" r="3.55"/>
<circle cx="167.4" cy="90.5" r="3.55"/>
<circle cx="408.8" cy="331.3" r="3.55"/>
<circle cx="444.0" cy="46.1" r="3.55"/>
<circle cx="172.3" cy="339.6" r="3.55"/>
<circle cx="364.0" cy="336.7" r="3.55"/>
<circle cx="308.5" cy="335.3" r="3.55"/>
<circle cx="412.1" cy="49.2" r="3.55"/>
<circle cx="328.9" cy="335.9" r="3.55"/>
<circle cx="439.2" cy="319.1" r="3.55"/>
<circle cx="459.5" cy="270.7" r="3.55"/>
<circle cx="161.8" cy="337.6" r="3.55"/>
<circle cx="448.1" cy="47.1" r="3.55"/>
<circle cx="370.7" cy="336.5" r="3.55"/>
<circle cx="257.5" cy="53.9" r="3.55"/>
<circle cx="373.5" cy="333.6" r="3.55"/>
<circle cx="146.4" cy="345.5" r="3.55"/>
<circle cx="344.1" cy="52.5" r="3.55"/>
<circle cx="157.7" cy="88.0" r="3.55"/>
<circle cx="134.1" cy="300.4" r="3.55"/>
<circle cx="528.7" cy="75.8" r="3.55"/>
<circle cx="359.2" cy="336.3" r="3.55"/>
<circle cx="556.2" cy="43.4" r="3.55"/>
<circle cx="502.1" cy="70.5" r="3.55"/>
<circle cx="354.0" cy="51.4" r="3.55"/>
<circle cx="325.7" cy="335.5" r="3.55"/>
<circle cx="501.8" cy="66.9" r="3.55"/>
<circle cx="414.2" cy="47.7" r="3.55"/>
<circle cx="440.7" cy="328.2" r="3.55"/>
<circle cx="255.0" cy="338.3" r="3.55"/>
<circle cx="161.2" cy="282.6" r="3.55"/>
<circle cx="327.4" cy="335.7" r="3.55"/>
<circle cx="316.9" cy="335.4" r="3.55"/>
<circle cx="491.5" cy="47.0" r="3.55"/>
<circle cx="279.9" cy="50.0" r="3.55"/>
<circle cx="256.4" cy="53.7" r="3.55"/>
<circle cx="229.9" cy="48.5" r="3.55"/>
<circle cx="461.3" cy="267.7" r="3.55"/>
<circle cx="284.5" cy="336.3" r="3.55"/>
<circle cx="220.8" cy="136.7" r="3.55"/>
<circle cx="385.3" cy="52.9" r="3.55"/>
<circle cx="496.1" cy="308.9" r="3.55"/>
<circle cx="298.4" cy="51.0" r="3.55"/>
<circle cx="428.8" cy="336.9" r="3.55"/>
<circle cx="330.6" cy="335.5" r="3.55"/>
<circle cx="301.1" cy="53.5" r="3.55"/>
<circle cx="456.7" cy="45.9" r="3.55"/>
<circle cx="372.5" cy="332.9" r="3.55"/>
<circle cx="309.6" cy="51.4" r="3.55"/>
<circle cx="174.1" cy="343.2" r="3.55"/>
<circle cx="231.1" cy="49.6" r="3.55"/>
<circle cx="157.9" cy="93.4" r="3.55"/>
<circle cx="568.0" cy="59.6" r="3.55"/>
<circle cx="206.0" cy="59.6" r="3.55"/>
<circle cx="448.4" cy="45.2" r="3.55"/>
<circle cx="180.0" cy="345.8" r="3.55"/>
<circle cx="294.9" cy="334.7" r="3.55"/>
<circle cx="243.3" cy="52.1" r="3.55"/>
<circle cx="234.2" cy="339.3" r="3.55"/>
<circle cx="231.5" cy="58.7" r="3.55"/>
<circle cx="430.4" cy="336.2" r="3.55"/>
<circle cx="414.5" cy="338.9" r="3.55"/>
<circle cx="159.9" cy="71.2" r="3.55"/>
<circle cx="523.9" cy="61.6" r="3.55"/>
<circle cx="244.1" cy="49.0" r="3.55"/>
<circle cx="553.0" cy="60.6" r="3.55"/>
<circle cx="97.6" cy="339.2" r="3.55"/>
<circle cx="342.1" cy="335.6" r="3.55"/>
<circle cx="188.2" cy="342.0" r="3.55"/>
<circle cx="453.6" cy="44.8" r="3.55"/>
<circle cx="495.2" cy="69.9" r="3.55"/>
<circle cx="205.2" cy="83.4" r="3.55"/>
<circle cx="312.6" cy="335.8" r="3.55"/>
<circle cx="289.4" cy="335.3" r="3.55"/>
<circle cx="457.2" cy="338.4" r="3.55"/>
<circle cx="162.9" cy="340.7" r="3.55"/>
<circle cx="197.1" cy="336.8" r="3.55"/>
<circle cx="315.9" cy="51.3" r="3.55"/>
<circle cx="419.7" cy="338.9" r="3.55"/>
<circle cx="406.0" cy="331.4" r="3.55"/>
<circle cx="195.8" cy="56.1" r="3.55"/>
<circle cx="285.4" cy="335.9" r="3.55"/>
<circle cx="474.5" cy="326.8" r="3.55"/>
<circle cx="264.5" cy="49.7" r="3.55"/>
<circle cx="180.5" cy="339.6" r="3.55"/>
<circle cx="175.9" cy="343.3" r="3.55"/>
<circle cx="104.2" cy="313.0" r="3.55"/>
<circle cx="491.5" cy="46.3" r="3.55"/>
<circle cx="222.4" cy="58.0" r="3.55"/>
<circle cx="257.6" cy="49.2" r="3.55"/>
<circle cx="218.0" cy="50.3" r="3.55"/>
<circle cx="408.9" cy="338.8" r="3.55"/>
<circle cx="463.8" cy="315.9" r="3.55"/>
<circle cx="320.9" cy="51.4" r="3.55"/>
<circle cx="518.7" cy="78.7" r="3.55"/>
<circle cx="467.8" cy="277.9" r="3.55"/>
<circle cx="195.4" cy="48.9" r="3.55"/>
<circle cx="104.2" cy="306.3" r="3.55"/>
<circle cx="225.3" cy="54.0" r="3.55"/>
<circle cx="354.6" cy="51.6" r="3.55"/>
<circle cx="254.9" cy="54.3" r="3.55"/>
<circle cx="169.9" cy="341.9" r="3.55"/>
<circle cx="379.3" cy="336.8" r="3.55"/>
<circle cx="226.0" cy="340.1" r="3.55"/>
<circle cx="258.5" cy="49.7" r="3.55"/>
<circle cx="346.2" cy="51.8" r="3.55"/>
<circle cx="130.2" cy="345.4" r="3.55"/>
<circle cx="296.3" cy="54.2" r="3.55"/>
<circle cx="335.9" cy="52.0" r="3.55"/>
<circle cx="443.1" cy="45.7" r="3.55"/>
<circle cx="391.2" cy="337.6" r="3.55"/>
<circle cx="141.7" cy="345.4" r="3.55"/>
<circle cx="204.5" cy="119.7" r="3.55"/>
<circle cx="227.5" cy="57.4" r="3.55"/>
<circle cx="441.2" cy="339.2" r="3.55"/>
<circle cx="230.7" cy="48.7" r="3.55"/>
<circle cx="473.3" cy="286.5" r="3.55"/>
<circle cx="275.9" cy="50.1" r="3.55"/>
<circle cx="477.6" cy="329.8" r="3.55"/>
<circle cx="290.0" cy="336.3" r="3.55"/>
<circle cx="447.8" cy="45.3" r="3.55"/>
<circle cx="244.0" cy="56.1" r="3.55"/>
<circle cx="448.8" cy="263.1" r="3.55"/>
<circle cx="298.8" cy="50.8" r="3.55"/>
<circle cx="204.9" cy="47.8" r="3.55"/>
<circle cx="332.4" cy="335.6" r="3.55"/>
<circle cx="497.7" cy="309.8" r="3.55"/>
<circle cx="400.4" cy="49.2" r="3.55"/>
<circle cx="173.5" cy="344.6" r="3.55"/>
<circle cx="473.9" cy="304.7" r="3.55"/>
<circle cx="508.5" cy="58.1" r="3.55"/>
<circle cx="404.6" cy="52.3" r="3.55"/>
<circle cx="349.0" cy="336.1" r="3.55"/>
<circle cx="134.9" cy="325.6" r="3.55"/>
<circle cx="439.5" cy="339.5" r="3.55"/>
<circle cx="243.3" cy="49.4" r="3.55"/>
<circle cx="109.9" cy="341.2" r="3.55"/>
<circle cx="260.9" cy="336.6" r="3.55"/>
<circle cx="469.2" cy="267.2" r="3.55"/>
<circle cx="488.7" cy="42.2" r="3.55"/>
<circle cx="280.8" cy="336.5" r="3.55"/>
<circle cx="323.9" cy="51.8" r="3.55"/>
<circle cx="542.2" cy="79.8" r="3.55"/>
<circle cx="445.7" cy="45.7" r="3.55"/>
<circle cx="426.2" cy="331.2" r="3.55"/>
<circle cx="247.1" cy="335.3" r="3.55"/>
<circle cx="163.2" cy="334.4" r="3.55"/>
<circle cx="233.7" cy="49.1" r="3.55"/>
<circle cx="150.3" cy="73.1" r="3.55"/>
<circle cx="190.8" cy="54.6" r="3.55"/>
<circle cx="205.9" cy="56.2" r="3.55"/>
<circle cx="451.5" cy="331.4" r="3.55"/>
<circle cx="252.8" cy="49.0" r="3.55"/>
<circle cx="375.8" cy="53.0" r="3.55"/>
<circle cx="164.6" cy="344.1" r="3.55"/>
<circle cx="125.0" cy="334.5" r="3.55"/>
<circle cx="415.4" cy="51.0" r="3.55"/>
<circle cx="373.3" cy="50.5" r="3.55"/>
<circle cx="268.1" cy="50.1" r="3.55"/>
<circle cx="479.1" cy="286.1" r="3.55"/>
<circle cx="195.7" cy="341.3" r="3.55"/>
<circle cx="458.9" cy="328.9" r="3.55"/>
<circle cx="391.3" cy="50.2" r="3.55"/>
<circle cx="253.0" cy="49.3" r="3.55"/>
<circle cx="447.7" cy="328.5" r="3.55"/>
<circle cx="314.2" cy="335.6" r="3.55"/>
<circle cx="520.8" cy="55.3" r="3.55"/>
<circle cx="159.5" cy="344.5" r="3.55"/>
<circle cx="179.3" cy="70.1" r="3.55"/>
<circle cx="425.4" cy="339.2" r="3.55"/>
<circle cx="433.9" cy="332.0" r="3.55"/>
<circle cx="446.9" cy="310.7" r="3.55"/>
<circle cx="362.9" cy="333.0" r="3.55"/>
<circle cx="289.3" cy="334.6" r="3.55"/>
<circle cx="189.8" cy="66.0" r="3.55"/>
<circle cx="155.7" cy="63.8" r="3.55"/>
<circle cx="361.4" cy="336.1" r="3.55"/>
<circle cx="516.9" cy="53.5" r="3.55"/>
<circle cx="321.6" cy="51.9" r="3.55"/>
<circle cx="460.6" cy="280.0" r="3.55"/>
<circle cx="405.1" cy="338.1" r="3.55"/>
<circle cx="376.0" cy="337.2" r="3.55"/>
<circle cx="133.8" cy="345.3" r="3.55"/>
<circle cx="529.4" cy="99.2" r="3.55"/>
<circle cx="452.2" cy="269.6" r="3.55"/>
<circle cx="274.0" cy="50.1" r="3.55"/>
<circle cx="275.4" cy="50.5" r="3.55"/>
<circle cx="406.9" cy="52.6" r="3.55"/>
<circle cx="540.9" cy="82.9" r="3.55"/>
<circle cx="302.7" cy="335.6" r="3.55"/>
<circle cx="438.8" cy="50.1" r="3.55"/>
<circle cx="171.1" cy="339.4" r="3.55"/>
<circle cx="498.3" cy="47.5" r="3.55"/>
<circle cx="246.9" cy="56.8" r="3.55"/>
<circle cx="483.8" cy="45.9" r="3.55"/>
<circle cx="493.0" cy="103.0" r="3.55"/>
<circle cx="498.0" cy="108.0" r="3.55"/>
<circle cx="503.0" cy="108.0" r="3.55"/>
<circle cx="497.0" cy="114.0" r="3.55"/>
<circle cx="490.0" cy="112.0" r="3.55"/>
<circle cx="486.0" cy="114.0" r="3.55"/>
<circle cx="499.0" cy="114.0" r="3.55"/>
<circle cx="493.0" cy="117.0" r="3.55"/>
<circle cx="504.0" cy="114.0" r="3.55"/>
<circle cx="447.0" cy="144.0" r="3.55"/>
<circle cx="451.0" cy="139.0" r="3.55"/>
<circle cx="457.0" cy="134.0" r="3.55"/>
<circle cx="440.0" cy="150.0" r="3.55"/>
<circle cx="456.0" cy="139.0" r="3.55"/>
<circle cx="231.0" cy="141.0" r="3.55"/>
<circle cx="230.0" cy="150.0" r="3.55"/>
<circle cx="238.0" cy="149.0" r="3.55"/>
<circle cx="238.4" cy="151.6" r="3.55"/>
<circle cx="237.0" cy="155.6" r="3.55"/>
<circle cx="242.0" cy="159.6" r="3.55"/>
<circle cx="245.0" cy="156.0" r="3.55"/>
<circle cx="250.0" cy="163.0" r="3.55"/>
<circle cx="253.0" cy="156.0" r="3.55"/>
<circle cx="256.0" cy="158.0" r="3.55"/>
<circle cx="274.0" cy="167.0" r="3.55"/>
<circle cx="278.0" cy="171.6" r="3.55"/>
<circle cx="283.0" cy="170.0" r="3.55"/>
<circle cx="287.0" cy="173.6" r="3.55"/>
<circle cx="289.6" cy="175.6" r="3.55"/>
<circle cx="302.4" cy="174.0" r="3.55"/>
<circle cx="305.6" cy="178.0" r="3.55"/>
<circle cx="309.6" cy="176.0" r="3.55"/>
<circle cx="314.0" cy="178.0" r="3.55"/>
<circle cx="321.6" cy="177.0" r="3.55"/>
<circle cx="335.0" cy="177.6" r="3.55"/>
<circle cx="338.0" cy="178.0" r="3.55"/>
<circle cx="343.6" cy="177.6" r="3.55"/>
<circle cx="359.0" cy="176.0" r="3.55"/>
<circle cx="364.4" cy="176.0" r="3.55"/>
<circle cx="363.6" cy="172.4" r="3.55"/>
<circle cx="406.4" cy="157.6" r="3.55"/>
<circle cx="409.0" cy="159.6" r="3.55"/>
<circle cx="423.0" cy="154.4" r="3.55"/>
<circle cx="424.0" cy="151.6" r="3.55"/>
<circle cx="427.6" cy="152.0" r="3.55"/>
<circle cx="431.0" cy="154.4" r="3.55"/>
<circle cx="434.5" cy="153.8" r="3.55"/>
<circle cx="435.2" cy="150.8" r="3.55"/>
<circle cx="437.5" cy="144.8" r="3.55"/>
<circle cx="441.2" cy="147.0" r="3.55"/>
<circle cx="442.0" cy="138.8" r="3.55"/>
<circle cx="446.5" cy="147.8" r="3.55"/>
<circle cx="445.0" cy="141.8" r="3.55"/>
<circle cx="448.8" cy="135.8" r="3.55"/>
<circle cx="449.5" cy="141.0" r="3.55"/>
<circle cx="453.2" cy="130.5" r="3.55"/>
<circle cx="454.0" cy="141.0" r="3.55"/>
<circle cx="452.5" cy="137.2" r="3.55"/>
<circle cx="460.8" cy="132.8" r="3.55"/>
<circle cx="462.2" cy="141.0" r="3.55"/>
<circle cx="463.8" cy="136.5" r="3.55"/>
<circle cx="465.2" cy="129.0" r="3.55"/>
<circle cx="463.0" cy="132.0" r="3.55"/>
<circle cx="470.5" cy="131.2" r="3.55"/>
<circle cx="475.8" cy="111.0" r="3.55"/>
<circle cx="473.5" cy="120.0" r="3.55"/>
<circle cx="474.2" cy="121.2" r="3.55"/>
<circle cx="478.8" cy="118.5" r="3.55"/>
<circle cx="483.2" cy="111.8" r="3.55"/>
<circle cx="481.0" cy="125.2" r="3.55"/>
<circle cx="481.0" cy="130.5" r="3.55"/>
<circle cx="487.8" cy="120.0" r="3.55"/>
<circle cx="488.5" cy="125.2" r="3.55"/>
<circle cx="491.5" cy="126.0" r="3.55"/>
<circle cx="490.8" cy="115.5" r="3.55"/>
<circle cx="496.0" cy="119.2" r="3.55"/>
<circle cx="501.2" cy="118.5" r="3.55"/>
<circle cx="495.2" cy="110.2" r="3.55"/>
<circle cx="499.0" cy="111.0" r="3.55"/>
<circle cx="506.5" cy="111.0" r="3.55"/>
<circle cx="495.0" cy="106.0" r="3.55"/>
<circle cx="500.0" cy="106.0" r="3.55"/>
<circle cx="504.0" cy="106.5" r="3.55"/>
<circle cx="505.0" cy="106.0" r="3.55"/>
<circle cx="507.0" cy="111.0" r="3.55"/>
<circle cx="216.4" cy="71.4" r="3.55"/>
<circle cx="516.4" cy="110.0" r="3.55"/>
<circle cx="570.0" cy="45.0" r="3.55"/>
<circle cx="573.6" cy="46.6" r="3.55"/>
<circle cx="569.0" cy="58.0" r="3.55"/>
<circle cx="571.0" cy="62.0" r="3.55"/>
<circle cx="564.0" cy="70.0" r="3.55"/>
<circle cx="545.0" cy="89.0" r="3.55"/>
<circle cx="186.8" cy="257.8" r="3.55"/>
<circle cx="189.2" cy="255.4" r="3.55"/>
<circle cx="191.6" cy="257.8" r="3.55"/>
<circle cx="183.2" cy="260.8" r="3.55"/>
<circle cx="172.4" cy="265.0" r="3.55"/>
<circle cx="164.0" cy="269.8" r="3.55"/>
<circle cx="154.4" cy="275.8" r="3.55"/>
<circle cx="182.6" cy="257.2" r="3.55"/>
<circle cx="190.4" cy="265.0" r="3.55"/>
<circle cx="247.0" cy="223.4" r="3.55"/>
<circle cx="250.0" cy="226.0" r="3.55"/>
<circle cx="239.0" cy="229.0" r="3.55"/>
<circle cx="231.0" cy="235.0" r="3.55"/>
<circle cx="224.0" cy="231.0" r="3.55"/>
<circle cx="220.0" cy="236.0" r="3.55"/>
<circle cx="223.0" cy="239.0" r="3.55"/>
<circle cx="221.0" cy="245.0" r="3.55"/>
<circle cx="219.0" cy="241.0" r="3.55"/>
<circle cx="213.6" cy="246.0" r="3.55"/>
<circle cx="203.0" cy="242.0" r="3.55"/>
<circle cx="204.0" cy="246.0" r="3.55"/>
<circle cx="205.6" cy="252.0" r="3.55"/>
<circle cx="199.0" cy="254.0" r="3.55"/>
<circle cx="198.0" cy="249.0" r="3.55"/>
<circle cx="190.0" cy="247.4" r="3.55"/>
<circle cx="194.0" cy="253.0" r="3.55"/>
<circle cx="185.0" cy="253.0" r="3.55"/>
<circle cx="187.0" cy="258.0" r="3.55"/>
<circle cx="192.0" cy="259.0" r="3.55"/>
<circle cx="193.6" cy="262.0" r="3.55"/>
<circle cx="186.0" cy="266.0" r="3.55"/>
<circle cx="190.0" cy="263.0" r="3.55"/>
<circle cx="178.0" cy="264.0" r="3.55"/>
<circle cx="170.0" cy="257.4" r="3.55"/>
<circle cx="168.0" cy="264.6" r="3.55"/>
<circle cx="160.0" cy="264.6" r="3.55"/>
<circle cx="167.0" cy="269.0" r="3.55"/>
<circle cx="171.0" cy="271.0" r="3.55"/>
<circle cx="175.6" cy="275.4" r="3.55"/>
<circle cx="176.0" cy="267.0" r="3.55"/>
<circle cx="163.0" cy="274.0" r="3.55"/>
<circle cx="156.0" cy="273.0" r="3.55"/>
<circle cx="149.0" cy="271.0" r="3.55"/>
<circle cx="151.0" cy="276.0" r="3.55"/>
<circle cx="158.0" cy="279.0" r="3.55"/>
<circle cx="146.0" cy="281.0" r="3.55"/>
<circle cx="150.0" cy="284.0" r="3.55"/>
<circle cx="162.0" cy="284.0" r="3.55"/>
<circle cx="240.0" cy="229.0" r="3.55"/>
<circle cx="247.6" cy="224.0" r="3.55"/>
<circle cx="268.0" cy="221.6" r="3.55"/>
<circle cx="271.0" cy="221.0" r="3.55"/>
<circle cx="281.0" cy="214.0" r="3.55"/>
<circle cx="283.6" cy="214.0" r="3.55"/>
<circle cx="287.6" cy="214.4" r="3.55"/>
<circle cx="301.0" cy="211.0" r="3.55"/>
<circle cx="301.4" cy="213.0" r="3.55"/>
<circle cx="314.0" cy="211.0" r="3.55"/>
<circle cx="315.6" cy="209.6" r="3.55"/>
<circle cx="317.6" cy="208.6" r="3.55"/>
<circle cx="323.6" cy="208.6" r="3.55"/>
<circle cx="327.0" cy="209.6" r="3.55"/>
<circle cx="338.4" cy="208.6" r="3.55"/>
<circle cx="344.6" cy="209.2" r="3.55"/>
<circle cx="377.6" cy="215.0" r="3.55"/>
<circle cx="390.0" cy="223.4" r="3.55"/>
<circle cx="397.0" cy="223.0" r="3.55"/>
<circle cx="399.0" cy="221.0" r="3.55"/>
<circle cx="397.6" cy="226.0" r="3.55"/>
<circle cx="415.0" cy="227.0" r="3.55"/>
<circle cx="413.0" cy="231.0" r="3.55"/>
<circle cx="410.0" cy="234.0" r="3.55"/>
<circle cx="413.0" cy="235.0" r="3.55"/>
<circle cx="431.0" cy="234.0" r="3.55"/>
<circle cx="427.0" cy="238.0" r="3.55"/>
<circle cx="434.0" cy="239.0" r="3.55"/>
<circle cx="425.0" cy="242.0" r="3.55"/>
<circle cx="430.0" cy="242.4" r="3.55"/>
<circle cx="437.0" cy="244.0" r="3.55"/>
<circle cx="424.0" cy="247.0" r="3.55"/>
<circle cx="433.0" cy="244.0" r="3.55"/>
<circle cx="445.0" cy="244.0" r="3.55"/>
<circle cx="442.0" cy="249.0" r="3.55"/>
<circle cx="436.0" cy="252.0" r="3.55"/>
<circle cx="445.6" cy="254.4" r="3.55"/>
<circle cx="436.4" cy="259.0" r="3.55"/>
<circle cx="441.0" cy="256.0" r="3.55"/>
<circle cx="454.0" cy="254.0" r="3.55"/>
<circle cx="460.0" cy="255.6" r="3.55"/>
<circle cx="454.0" cy="261.0" r="3.55"/>
<circle cx="460.0" cy="261.0" r="3.55"/>
<circle cx="446.0" cy="265.0" r="3.55"/>
<circle cx="441.0" cy="267.0" r="3.55"/>
<circle cx="452.0" cy="268.0" r="3.55"/>
<circle cx="464.0" cy="267.0" r="3.55"/>
<circle cx="469.0" cy="264.0" r="3.55"/>
<circle cx="484.0" cy="274.0" r="3.55"/>
<circle cx="493.0" cy="282.0" r="3.55"/>
<circle cx="500.0" cy="288.0" r="3.55"/>
<circle cx="513.0" cy="307.0" r="3.55"/>
<circle cx="509.0" cy="324.0" r="3.55"/>
</g>
<g class="t" text-anchor="middle"><text x="101.64" y="372.0">−0.15</text><text x="177.16" y="372.0">−0.10</text><text x="252.68" y="372.0">−0.05</text><text x="328.20" y="372.0">0.00</text><text x="403.72" y="372.0">0.05</text><text x="479.24" y="372.0">0.10</text><text x="554.76" y="372.0">0.15</text></g>
<g class="t" text-anchor="end"><text x="63.8" y="311.60">−0.10</text><text x="63.8" y="254.85">−0.05</text><text x="63.8" y="198.10">0.00</text><text x="63.8" y="141.35">0.05</text><text x="63.8" y="84.60">0.10</text></g>
<text class="g" text-anchor="middle" x="329.8" y="391.6">Displacement</text>
<text class="g" text-anchor="middle" transform="translate(16.3,193.1) rotate(-90)">Momentum</text>
<text class="h" text-anchor="middle" x="329.9" y="17.8">Phase Space for Mass 7 when Mass 4 crosses 0</text>
</svg></body></html>
